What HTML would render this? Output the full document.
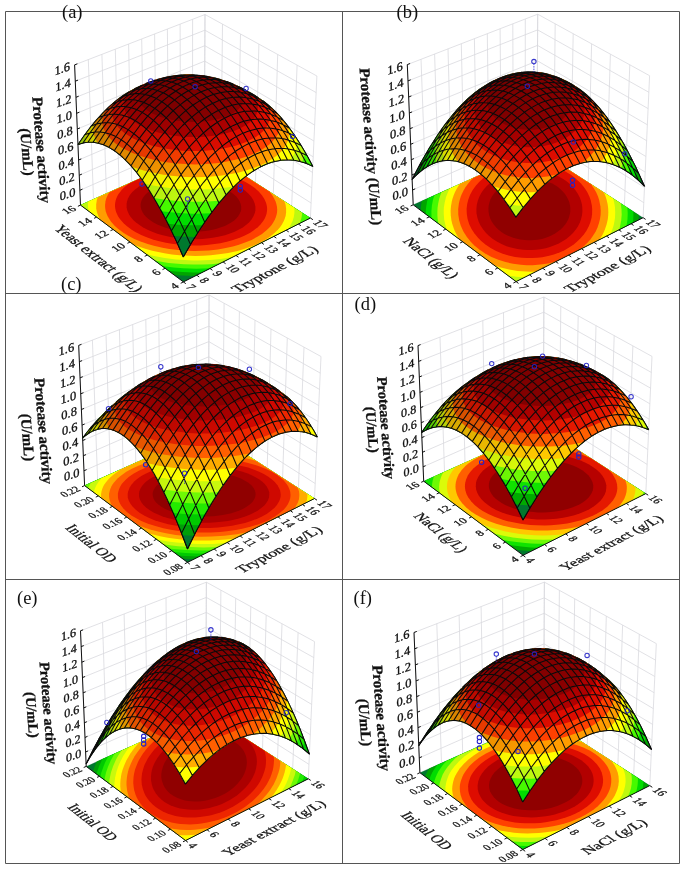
<!DOCTYPE html>
<html><head><meta charset="utf-8"><title>Response surface plots</title>
<style>html,body{margin:0;padding:0;background:#fff}svg{display:block}text{font-family:"Liberation Serif","Times New Roman",serif}</style>
</head><body>
<svg width="685" height="871" viewBox="0 0 685 871">
<defs><linearGradient id="sha" gradientUnits="userSpaceOnUse" x1="110" y1="50" x2="290" y2="230"><stop offset="0.1" stop-color="#000" stop-opacity="0.24"/><stop offset="0.3" stop-color="#000" stop-opacity="0.14"/><stop offset="0.6" stop-color="#000" stop-opacity="0"/><stop offset="1" stop-color="#000" stop-opacity="0"/></linearGradient><clipPath id="cla"><rect x="5.5" y="11.5" width="337.0" height="282.0"/></clipPath><linearGradient id="shb" gradientUnits="userSpaceOnUse" x1="442.7" y1="49.7" x2="622.7" y2="229.7"><stop offset="0.1" stop-color="#000" stop-opacity="0.24"/><stop offset="0.3" stop-color="#000" stop-opacity="0.14"/><stop offset="0.6" stop-color="#000" stop-opacity="0"/><stop offset="1" stop-color="#000" stop-opacity="0"/></linearGradient><clipPath id="clb"><rect x="342.5" y="11.5" width="337.0" height="282.0"/></clipPath><linearGradient id="shc" gradientUnits="userSpaceOnUse" x1="114.1" y1="330.5" x2="294.1" y2="510.5"><stop offset="0.1" stop-color="#000" stop-opacity="0.24"/><stop offset="0.3" stop-color="#000" stop-opacity="0.14"/><stop offset="0.6" stop-color="#000" stop-opacity="0"/><stop offset="1" stop-color="#000" stop-opacity="0"/></linearGradient><clipPath id="clc"><rect x="5.5" y="293.5" width="337.0" height="286.0"/></clipPath><linearGradient id="shd" gradientUnits="userSpaceOnUse" x1="452.2" y1="331.3" x2="626" y2="505.2"><stop offset="0.1" stop-color="#000" stop-opacity="0.24"/><stop offset="0.3" stop-color="#000" stop-opacity="0.14"/><stop offset="0.6" stop-color="#000" stop-opacity="0"/><stop offset="1" stop-color="#000" stop-opacity="0"/></linearGradient><clipPath id="cld"><rect x="342.5" y="293.5" width="337.0" height="286.0"/></clipPath><linearGradient id="she" gradientUnits="userSpaceOnUse" x1="114.7" y1="616.5" x2="288.5" y2="790.4"><stop offset="0.1" stop-color="#000" stop-opacity="0.24"/><stop offset="0.3" stop-color="#000" stop-opacity="0.14"/><stop offset="0.6" stop-color="#000" stop-opacity="0"/><stop offset="1" stop-color="#000" stop-opacity="0"/></linearGradient><clipPath id="cle"><rect x="5.5" y="579.5" width="337.0" height="284.0"/></clipPath><linearGradient id="shf" gradientUnits="userSpaceOnUse" x1="449.4" y1="617.6" x2="629.4" y2="797.6"><stop offset="0.1" stop-color="#000" stop-opacity="0.24"/><stop offset="0.3" stop-color="#000" stop-opacity="0.14"/><stop offset="0.6" stop-color="#000" stop-opacity="0"/><stop offset="1" stop-color="#000" stop-opacity="0"/></linearGradient><clipPath id="clf"><rect x="342.5" y="579.5" width="337.0" height="284.0"/></clipPath></defs>
<rect width="685" height="871" fill="#fff"/>
<path d="M5.5 11.5H679.5V863.5H5.5ZM342.5 11.5V863.5M5.5 293.5H679.5M5.5 579.5H679.5" fill="none" stroke="#555" stroke-width="1"/>
<g id="pa" clip-path="url(#cla)">
<path d="M80.5 205.1L204.3 149.7L205 14.5L74.6 64.9Z" fill="#fff"/>
<path d="M310.4 218L204.3 149.7L205 14.5L316.9 76Z" fill="#fff"/>
<path d="M80.5 205.1L74.6 64.9M93.5 199.3L88.3 59.5M106.4 193.6L101.9 54.3M119.1 187.9L115.3 49.1M131.7 182.3L128.6 44M144.1 176.7L141.7 39M156.4 171.2L154.6 34M168.6 165.7L167.4 29M180.6 160.3L180.1 24.1M192.5 155L192.6 19.3M204.3 149.7L205 14.5M310.4 218L316.9 76M291.7 206L297.1 65.1M273.3 194.2L277.7 54.5M255.5 182.7L258.9 44.1M238 171.4L240.5 34M221 160.5L222.5 24.1M204.3 149.7L205 14.5M79.9 190.3L204.4 135.4L311.1 203M79.3 175.2L204.4 120.8L311.8 187.8M78.6 160L204.5 106.1L312.5 172.4M78 144.6L204.6 91.3L313.2 156.8M77.3 129L204.7 76.3L313.9 141M76.6 113.3L204.7 61.1L314.7 125.1M76 97.3L204.8 45.7L315.4 108.9M75.3 81.2L204.9 30.2L316.2 92.6M74.6 64.9L205 14.5L316.9 76M80.5 205.1L204.3 149.7L310.4 218" fill="none" stroke="#d9d9de" stroke-width="0.8"/>
<path d="M183.4 281.9L310.4 218L204.3 149.7L80.5 205.1Z" fill="#00782e"/>
<path d="M195 276.1L182.4 275.6L174.1 275L80.5 205.1L204.3 149.7L310.4 218Z" fill="#00a500"/>
<path d="M202.3 272.4L193.3 272.4L182.9 272L175.9 271.5L168.4 270.8L80.5 205.1L204.3 149.7L310.4 218Z" fill="#00dc00"/>
<path d="M308.9 217.1L308.6 219L210.6 268.3L202.9 268.6L196.4 268.7L183.3 268.3L173.6 267.5L162.1 266L80.5 205.1L202.4 150.6L206.1 150.9Z" fill="#46fa00"/>
<path d="M301.5 217.7L300.7 220.6L299.6 223.5L220.3 263.3L211.3 264.2L202.2 264.6L193 264.6L183.8 264.3L177.7 263.8L168.6 262.9L162.7 262L154.9 260.6L80.5 205.1L196 153.4L199.9 153.6L212.1 154.8L302.1 212.7L302 214.8Z" fill="#bef810"/>
<path d="M293.8 216.9L292.6 220.9L291.4 223.6L289.9 226.2L287.5 229.6L233.2 256.9L226.3 258.1L220.9 258.9L209.8 259.9L198.5 260.4L192.8 260.4L184.3 260.1L175.8 259.4L164.7 258L153.9 256L146 254L88.5 211.1L88 207.1L88 204.3L88.3 201.6L188.9 156.7L199.3 157L209.5 157.9L219.1 159.3L294.3 207.7L294.5 210.1L294.4 212.8Z" fill="#ffff00"/>
<path d="M285.6 216L284.8 218.5L283.8 220.9L281.9 224.6L280.2 226.9L278.3 229.3L275 232.6L272.4 234.8L269.6 236.9L265 239.9L258.1 243.6L252.4 246.1L244.1 249L237.5 250.9L228.2 252.9L220.9 254.1L210.8 255.3L203.1 255.7L195.3 255.9L184.8 255.6L179.6 255.2L171.9 254.4L164.4 253.2L157 251.8L152.2 250.7L145.2 248.8L138.6 246.6L133.4 244.6L100.3 219.9L98.2 215.7L96.9 212L96.2 208.2L96.2 204.5L96.7 200.8L97.6 197.5L180.3 160.5L189.1 160.4L198.6 160.7L205.7 161.3L212.7 162.2L219.6 163.3L228.1 165L284.5 201.4L285.6 204.7L286.1 208.5L286.1 212.3Z" fill="#ff9c00"/>
<path d="M276.5 215L275.8 217.3L274.9 219.5L273.1 222.8L271.6 224.9L269.9 227L266.8 230L262 233.9L257.8 236.6L251.6 239.9L246.4 242.1L238.9 244.8L232.9 246.4L224.5 248.3L217.9 249.4L208.8 250.4L201.9 250.8L194.8 250.9L185.4 250.7L178.4 250.1L169.2 248.9L162.5 247.7L153.8 245.7L147.7 243.9L139.9 241.2L134.4 238.9L127.8 235.4L123.3 232.7L118 228.8L114.6 225.7L110.9 221.4L108.7 218.1L107.5 215.9L106.5 213.6L105.8 211.4L105.3 209.1L105.1 206.9L105.1 204.6L105.5 201.2L106.4 197.9L107.9 194.7L109.4 192.2L169.3 165.4L176.4 164.8L182.8 164.5L191.4 164.5L197.9 164.8L204.4 165.4L210.7 166.1L221.1 167.9L227.1 169.3L232.9 171L238.5 172.8L242.4 174.3L269.4 191.6L270.4 192.8L272.7 196L274 198.2L275.6 201.5L276.3 203.7L277 207.1L277.2 209.4L277 212.8Z" fill="#ff4000"/>
<path d="M266.5 214L265.8 215.9L265 217.9L263.4 220.8L260.5 224.5L257.8 227.2L253.5 230.5L249.8 232.9L244.3 235.8L239.7 237.8L233.1 240.1L227.8 241.6L220.4 243.2L214.6 244.1L206.6 245L200.5 245.4L194.3 245.5L186.1 245.2L179.9 244.8L171.8 243.7L165.9 242.7L158.3 240.9L152.8 239.4L146 236.9L141.2 234.9L135.3 231.9L131.3 229.5L126.7 226.1L123.6 223.3L120.3 219.6L118.3 216.7L116.4 212.7L115.7 210.7L115.3 208.7L115 206.7L115 204.7L115.2 202.8L115.6 200.8L116.2 198.8L117.4 196L118.5 194.1L120.5 191.4L122 189.6L124.7 187.1L127.8 184.6L130.5 182.8L148.8 174.6L154.6 173L159.7 171.8L165.1 170.8L172.4 169.9L178 169.4L183.7 169.2L191.4 169.2L197.1 169.4L204.7 170.1L212.2 171.2L219.5 172.6L226.5 174.4L233.1 176.5L239.3 179L245 181.7L250.2 184.8L254.8 188.1L258.7 191.5L261.9 195.2L264.4 199L266.1 203L266.6 205L267 207L267.1 209L267 211Z" fill="#de0c00"/>
<path d="M254.9 212.7L253.6 216L251.7 219.3L249 222.4L246.6 224.6L242.8 227.4L239.5 229.3L234.7 231.7L230.7 233.3L225 235.2L220.5 236.3L214.2 237.6L209.2 238.3L202.4 239L197.3 239.2L192 239.2L185.1 238.9L179.9 238.5L173.1 237.5L168.2 236.6L161.8 235L157.3 233.7L151.6 231.5L147.6 229.8L142.8 227.2L139.5 225.1L135.7 222.2L133.2 219.9L130.5 216.7L128.9 214.2L127.4 210.8L126.6 207.4L126.6 204.1L127 201.6L128.1 198.3L129.9 195.1L132.3 192L135.4 189.2L139 186.5L143.2 184L147.9 181.8L153 179.9L158.5 178.2L164.3 176.8L170.4 175.8L176.7 175L183.1 174.6L189.7 174.5L196.2 174.8L202.7 175.4L209 176.3L215.2 177.5L221.2 179L226.8 180.9L232.1 183L237 185.3L241.4 187.9L245.2 190.7L248.5 193.7L251.2 196.8L253.3 200.1L254.7 203.4L255.4 206.8L255.4 210.2Z" fill="#b20000"/>
<path d="M240.8 211.2L239.7 213.8L238.2 216.3L236.1 218.7L234.2 220.4L231.2 222.6L228.6 224.1L224.9 225.9L221.8 227.1L217.4 228.6L213.9 229.5L208.9 230.5L205.1 231L199.8 231.5L195.8 231.7L191.8 231.7L186.4 231.5L182.4 231.1L177.1 230.4L173.3 229.7L168.3 228.5L164.8 227.4L160.4 225.8L157.3 224.4L153.5 222.5L150.9 220.8L147.9 218.6L146 216.8L143.8 214.3L142.6 212.3L141.4 209.7L140.7 207.1L140.6 204.5L140.9 202.5L141.7 199.9L143.1 197.4L145 195L147.4 192.8L150.2 190.7L153.5 188.7L157.1 187L161.1 185.4L165.4 184.1L170 183L174.8 182.2L179.7 181.6L184.8 181.3L189.9 181.2L195 181.4L200.1 181.9L205.1 182.6L210 183.6L214.7 184.8L219.1 186.2L223.2 187.9L227 189.8L230.4 191.8L233.4 194L236 196.3L238.1 198.8L239.6 201.3L240.7 203.9L241.2 206.6L241.2 209.2Z" fill="#900000"/>
<circle cx="142" cy="184" r="2.2" fill="none" stroke="#2424c8" stroke-width="1.05"/>
<circle cx="240.3" cy="186.5" r="2.2" fill="none" stroke="#2424c8" stroke-width="1.05"/>
<circle cx="240.3" cy="190" r="2.2" fill="none" stroke="#2424c8" stroke-width="1.05"/>
<path d="M80.5 205.1L183.4 281.9L310.4 218M80.5 205.1L74.6 64.9M183.4 281.9L185.8 283.7M196.8 275.2L199.2 277M210 268.5L212.5 270.3M223.1 262L225.6 263.7M236 255.5L238.5 257.2M248.8 249L251.3 250.8M261.4 242.7L263.9 244.4M273.9 236.4L276.3 238.1M286.2 230.2L288.7 231.9M298.4 224.1L300.9 225.7M310.4 218L312.9 219.7M183.4 281.9L180.7 283.3M165.1 268.3L162.5 269.6M147.4 255L144.7 256.3M130 242.1L127.4 243.3M113.1 229.5L110.5 230.7M96.6 217.2L94 218.3M80.5 205.1L77.9 206.3M79.9 190.3L82.5 189.1M79.3 175.2L81.9 174.1M78.6 160L81.3 158.9M78 144.6L80.6 143.5M77.3 129L80 127.9M76.6 113.3L79.4 112.2M76 97.3L78.7 96.2M75.3 81.2L78 80.1M74.6 64.9L77.4 63.8" fill="none" stroke="#111" stroke-width="1"/>
<path d="M128.5 92.1L134.8 88.7L141.4 85.5L147.7 82.8L154 80.5L160.8 78.5L166.9 77.1L173.6 75.9L179.9 75.2L186.6 74.8L192.8 74.9L198.9 75.3L205.6 76.1L212 77.3L218.3 78.9L225 81L231.5 83.4L237.7 86.1L244 89.2L250.2 92.6L256.5 96.5L262.9 100.8L267.2 104.1L271.6 107.9L275.9 112.1L281.3 118L285.7 123.2L290 128.9L294.4 135.1L299.8 143.4L304.1 150.6L308.5 158.3L312.8 166.4L308.1 164.2L304.5 162.8L300.9 161.7L297.3 160.8L292.4 160.1L288.8 159.9L285 160L281.3 160.3L276.3 161.1L272.5 162.1L268.6 163.4L264.8 164.9L260.9 166.7L257 168.8L253.1 171.1L249.2 173.8L243.9 177.8L239.9 181.1L231.9 188.6L223.9 197.2L215.8 206.9L207.7 217.8L199.6 229.7L191.5 242.8L183.3 257L176.6 241.7L169.8 227.4L163.1 214.2L156.5 202.2L149.8 191.2L143.3 181.4L136.7 172.6L133.5 168.7L129.2 163.8L122.8 157.5L116.5 152.3L113.4 150.1L110.3 148.2L107.3 146.5L103.2 144.7L100.2 143.7L97.2 142.9L94.2 142.4L90.3 142.2L87.4 142.3L84.6 142.7L81.7 143.3L78 144.5L84.4 135.3L90.8 126.7L97.3 119L103.7 112L110.2 105.7L116.7 100.2L123.1 95.5Z" fill="#00782e" stroke="#111" stroke-width="1" stroke-linejoin="round"/>
<path d="M195.1 236.9L182.3 236.5L173.9 235.9L167.2 222.1L160.5 209.4L153.9 197.8L146.2 185.7L139.7 176.5L136.5 172.3L132.2 167.1L125.8 160.3L122.6 157.3L118.5 153.8L113.3 150L108.2 147L103.1 144.7L98.1 143.1L93.2 142.3L88.3 142.2L83.6 142.9L80.8 143.6L78 144.5L83.1 137L88.2 130.1L93.4 123.5L99.8 116.1L105 110.7L111.5 104.6L116.7 100.2L123.1 95.5L129.4 91.6L137 87.6L144.2 84.2L151.2 81.5L158.2 79.2L165.3 77.4L172.8 76L179.9 75.2L185.1 74.9L190.2 74.8L195.4 75L200.4 75.4L205.6 76.1L210.5 77L215.8 78.2L220.6 79.5L225.9 81.3L230.7 83.1L235.9 85.3L240.8 87.6L245.8 90.1L250.7 92.9L260.4 99.1L267.2 104.1L273.7 109.9L280.2 116.7L286.8 124.6L293.3 133.5L299.8 143.4L306.3 154.4L312.8 166.4L309.3 164.7L305.8 163.2L302.2 162.1L298.6 161.1L295 160.4L291.4 160L285.3 160L281.5 160.3L277.8 160.8L274 161.7L270.2 162.8L266.4 164.2L262.6 165.9L256.1 169.3L252.3 171.7L248.3 174.4L241.8 179.5L233.9 186.6L227.2 193.4L219.2 202.7L211.2 213L203.1 224.4Z" fill="#00a500"/>
<path d="M202.5 225.3L193.3 225.3L182.7 225L175.7 224.5L168 223.7L162.5 213L157 203L151.5 193.8L144.9 183.8L139.5 176.2L133.1 168.2L127.8 162.3L121.5 156.3L116.3 152.1L113.2 149.9L110.1 148L105 145.5L102 144.3L99 143.4L94.1 142.4L91.2 142.2L88.3 142.2L83.6 142.9L80.7 143.6L78 144.5L81.8 138.9L86.9 131.8L90.8 126.7L96 120.5L99.8 116.1L105 110.7L110.2 105.7L115.4 101.3L119.2 98.2L124.4 94.6L129.4 91.6L135.5 88.3L141.4 85.5L147.3 83L153.3 80.8L159.1 79L164.5 77.6L170.4 76.4L175.9 75.6L181.6 75L187.3 74.8L192.8 74.9L198.1 75.2L203.9 75.9L209.7 76.8L214.9 78L220.6 79.5L226 81.3L231.7 83.5L237.5 86L243.2 88.8L248.7 91.7L253.9 94.9L258.8 98L264 101.6L267.2 104.1L271.6 107.9L274.8 111L281.3 118L285.7 123.2L290 128.9L297.6 140L305.2 152.5L312.8 166.4L309.3 164.7L305.7 163.2L299.8 161.4L296.1 160.6L292.5 160.1L286.3 159.9L282.6 160.1L278.9 160.6L272.5 162.1L266.2 164.3L259.7 167.3L253.2 171.1L246.7 175.6L240.1 181L233.4 187.1L225.4 195.5L217.4 205L209.3 215.6Z" fill="#00dc00"/>
<path d="M311.4 163.7L311 165.5L305.2 163L299.2 161.3L294.4 160.4L289.6 159.9L284.7 160L279.8 160.5L274.8 161.5L269.8 163L266 164.4L262.1 166.1L258.3 168.1L254.4 170.3L250.6 172.8L246.7 175.6L240.1 180.9L232.2 188.3L225.6 195.2L217.6 204.6L211 213.3L203.2 213.6L193.2 213.7L183.1 213.3L173.2 212.6L161.5 211.2L156 201.3L150.5 192.2L145 183.9L138.5 174.9L133.2 168.2L126.8 161.3L121.5 156.3L115.3 151.3L111.2 148.6L106.1 145.9L101 144L96.1 142.7L92.2 142.2L87.4 142.3L82.6 143.1L78 144.5L84.4 135.3L90.8 126.7L97.3 119L103.7 112L110.2 105.7L116.7 100.2L123.1 95.5L128.5 92.1L137.2 87.4L145.8 83.6L154.7 80.3L163 77.9L172.1 76.1L180.4 75.1L189.4 74.8L198.1 75.2L206.6 76.3L215.1 78.1L223.7 80.5L232.5 83.8L240.8 87.6L249.9 92.4L258.8 98L266.2 103.3L272.8 109L278.3 114.6L284.9 122.3L290.5 129.5L294.9 135.8L298.2 140.8L304.8 151.7Z" fill="#46fa00"/>
<path d="M304.1 156.5L303.3 159.3L302.1 162L296.2 160.6L291.4 160L285.3 159.9L280.4 160.4L274.1 161.6L269.1 163.2L264 165.2L258.9 167.7L253.8 170.7L248.6 174.2L243.4 178.1L239.5 181.4L234.3 186.3L230.3 190.2L225 195.9L221 200.5L211.8 201.3L202.4 201.7L193 201.7L183.6 201.4L177.4 201L168.1 200.1L162 199.3L154 197.9L148.5 189.1L143 181L137.6 173.7L131.2 166L125.8 160.4L120.6 155.5L115.4 151.4L112.3 149.3L109.2 147.5L105.1 145.5L101.1 144L97.1 142.9L93.2 142.3L89.3 142.2L85.5 142.5L81.7 143.3L78 144.5L83.1 137L89.5 128.4L96 120.5L102.4 113.3L107.6 108.1L114.1 102.3L120.5 97.3L127 93L135.5 88.3L143.6 84.5L152.1 81.2L160.8 78.5L169 76.6L177.4 75.4L185.9 74.8L194.5 74.9L203.1 75.8L212 77.3L220.6 79.5L229.2 82.5L237.7 86.1L246.6 90.6L255.6 95.9L264 101.6L267.3 104.2L270.6 107L277.2 113.4L283.8 120.9L290.4 129.5L294.8 135.8L298.1 140.8L304.7 151.7L304.6 153.7Z" fill="#bef810"/>
<path d="M296.5 147.8L295.3 151.7L294 154.3L292.5 156.8L290.1 160L286.4 159.9L282.8 160.1L276.6 161.1L272.9 162L269.1 163.2L262.8 165.8L258.9 167.7L255.1 169.9L248.7 174.1L244.8 177.1L240.9 180.3L234.3 186.2L227.2 187.4L221.7 188.1L210.3 189.2L198.7 189.6L192.9 189.6L184.1 189.3L175.4 188.7L164 187.3L152.9 185.4L144.8 183.6L138.4 174.7L132 166.9L125.7 160.2L122.5 157.2L118.4 153.7L114.3 150.7L110.2 148.1L106.2 146L102.2 144.4L98.3 143.2L94.4 142.5L90.5 142.2L85.8 142.5L85.3 138.6L85.3 136.1L85.7 133.5L89.5 128.4L97.3 119L105 110.6L111.5 104.5L118 99.2L124.4 94.6L130.4 91.1L138.1 87L146 83.5L154 80.5L162.3 78.1L170.4 76.4L178.2 75.3L186.6 74.8L194.5 74.9L203.1 75.8L212 77.3L220.6 79.5L229.1 82.5L237.7 86.1L246.3 90.4L254.7 95.4L262.9 100.8L267.3 104.2L270.6 107L277.2 113.4L281.6 118.2L284.9 122.2L291.5 130.9L297 139L297.2 141.3L297.2 143.9Z" fill="#ffff00"/>
<path d="M288.3 139.1L287.6 141.5L286.6 143.8L284.6 147.3L282.9 149.5L280.9 151.7L277.5 155L274.9 157L272 159L267.3 161.9L260.2 165.4L254.3 167.8L245.8 170.6L238.9 172.4L229.3 174.3L221.8 175.5L211.4 176.6L203.4 177L195.4 177.2L184.7 176.9L179.3 176.6L171.4 175.8L163.5 174.7L155.9 173.3L151 172.3L143.8 170.5L137 168.4L131.6 166.5L127.4 161.9L123.2 157.8L119 154.2L114.8 151L110.7 148.4L106.6 146.2L102.6 144.5L97.6 143L95.4 139L94.1 135.5L93.5 131.9L93.4 128.4L93.9 124.8L94.9 121.7L100 115.9L106.5 109.2L112.9 103.3L119.3 98.2L125.7 93.8L133.7 89.2L141.4 85.5L148.8 82.4L156.5 79.8L164.3 77.6L172.1 76.1L179.7 75.2L187.3 74.8L194.5 74.9L202.7 75.7L211.2 77.2L219.2 79.1L227.6 81.9L235.9 85.3L244 89.2L252.3 93.9L260.4 99.1L267.3 104.2L273.9 110.1L280.6 117.1L287.2 125.2L288.3 128.4L288.9 131.9L288.9 135.5Z" fill="#ff9c00"/>
<path d="M279.3 130.3L278.6 132.4L277.7 134.5L275.8 137.6L274.2 139.6L272.5 141.6L269.3 144.5L264.3 148.1L260 150.7L253.6 153.8L248.2 155.9L240.5 158.5L234.3 160.1L225.6 161.8L218.8 162.9L209.4 163.8L202.2 164.2L195 164.4L185.2 164.1L178 163.6L168.5 162.5L161.5 161.4L152.6 159.5L146.2 157.8L138.2 155.2L132.6 153L125.7 149.8L121.1 147.2L115.6 143.5L112.1 140.6L108.3 136.5L106 133.4L104.8 131.3L103.8 129.2L103 127L102.6 124.9L102.3 122.7L102.3 120.6L102.9 116.9L104.2 113.3L105.2 111.2L106.5 109.3L108.1 107.7L114.4 102.1L118.2 99L122 96.3L128.3 92.2L137 87.6L144.2 84.2L151.2 81.5L158.5 79.1L166 77.3L173 76L180.4 75.1L187.3 74.8L194.5 74.9L202.7 75.7L210.5 77L218.2 78.9L226 81.3L233.8 84.4L241.7 88L249.4 92.2L257.3 97L263.9 101.6L269.9 106.4L272.9 109.2L276 113.3L277.3 115.3L278.3 117.4L279.1 119.5L279.6 121.7L279.9 123.8L279.9 126L279.7 128.1Z" fill="#ff4000"/>
<path d="M269.1 121.3L268.5 123.1L267.7 125L266 127.7L263 131.2L260.2 133.7L255.8 136.9L251.9 139.1L246.2 141.9L241.5 143.7L234.7 145.9L229.2 147.3L221.5 148.9L215.5 149.8L207.2 150.6L200.9 151L194.5 151.1L185.9 150.9L179.5 150.4L171.1 149.5L165 148.5L157.1 146.8L151.5 145.4L144.4 143.1L139.4 141.2L133.3 138.4L129.2 136.1L124.4 132.9L121.2 130.3L117.8 126.8L115.7 124L113.7 120.3L113.1 118.5L112.6 116.6L112.4 114.7L112.4 112.8L112.5 111L113 109.1L113.6 107.3L114.4 105.5L116.6 102L119.7 98.6L123.4 95.4L127.3 92.8L134 89.1L140.6 85.8L147.3 83L154 80.5L160.8 78.5L167.5 76.9L174.4 75.8L181.2 75.1L187.7 74.8L194.5 74.9L202.2 75.6L209.7 76.8L216.7 78.5L224.2 80.7L231.7 83.5L239.2 86.8L246.3 90.4L253.6 94.7L258.1 97.7L261.5 100.6L264.4 103.7L267 107.3L268.7 110.9L269.6 114.2L269.7 117.5L269.6 119.4Z" fill="#de0c00"/>
<path d="M257.3 112.1L256 115.2L254.6 117.5L252 120.4L249.6 122.6L245.8 125.2L242.6 127.1L237.7 129.4L233.7 130.9L227.9 132.8L223.3 133.9L216.8 135.2L211.7 136L204.7 136.7L199.3 137L193.9 137.1L186.7 136.9L181.3 136.5L174.2 135.7L169 134.9L162.3 133.5L157.5 132.3L151.5 130.4L147.3 128.8L142.1 126.5L138.6 124.6L134.5 121.9L131.8 119.7L128.8 116.8L127 114.5L125.3 111.3L124.3 108.2L124.1 105L124.3 102.7L125.3 99.6L127.1 96.6L129.4 93.7L132.5 91L136.1 88.4L140.3 86L144.2 84.2L150.4 81.8L157 79.6L163.4 77.8L169.5 76.6L175.9 75.6L182 75L188.1 74.8L194.5 74.9L200.5 75.4L206.6 76.3L212.8 77.5L219.2 79.1L225.2 81.1L231.7 83.5L238.7 86.5L243.3 89L247.3 91.6L250.7 94.3L253.5 97.3L255.7 100.3L257.1 103.4L257.8 106.6L257.8 109.7Z" fill="#b20000"/>
<path d="M242.8 102.7L241.8 105.1L240.1 107.4L238 109.7L236 111.3L232.9 113.3L230.2 114.7L226.3 116.4L223.1 117.5L218.5 118.9L214.8 119.7L209.7 120.7L205.7 121.2L200.2 121.7L196 121.8L191.8 121.9L186.2 121.7L182 121.3L176.5 120.7L172.5 120L167.4 118.9L163.7 117.9L159.1 116.4L155.8 115.1L151.9 113.3L149.2 111.8L146.1 109.7L144.1 108L141.9 105.7L140.6 103.9L139.3 101.5L138.6 99L138.5 96.6L138.8 94.7L139.7 92.4L141.2 90L143.1 87.8L145.6 85.7L148.6 83.7L152 81.9L155.8 80.3L159.9 78.9L164.4 77.6L169 76.6L174.4 75.8L179.7 75.2L185 74.9L190.2 74.8L195 75L200.4 75.4L205.6 76.1L210.7 77.1L215.6 78.2L220.2 79.5L224.5 81.1L228.5 82.8L232 84.7L235.2 86.7L237.8 88.9L240 91.1L241.6 93.5L242.7 95.9L243.3 98.4L243.2 100.8Z" fill="#900000"/>
<path d="M128.5 92.1L134.8 88.7L141.4 85.5L147.7 82.8L154 80.5L160.8 78.5L166.9 77.1L173.6 75.9L179.9 75.2L186.6 74.8L192.8 74.9L198.9 75.3L205.6 76.1L212 77.3L218.3 78.9L225 81L231.5 83.4L237.7 86.1L244 89.2L250.2 92.6L256.5 96.5L262.9 100.8L267.2 104.1L271.6 107.9L275.9 112.1L281.3 118L285.7 123.2L294.4 135.1L299.8 143.4L304.1 150.6L312.8 166.4L308.1 164.2L304.5 162.8L297.3 160.8L292.4 160.1L288.8 159.9L281.3 160.3L276.3 161.1L272.5 162.1L264.8 164.9L257 168.8L249.2 173.8L239.9 181.1L231.9 188.6L223.9 197.2L215.8 206.9L207.7 217.8L199.6 229.7L191.5 242.8L183.3 257L176.6 241.7L169.8 227.4L163.1 214.2L156.5 202.2L149.8 191.2L143.3 181.4L136.7 172.6L129.2 163.8L122.8 157.5L116.5 152.3L110.3 148.2L107.3 146.5L103.2 144.7L97.2 142.9L94.2 142.4L90.3 142.2L84.6 142.7L81.7 143.3L78 144.5L84.4 135.3L90.8 126.7L97.3 119L103.7 112L110.2 105.7L116.7 100.2L123.1 95.5Z" fill="url(#sha)"/>
<path d="M183.3 257L177.7 244.1L170.7 229.1L163.7 215.3L156.7 202.7L149.8 191.2L143 181L136.2 171.9L129.5 164.1L122.8 157.5L120.2 155.2L116.3 152.1L113.7 150.3L109.8 147.9L107.3 146.5L103.5 144.8L100.9 143.9L97.2 142.9L94.7 142.5L91.1 142.2L88.6 142.2L85 142.6L81.5 143.4L78 144.5M183.3 257L191.8 242.3L200.3 228.7L208.7 216.4L217.2 205.2L225.6 195.3L229.8 190.8L233.9 186.6L238.1 182.7L242.2 179.1L246.4 175.8L250.5 172.9L253.8 170.7L258.6 167.9L262.7 165.8L266.7 164.1L270.7 162.6L274.7 161.5L278.6 160.7L282.5 160.1L286.4 159.9L290.3 160L294.1 160.3L297.9 161L301.7 161.9L305.4 163.1L309.1 164.6L312.8 166.4M190.5 244.5L184.8 231.8L177.8 216.9L170.8 203.2L163.8 190.7L156.9 179.4L150.1 169.4L143.2 160.5L136.5 152.9L129.8 146.4L127.2 144.2L123.3 141.2L120.6 139.4L116.8 137.1L114.2 135.8L110.4 134.3L107.8 133.5L104.1 132.6L101.6 132.2L97.9 132L95.5 132.1L91.8 132.6L88.3 133.5L84.7 134.8M177.4 243.5L185.9 228.9L194.3 215.5L202.8 203.3L211.2 192.3L219.6 182.5L223.8 178.1L228 174L232.2 170.2L236.3 166.7L240.5 163.5L244.6 160.6L247.8 158.5L252.7 155.8L256.8 153.8L260.8 152.2L264.8 150.8L268.8 149.8L272.8 149L276.7 148.6L280.6 148.5L284.4 148.6L288.3 149.1L292.1 149.8L295.9 150.8L299.6 152.1L303.3 153.7L307 155.6M197.6 232.9L192 220.2L184.9 205.5L177.9 192L171 179.6L164 168.5L157.1 158.6L150.3 149.9L143.5 142.4L136.9 136.2L134.2 134L130.2 131.1L127.6 129.4L123.7 127.3L121.1 126L117.3 124.6L114.8 123.8L111 123.1L108.5 122.8L104.8 122.7L102.3 122.9L98.7 123.5L95.1 124.5L91.5 125.9M171.5 230.8L178.3 219.2L186.7 205.7L195.2 193.4L203.6 182.3L212 172.4L216.2 168L220.4 163.8L224.6 160L228.7 156.4L232.9 153.2L237 150.3L240.3 148.2L245.2 145.4L248.4 143.8L253.3 141.7L256.5 140.6L261.3 139.3L264.5 138.6L269.2 138L272.4 137.9L277 138L280.1 138.3L284.7 139.1L287.8 139.9L292.3 141.4L296.7 143.3L301.2 145.6M204.7 222.1L199.1 209.5L192.1 195L185 181.6L178.1 169.4L171.1 158.5L164.2 148.7L157.4 140.2L150.6 132.9L147.9 130.3L143.9 126.8L141.2 124.7L137.2 121.9L134.6 120.3L130.7 118.2L128.1 117.1L124.2 115.7L121.7 115.1L117.9 114.4L115.4 114.2L111.6 114.2L109.2 114.5L105.5 115.2L101.9 116.3L98.3 117.8M165.6 219L172.4 207.4L180.8 194.1L189.3 181.9L197.7 171L206.1 161.3L210.3 156.9L214.5 152.9L218.7 149.1L222.8 145.7L227 142.5L231.1 139.7L234.4 137.6L239.3 135L242.5 133.4L247.4 131.5L250.6 130.4L255.4 129.2L258.6 128.6L263.3 128.1L266.5 128L271.2 128.3L274.3 128.7L278.9 129.6L281.9 130.4L286.4 132.1L290.9 134.1L295.3 136.5M211.8 212.1L206.2 199.7L199.2 185.3L192.2 172.1L185.2 160.1L178.2 149.3L171.3 139.7L164.4 131.3L157.6 124.2L154.9 121.7L150.9 118.3L148.2 116.3L144.2 113.6L141.6 112L137.7 110.1L135.1 109L131.2 107.8L128.6 107.2L124.8 106.6L122.3 106.5L118.5 106.6L116 106.9L112.4 107.7L108.7 109L105.1 110.6M159.7 208L166.5 196.5L174.9 183.3L183.4 171.4L191.8 160.6L200.2 151.1L204.4 146.8L208.6 142.8L212.8 139.1L216.9 135.7L221 132.7L225.2 130L228.5 128L233.4 125.4L236.6 123.9L241.5 122.1L244.7 121.1L249.5 120L252.7 119.5L257.5 119.1L260.6 119.1L265.3 119.4L268.4 119.9L273 120.9L276 121.8L280.6 123.5L285.1 125.7L289.5 128.2M218.9 203L213.3 190.8L206.3 176.5L199.2 163.4L192.2 151.6L185.3 140.9L178.4 131.5L171.5 123.4L168.1 119.7L164.7 116.4L162 114L157.9 110.7L155.2 108.7L151.2 106.1L148.6 104.7L144.6 102.8L142 101.8L138.1 100.7L135.6 100.1L131.7 99.7L129.2 99.6L125.4 99.9L122.9 100.2L119.2 101.1L115.6 102.5L111.9 104.2M153.9 197.8L160.6 186.5L169.1 173.5L177.5 161.7L185.9 151.1L190.1 146.2L194.3 141.7L198.5 137.5L202.7 133.6L206.9 130L211 126.7L215.2 123.7L219.3 121.1L222.6 119.2L227.5 116.7L230.7 115.3L235.6 113.6L238.8 112.6L243.6 111.6L246.8 111.2L251.6 110.9L254.7 111L259.4 111.4L262.5 111.9L267.1 113.1L270.2 114L274.7 115.9L279.2 118.1L283.7 120.7M226 194.8L220.4 182.7L213.3 168.6L206.3 155.7L199.3 144L192.3 133.5L185.4 124.3L178.5 116.3L175.1 112.7L171.7 109.5L169 107.1L164.9 103.9L162.2 102L158.2 99.6L155.6 98.1L151.6 96.4L149 95.5L145.1 94.4L142.5 94L138.6 93.6L136.1 93.6L132.3 93.9L129.8 94.4L126.1 95.4L122.4 96.8L118.7 98.6M148.1 188.5L154.8 177.3L163.2 164.5L171.7 152.8L180.1 142.4L184.3 137.6L188.5 133.2L192.7 129.1L196.8 125.2L201 121.7L205.1 118.5L209.3 115.7L213.4 113.1L216.7 111.2L221.6 108.9L224.9 107.5L229.7 105.9L232.9 105L237.8 104.1L240.9 103.8L245.7 103.6L248.9 103.7L253.5 104.2L256.7 104.8L261.3 106.1L264.3 107.1L268.9 109L273.4 111.4L277.9 114.1M233.1 187.4L227.4 175.4L220.4 161.5L213.4 148.8L206.4 137.2L199.4 127L192.4 117.9L185.5 110.1L182.1 106.6L178.7 103.4L176 101.1L171.9 98L169.2 96.2L165.2 93.8L162.5 92.5L158.6 90.9L155.9 90L152 89L149.4 88.6L145.5 88.4L143 88.5L139.2 88.9L136.7 89.4L132.9 90.5L129.2 92L125.6 93.9M142.3 180.1L149.1 169L157.5 156.3L165.9 144.8L174.3 134.6L178.4 129.9L182.6 125.5L186.8 121.5L191 117.8L195.1 114.3L199.3 111.2L203.4 108.4L207.5 106L210.8 104.2L215.7 101.9L219 100.6L223.9 99.1L227.1 98.3L231.9 97.5L235.1 97.2L239.8 97.1L243 97.3L247.7 97.9L250.8 98.6L255.4 99.9L258.5 101L263.1 103L267.6 105.5L272 108.3M240.1 181L234.4 169.1L227.4 155.3L220.4 142.8L213.4 131.4L207.1 122.2L200.1 113.2L193.2 105.4L189.8 102L186.3 98.9L180.2 94L176.8 91.7L173.5 89.7L170.1 88L166.8 86.7L163.5 85.6L160.2 84.8L157 84.3L153.7 84L150.5 84.1L147.3 84.5L144.1 85.1L141 86L137.9 87.2L134.5 88.8M136.6 172.5L143.3 161.6L151.7 149L160.1 137.7L168.5 127.6L172.7 123L176.8 118.8L181 114.8L185.2 111.2L189.3 107.8L193.5 104.8L197.6 102.1L201.7 99.7L205 98L209.9 95.8L213.2 94.6L218 93.2L221.3 92.4L226.1 91.7L229.3 91.5L234 91.5L237.2 91.8L241.9 92.5L245 93.2L249.6 94.6L252.7 95.8L257.2 97.9L261.8 100.4L266.2 103.3M247 175.3L241.4 163.6L234.4 150L228 138.8L221 127.5L214.7 118.4L208.5 110.3L202.2 103.1L199.5 100.3L195.3 96.4L189.9 91.8L186.5 89.4L183.1 87.2L180.4 85.7L177 84.1L173.7 82.8L170.4 81.8L167.8 81.2L164.5 80.7L161.2 80.5L158 80.6L154.8 81L151.6 81.6L148.4 82.6L145.7 83.6M131 165.7L137.6 155L146 142.6L154.4 131.5L162.7 121.5L170.2 113.7L174.4 109.7L178.6 106.1L182.7 102.8L186.9 99.8L191 97.1L195.1 94.7L198.4 93L202.5 91.2L206.6 89.7L210.6 88.5L214.6 87.6L218.7 87L222.7 86.7L226.6 86.7L230.6 87L234.5 87.5L238.4 88.4L242.3 89.6L246.1 91.1L249.9 92.8L253.7 94.8L258.2 97.6M253.9 170.6L248.3 159L242.7 148.2L237.1 138.1L230.1 126.6L223.8 117.3L217.5 109L211.2 101.7L205 95.4L199.5 90.6L196.8 88.5L192.7 85.7L187.3 82.6L183.9 81.1L180.6 79.9L177.9 79.1L174.6 78.4L171.3 78L168.7 77.9L166.1 77.9L162.2 78.4L157 79.6M125.3 159.9L132 149.2L140.3 137.1L147.9 127.1L155.4 118.2L162.9 110.3L170.4 103.3L177.8 97.4L182 94.5L186.1 92L189.4 90.2L193.5 88.2L196.7 86.8L200.8 85.4L204 84.4L208.1 83.5L212.1 83L216.1 82.7L222.4 82.8L225.6 83.2L230.3 84.1L233.4 84.9L238 86.5L242.6 88.5L245.8 90.2M260.8 166.7L255.2 155.3L249.5 144.6L243.9 134.7L237.6 124.4L232 116.2L225.7 107.8L220.2 101.2L213.9 94.7L208.4 89.7L202.3 85.1L196.8 81.7L194.1 80.4L190.7 78.9L188.1 78L184.7 77.1L179.4 76.2L174.2 76.1L171.6 76.3L168.5 76.8M119.8 154.8L126.4 144.4L133.1 134.7L139.7 125.7L148.1 115.7L154.7 108.5L162.2 101.4L169.7 95.3L176.3 90.7L179.5 88.7L183.7 86.5L186.9 84.9L191 83.3L194.3 82.1L198.3 81L202.3 80.2L205.6 79.8L211.9 79.5L215.1 79.6L219.8 80.2L223 80.8L226.9 81.8L233.3 84.1M267.6 163.8L262 152.4L256.3 141.9L251.4 133.3L245.8 124.2L240.9 116.9L234.6 108.3L229.1 101.5L223.5 95.5L218.7 90.9L213.2 86.4L207.7 82.6L205 81L201.6 79.3L196.9 77.4L194.2 76.5L190.8 75.7L188.2 75.3L184.9 75L180 75.2M114.3 150.7L120.9 140.3L127.5 130.8L134.2 122L140.8 114L147.5 106.8L154.1 100.3L160.7 94.7L168.1 89.3L174.7 85.3L181.3 82.1L185.3 80.5L188.6 79.5L195 78L201.5 77.2L207.8 77.2L214.1 78L220.6 79.6M274.3 161.6L270.1 153.2L264.5 142.6L258.9 132.7L253.3 123.7L248.4 116.4L242.8 108.8L237.9 102.8L232.3 96.6L227.5 91.9L222 87.2L217.2 83.7L211.7 80.4L206.3 77.9L201.6 76.3L196.9 75.3L191.6 74.8M108.9 147.3L113.8 139.6L120.4 130L127 121.2L133.7 113.1L139.5 106.7L146.1 100.1L151.9 95L158.4 89.9L164.2 86.1L170.8 82.4L176.5 79.9L183 77.7L189.4 76.3L195 75.7L199 75.6L202.2 75.8L207.8 76.5M280.9 160.3L276.7 152L271.1 141.6L266.2 133L261.3 125.1L257.2 118.8L251.6 111L247.4 105.7L241.8 99.3L237 94.3L232.1 89.9L227.3 86.1L222.5 82.9L217.7 80.3L213 78.2L208.3 76.7L203.3 75.8M103.5 144.8L108.4 137.2L115 127.8L120 121.2L125.7 114L131.5 107.5L137.3 101.6L143.1 96.2L148.8 91.5L154.6 87.3L161.1 83.3L166.8 80.4L172.5 78.2L178.2 76.5L183.8 75.4L189.4 74.9L194.8 75M287.5 159.9L283.3 151.7L279.1 143.9L274.9 136.5L269.3 127.3L265.1 121L261 115L256.1 108.7L251.2 102.9L247 98.4L242.2 93.7L238 90.1L233.2 86.5L229.1 83.9L224.3 81.4L219.6 79.4L215.1 78M98.2 143.2L103.1 135.7L108.1 128.6L113 122L119.6 113.8L124.5 108.2L129.4 103.1L134.4 98.3L140.1 93.3L145 89.6L150.8 85.7L155.7 82.9L161.4 80.1L167 77.9L171.9 76.5L176.7 75.6L181.8 75M293.9 160.3L289.8 152.2L285.6 144.5L281.4 137.2L277.2 130.4L273.1 124L268.9 118L264.7 112.5L260.5 107.4L256.4 102.7L252.2 98.4L248 94.6L243.9 91.2L239.8 88.2L235.7 85.7L231.6 83.6L226.9 81.6M93 142.3L97.1 136.1L102 129.1L106.1 123.6L111.8 116.4L115.9 111.6L120.8 106.2L125.7 101.3L130.7 96.8L135.6 92.8L140.5 89.1L145.4 86L150.2 83.2L154.3 81.3L159.2 79.3L164 77.8L168.6 76.7M300.3 161.5L292.7 147.2L285.1 134.3L277.4 122.8L273.9 118L269.8 112.7L265.6 107.9L262.1 104.1L258.7 100.7L254.5 97L251.1 94.2L246.9 91.2L243.5 89.1L238.7 86.6M87.9 142.3L96 130.4L104.2 119.7L112.3 110.3L117.2 105.1L121.3 101.2L125.4 97.6L129.5 94.3L133.5 91.2L138.4 88L142.5 85.6L146.5 83.6L151.4 81.5L155.4 80.1M306.6 163.6L299.7 150.7L292.8 138.9L285.8 128.4L278.9 119L271.9 110.8L268.5 107.1L265 103.8L261.6 100.7L258.1 97.9L254.7 95.4L250.6 92.9M82.9 143L89.4 133.6L97.4 122.8L104.8 114.2L112.1 106.5L119.4 99.8L123.4 96.5L127.5 93.5L134.8 88.9L138 87.1L142.2 85.1M312.8 166.4L307.3 156.1L300.4 144.3L294.1 134.7L287.9 126.1L281.7 118.4L275.5 111.6L269.2 105.8L265.8 103L262.5 100.5M78 144.5L84.4 135.2L90.8 126.7L96.5 119.9L102.9 112.8L108.6 107.2L115.9 100.8L122.4 96L128.9 91.9" fill="none" stroke="#0a0a0a" stroke-width="1.05" stroke-linejoin="round"/>
<circle cx="150.8" cy="80.9" r="2.2" fill="none" stroke="#2424c8" stroke-width="1.05" opacity="0.9"/>
<circle cx="195.1" cy="86.7" r="2.2" fill="none" stroke="#2424c8" stroke-width="1.05" opacity="0.9"/>
<circle cx="246.1" cy="88.4" r="2.2" fill="none" stroke="#2424c8" stroke-width="1.05" opacity="0.9"/>
<circle cx="292.6" cy="136.4" r="2.2" fill="none" stroke="#2424c8" stroke-width="1.05" opacity="0.9"/>
<circle cx="187.6" cy="199" r="2.2" fill="none" stroke="#2424c8" stroke-width="1.05" opacity="0.9"/>
<path d="M187.6 201V210" stroke="#2a2ad0" stroke-width="0.8" fill="none" stroke-dasharray="1.5 1"/>
<g fill="#111" stroke="#111" stroke-width="0.32"><text transform="matrix(1.000 -0.340 0.000 1.000 75.4 195.5)" font-size="12.5" text-anchor="end">0.0</text><text transform="matrix(1.000 -0.340 0.000 1.000 74.8 180.4)" font-size="12.5" text-anchor="end">0.2</text><text transform="matrix(1.000 -0.340 0.000 1.000 74.1 165.2)" font-size="12.5" text-anchor="end">0.4</text><text transform="matrix(1.000 -0.340 0.000 1.000 73.5 149.8)" font-size="12.5" text-anchor="end">0.6</text><text transform="matrix(1.000 -0.340 0.000 1.000 72.8 134.2)" font-size="12.5" text-anchor="end">0.8</text><text transform="matrix(1.000 -0.340 0.000 1.000 72.1 118.5)" font-size="12.5" text-anchor="end">1.0</text><text transform="matrix(1.000 -0.340 0.000 1.000 71.5 102.5)" font-size="12.5" text-anchor="end">1.2</text><text transform="matrix(1.000 -0.340 0.000 1.000 70.8 86.4)" font-size="12.5" text-anchor="end">1.4</text><text transform="matrix(1.000 -0.340 0.000 1.000 70.1 70.1)" font-size="12.5" text-anchor="end">1.6</text><text transform="matrix(0.721 0.538 -0.892 0.451 188.4 285.7)" font-size="12" text-anchor="start" y="3.5">7</text><text transform="matrix(0.725 0.533 -0.892 0.451 201.8 278.9)" font-size="12" text-anchor="start" y="3.5">8</text><text transform="matrix(0.729 0.527 -0.892 0.451 215.1 272.2)" font-size="12" text-anchor="start" y="3.5">9</text><text transform="matrix(0.733 0.522 -0.892 0.451 228.1 265.6)" font-size="12" text-anchor="start" y="3.5">10</text><text transform="matrix(0.737 0.517 -0.892 0.451 241.1 259)" font-size="12" text-anchor="start" y="3.5">11</text><text transform="matrix(0.740 0.512 -0.892 0.451 253.9 252.6)" font-size="12" text-anchor="start" y="3.5">12</text><text transform="matrix(0.744 0.507 -0.892 0.451 266.5 246.2)" font-size="12" text-anchor="start" y="3.5">13</text><text transform="matrix(0.747 0.502 -0.892 0.451 279 239.9)" font-size="12" text-anchor="start" y="3.5">14</text><text transform="matrix(0.750 0.497 -0.892 0.451 291.3 233.6)" font-size="12" text-anchor="start" y="3.5">15</text><text transform="matrix(0.754 0.492 -0.892 0.451 303.5 227.5)" font-size="12" text-anchor="start" y="3.5">16</text><text transform="matrix(0.757 0.487 -0.892 0.451 315.5 221.4)" font-size="12" text-anchor="start" y="3.5">17</text><text transform="matrix(0.893 -0.449 0.719 0.541 177.3 285)" font-size="12" text-anchor="end" y="3.5">4</text><text transform="matrix(0.897 -0.442 0.719 0.541 159.1 271.3)" font-size="12" text-anchor="end" y="3.5">6</text><text transform="matrix(0.901 -0.435 0.719 0.541 141.3 257.9)" font-size="12" text-anchor="end" y="3.5">8</text><text transform="matrix(0.904 -0.428 0.719 0.541 124 244.9)" font-size="12" text-anchor="end" y="3.5">10</text><text transform="matrix(0.907 -0.421 0.719 0.541 107.1 232.2)" font-size="12" text-anchor="end" y="3.5">12</text><text transform="matrix(0.910 -0.415 0.719 0.541 90.7 219.9)" font-size="12" text-anchor="end" y="3.5">14</text><text transform="matrix(0.913 -0.408 0.719 0.541 74.6 207.8)" font-size="12" text-anchor="end" y="3.5">16</text><text transform="matrix(0.887 -0.462 0.740 0.512 278.6 271.7)" font-size="15.5" text-anchor="middle">Tryptone (g/L)</text><text transform="matrix(0.710 0.554 -0.904 0.428 93.9 260.5)" font-size="15.5" text-anchor="middle">Yeast extract (g/L)</text><text transform="matrix(0.080 1.000 -1.000 0.000 36.5 150)" font-size="15" text-anchor="middle" font-weight="bold">Protease activity</text><text transform="matrix(0.080 1.000 -1.000 0.000 22 152)" font-size="15" text-anchor="middle" font-weight="bold">(U/mL)</text></g>
</g>
<g id="pb" clip-path="url(#clb)">
<path d="M413.2 204.8L537 149.4L537.7 14.2L407.3 64.6Z" fill="#fff"/>
<path d="M643.1 217.7L537 149.4L537.7 14.2L649.6 75.7Z" fill="#fff"/>
<path d="M413.2 204.8L407.3 64.6M426.2 199L421 59.2M439.1 193.3L434.6 54M451.8 187.6L448 48.8M464.4 182L461.3 43.7M476.8 176.4L474.4 38.7M489.1 170.9L487.3 33.7M501.3 165.4L500.1 28.7M513.3 160L512.8 23.8M525.2 154.7L525.3 19M537 149.4L537.7 14.2M643.1 217.7L649.6 75.7M624.4 205.7L629.8 64.8M606 193.9L610.4 54.2M588.2 182.4L591.6 43.8M570.7 171.1L573.2 33.7M553.7 160.2L555.2 23.8M537 149.4L537.7 14.2M412.6 190L537.1 135.1L643.8 202.7M412 174.9L537.1 120.5L644.5 187.5M411.3 159.7L537.2 105.8L645.2 172.1M410.7 144.3L537.3 91L645.9 156.5M410 128.7L537.4 76L646.6 140.7M409.3 113L537.4 60.8L647.4 124.8M408.7 97L537.5 45.4L648.1 108.6M408 80.9L537.6 29.9L648.9 92.3M407.3 64.6L537.7 14.2L649.6 75.7M413.2 204.8L537 149.4L643.1 217.7" fill="none" stroke="#d9d9de" stroke-width="0.8"/>
<path d="M516.1 281.6L643.1 217.7L537 149.4L413.2 204.8Z" fill="#00782e"/>
<path d="M420.5 210.3L421.1 205.3L421.9 200.9L537 149.4L638.7 214.9L638.7 218L638.6 220L516.1 281.6Z" fill="#00a500"/>
<path d="M425.7 214.2L425.9 209.5L426.4 205.4L427.1 201.4L427.9 198.3L537 149.4L633.3 211.4L633.4 215.5L633.2 219.6L632.8 222.9L516.1 281.6Z" fill="#00dc00"/>
<path d="M431.6 218.5L431.4 211.4L431.9 205.6L433 199.8L434.4 195.4L537 149.4L627.3 207.6L627.7 213.1L627.5 219L627 222.9L626.4 226.2L516.1 281.6Z" fill="#46fa00"/>
<path d="M438.4 223.6L437.6 218.5L437.4 214.9L437.4 211.2L437.6 207.6L438.1 203.9L438.8 200.4L439.8 196.8L441.5 192.2L537 149.4L620.7 203.3L621.5 209.2L621.7 214.7L621.2 220.2L620.2 225.7L619.1 229.8L516.1 281.6Z" fill="#bef810"/>
<path d="M524.4 277.4L516.6 276.8L507.8 275.4L446.9 230L445.2 224.6L444.2 219.5L443.8 214.4L443.7 211L443.9 207.6L444.7 202.6L445.9 197.6L447.7 192.8L449.7 188.5L537 149.4L613.2 198.5L614.2 202.4L615 207.4L615.2 212.5L615 217.7L614.2 222.8L613.4 226.2L612.3 229.6L610.4 234.2Z" fill="#ffff00"/>
<path d="M526.4 271.6L517.7 271L509.1 269.6L500.8 267.5L494.2 265.3L459.6 239.4L457.1 235.5L454.8 231L453.6 227.9L452.1 223.3L451.4 220.2L450.8 215.5L450.6 210.8L451 206.1L451.8 201.5L452.6 198.5L453.6 195.5L454.8 192.6L456.2 189.7L459.6 184.1L531 152.1L535.9 152.3L542.5 153L604 192.6L605.7 196.8L606.6 199.8L607.4 202.9L607.9 205.9L608.2 209.1L608.3 212.2L608.2 215.3L607.9 218.5L607.3 221.6L606.5 224.7L604.9 229.4L603.6 232.4L602.1 235.4L599.3 239.8L536.3 271.4L530.8 271.7Z" fill="#ff9c00"/>
<path d="M526.7 265.2L520.8 264.8L513.1 263.8L505.5 262.1L498.3 259.8L491.5 256.9L485.1 253.5L479.3 249.6L474.1 245.2L470.7 241.7L466.7 236.7L463.4 231.5L460.9 226L459.2 220.5L458.3 214.8L458.2 209.1L458.9 203.5L459.5 200.8L460.7 196.7L461.8 194L463.7 190.2L465.3 187.6L467.8 184L470.7 180.5L473.1 178L518.1 157.9L524.7 157.4L531.7 157.3L538.8 157.7L545.8 158.7L550.9 159.8L554.6 160.8L591.1 184.3L594.1 188.7L596.3 192.6L598 196.5L599.3 200.6L600.4 206.2L600.7 210.4L600.6 214.7L600 218.9L599 223.1L597.6 227.3L595.7 231.4L593.3 235.3L590.6 239.2L587.4 242.8L583.8 246.3L579.8 249.6L556.7 261.2L555.6 261.6L548.1 263.4L540.4 264.6L532.6 265.2Z" fill="#ff4000"/>
<path d="M527 258.1L521.9 257.8L515.1 256.9L508.5 255.4L502.1 253.4L496.1 250.9L490.6 247.9L485.4 244.5L480.9 240.7L477.8 237.6L474.3 233.3L471.4 228.7L469.1 223.9L467.6 219L466.8 214L466.6 209.1L467.2 204.1L468.4 199.3L470.2 194.6L472.7 190L475.8 185.8L479.4 181.8L483.5 178.1L488 174.7L494.3 171.1L499.7 168.6L505.4 166.6L511.3 165L517.4 163.9L523.6 163.2L531.5 163.1L537.7 163.5L543.9 164.3L549.9 165.7L555.8 167.5L561.4 169.7L565.4 171.6L570.4 174.6L573.9 177.1L578.1 180.7L581 183.6L584.4 187.7L587.2 192.1L589.5 196.7L590.7 200.3L591.8 205.2L592.2 208.9L592.1 213.9L591.6 217.7L590.3 222.6L588.8 226.2L586.3 230.9L584 234.3L580.3 238.6L577.2 241.6L573.7 244.5L569.9 247.1L564.5 250.2L560.1 252.2L553.9 254.5L549.1 255.8L542.4 257.2L537.3 257.8L532.2 258.1Z" fill="#de0c00"/>
<path d="M527.4 250.1L523.1 249.8L517.4 249.1L511.9 247.8L506.5 246.2L501.5 244.1L496.8 241.6L492.5 238.7L488.6 235.5L486 233L483 229.3L480.5 225.5L478.6 221.5L477.3 217.3L476.5 213.2L476.4 208.9L476.8 204.8L477.8 200.7L479.3 196.7L481.4 192.8L483.9 189.2L487 185.8L490.4 182.7L494.3 179.8L498.5 177.3L503 175.1L507.8 173.3L512.8 171.8L517.9 170.7L523.2 170.1L529.8 169.8L535.1 170.1L540.4 170.7L545.6 171.8L550.6 173.2L555.4 175L558.8 176.6L563.1 179L566.2 181.1L569.9 184.1L572.4 186.5L575.3 190L577.8 193.7L579.8 197.5L580.9 200.5L582 204.7L582.3 207.8L582.4 212L582 215.2L581 219.3L579.9 222.4L577.9 226.4L576 229.3L573 232.9L570.4 235.5L566.6 238.7L563.4 240.8L558.8 243.4L555.1 245.1L549.9 247L545.9 248.2L540.3 249.3L536 249.8L531.7 250.1Z" fill="#b20000"/>
<path d="M527.9 240.3L524.5 240.1L520.2 239.5L515.9 238.6L511.9 237.3L508 235.7L504.4 233.9L501 231.7L498 229.3L496 227.3L493.7 224.5L491.7 221.5L490.2 218.5L489.2 215.3L488.6 212.1L488.4 208.8L488.7 205.6L489.4 202.4L490.5 199.3L492.1 196.3L494.1 193.5L496.4 190.8L499.1 188.4L502 186.1L505.3 184.2L508.8 182.4L512.5 181L516.4 179.9L520.4 179L524.5 178.5L529.7 178.3L533.9 178.5L538 179L542 179.8L545.9 181L549.6 182.4L552.3 183.6L555.7 185.5L558 187.1L560.8 189.5L562.8 191.4L565 194.1L566.9 197L568.4 200L569.3 202.3L570 205.5L570.3 207.9L570.3 211.2L570 213.6L569.2 216.8L568.3 219.2L566.7 222.2L565.2 224.4L562.9 227.2L560.9 229.2L557.9 231.6L555.5 233.3L551.9 235.3L549.1 236.6L545.1 238L542 238.9L537.8 239.7L534.5 240.1L531.2 240.3Z" fill="#900000"/>
<circle cx="572.5" cy="180.2" r="2.2" fill="none" stroke="#2424c8" stroke-width="1.05"/>
<circle cx="572.5" cy="185.2" r="2.2" fill="none" stroke="#2424c8" stroke-width="1.05"/>
<path d="M413.2 204.8L516.1 281.6L643.1 217.7M413.2 204.8L407.3 64.6M516.1 281.6L518.5 283.4M529.5 274.9L531.9 276.7M542.7 268.2L545.2 270M555.8 261.7L558.3 263.4M568.7 255.2L571.2 256.9M581.5 248.7L584 250.5M594.1 242.4L596.6 244.1M606.6 236.1L609 237.8M618.9 229.9L621.4 231.6M631.1 223.8L633.6 225.4M643.1 217.7L645.6 219.4M516.1 281.6L513.4 283M497.8 268L495.2 269.3M480.1 254.7L477.4 256M462.7 241.8L460.1 243M445.8 229.2L443.2 230.4M429.3 216.9L426.7 218M413.2 204.8L410.6 206M412.6 190L415.2 188.8M412 174.9L414.6 173.8M411.3 159.7L414 158.6M410.7 144.3L413.3 143.2M410 128.7L412.7 127.6M409.3 113L412.1 111.9M408.7 97L411.4 95.9M408 80.9L410.7 79.8M407.3 64.6L410.1 63.5" fill="none" stroke="#111" stroke-width="1"/>
<path d="M479.6 89.2L485.3 85.5L490.9 82.2L496.6 79.4L502.2 77.1L508 75.1L513.9 73.6L519.5 72.6L525.6 72L531.2 71.9L537.1 72.3L543.1 73.1L549.1 74.5L555.1 76.4L560.4 78.4L566.1 81.1L571.9 84.3L576.8 87.3L581.3 90.5L585.5 93.9L589.8 97.8L595.2 103.3L599.5 108.1L603.8 113.5L608.1 119.2L613.5 127.1L617.8 133.9L622.1 141.1L626.4 148.8L631.7 159L636 167.7L644.5 186.3L640 181.8L636.5 178.7L633 175.8L629.5 173.2L624.8 170.1L621.1 168L617.5 166.3L613.8 164.8L608.9 163.2L605.1 162.3L601.4 161.7L597.6 161.4L593.7 161.4L589.9 161.6L586 162.1L582.1 162.9L576.9 164.4L572.9 165.9L568.9 167.7L564.9 169.7L560.9 172.1L556.9 174.7L552.8 177.6L548.8 180.8L544.7 184.3L540.6 188.1L532.4 196.6L524.2 206.3L515.9 217.1L509.1 206.6L502.3 197.1L495.6 188.8L488.9 181.5L482.3 175.4L479 172.7L475.8 170.3L472.5 168.1L469.3 166.2L466.1 164.6L461.9 162.9L458.8 161.9L455.6 161.1L452.5 160.7L449.5 160.4L446.4 160.4L443.4 160.7L440.4 161.2L436.5 162.3L433.6 163.4L430.7 164.7L427.8 166.3L424 168.7L418.5 173.2L415.7 175.7L412.1 179.4L420.7 163L429.4 148L436.9 136.2L440.6 130.7L445.6 123.8L449.4 118.9L454.4 112.8L458.1 108.5L463.1 103.2L466.9 99.6L471.9 95.1L475.7 92.1Z" fill="#00782e" stroke="#111" stroke-width="1" stroke-linejoin="round"/>
<path d="M419.1 172.6L419.6 167.7L420.5 163.5L429.2 148.4L437.9 134.6L445.5 124L453 114.4L460.6 105.9L464.3 102L469.4 97.3L473.1 94.1L476.9 91.2L484.4 86.1L492.4 81.5L500.2 77.9L508 75.1L512.1 74L515.9 73.2L520.2 72.5L523.9 72.1L528.3 71.9L532 71.9L535.7 72.1L539.7 72.6L543.8 73.3L547.6 74.1L555.2 76.4L559.4 78L563.4 79.8L571.1 83.8L579.1 88.9L585.5 93.9L592 99.9L596.3 104.5L599.5 108.2L606 116.4L612.5 125.6L618.9 135.8L623.2 143.1L627.6 151L635.1 165.7L640.4 177L640.4 180.1L640.2 182L635.7 177.9L632.2 175.1L627.5 171.8L624 169.6L619.2 167L615.5 165.4L611.9 164.1L608.2 163L604.5 162.2L600.7 161.6L596.9 161.4L593.1 161.4L589.3 161.6L585.5 162.2L579 163.8L575.1 165.1L571.1 166.6L567.2 168.5L563.2 170.7L559.2 173.1L555.2 175.9L551.2 178.9L547.2 182.2L543.1 185.8L539.1 189.7L530.9 198.3L522.7 208.1L515.9 217.1L510.3 208.3L503.5 198.7L497.9 191.6L491.3 184L485.8 178.5L479.3 172.9L476 170.4L472.8 168.3L469.6 166.4L466.5 164.8L461.2 162.6L458.1 161.7L455 161L451.9 160.6L448.9 160.4L445.9 160.5L442.9 160.8L438 161.9L435 162.8L432.2 164L429.3 165.4L425.5 167.7L422.7 169.7Z" fill="#00a500"/>
<path d="M424 168.7L424.2 164.2L424.7 160.2L425.5 156.3L426.2 153.3L432.5 142.9L436.3 137L441.4 129.6L445.2 124.4L450.2 117.8L454 113.2L459.1 107.4L462.9 103.4L468 98.6L471.8 95.2L475.6 92.1L482.6 87.2L486.8 84.6L490.9 82.2L498.7 78.5L506.5 75.6L510.3 74.5L514.4 73.5L518.5 72.7L522.4 72.2L526.1 72L530.1 71.9L534.2 72L537.9 72.4L545.3 73.6L552.8 75.6L560.3 78.4L568 82.1L576 86.8L582.3 91.3L588.8 96.8L593.1 101L596.3 104.5L602.8 112.2L609.3 120.9L615.8 130.7L620.1 137.7L624.4 145.2L628.7 153.2L633 161.6L635.2 165.9L635.3 169.9L635.1 173.9L634.7 177.1L630 173.5L626.5 171.1L622.9 169L619.3 167.1L615.7 165.5L612 164.1L608.3 163L604.6 162.2L600.9 161.7L597.1 161.4L593.3 161.4L589.4 161.6L585.6 162.2L581.7 163L577.8 164.1L573.9 165.5L569.9 167.2L565.9 169.2L559.3 173.1L555.3 175.8L551.3 178.8L544.5 184.5L540.4 188.3L536.4 192.4L529.6 199.8L522.7 208L515.9 217.1L510.3 208.3L504.7 200.3L499.1 193L492.5 185.3L487 179.7L480.5 173.9L475.1 169.8L471.9 167.7L468.8 165.9L463.5 163.5L460.4 162.4L457.3 161.5L452.2 160.6L449.2 160.4L446.2 160.5L441.2 161.1L438.3 161.8L435.4 162.7L432.5 163.9L429.6 165.3L426.8 166.9Z" fill="#00dc00"/>
<path d="M429.7 165.2L429.5 158.3L430.1 152.7L431.2 147.2L432.6 142.8L440.1 131.4L443.9 126L449 119.3L452.8 114.6L457.9 108.8L461.7 104.7L466.8 99.7L470.6 96.3L474.4 93.1L481.3 88.1L489.1 83.3L493.1 81.1L497.3 79.1L505.1 76L509.4 74.7L513 73.8L516.7 73L521 72.4L528.3 71.9L535.7 72.1L543.1 73.1L550.1 74.8L557.3 77.2L564.4 80.3L571.9 84.3L579.1 88.9L585.5 93.9L589.8 97.7L593 100.9L599.4 108L605.8 116.2L612.3 125.3L616.6 131.9L620.8 139L625.1 146.5L629.4 154.5L629.8 159.9L629.6 165.5L629.1 169.3L628.5 172.4L623.8 169.5L620.2 167.5L616.6 165.9L612.9 164.4L609.2 163.3L605.5 162.4L601.8 161.8L598 161.4L594.3 161.3L590.4 161.5L586.6 162L582.7 162.8L578.9 163.8L575 165.1L571 166.7L567.1 168.6L560.5 172.3L553.8 176.9L547.1 182.2L541.7 187.1L534.9 193.9L528.2 201.4L521.4 209.8L515.9 217.1L510.3 208.3L504.7 200.3L499.1 193.1L493.6 186.5L488.1 180.7L482.7 175.7L477.3 171.4L472 167.8L466.7 164.9L461.5 162.7L456.3 161.3L451.2 160.5L446.2 160.5L443.2 160.7L440.3 161.3L435.4 162.7L432.5 163.8Z" fill="#46fa00"/>
<path d="M436.4 162.3L435.6 157.4L435.3 153.9L435.3 150.4L435.6 146.9L436.1 143.4L436.9 140L437.9 136.6L439.6 132.1L444.6 125.1L450.8 117.1L457 109.7L463.3 103.1L470.7 96.1L474.5 93.1L478.2 90.2L486.1 85L493.7 80.8L501.5 77.3L505.7 75.8L509.4 74.7L513 73.8L517.3 72.9L521.2 72.4L525.3 72L532.7 71.9L539.7 72.6L546.8 73.9L554.4 76.1L561.9 79.1L569.4 82.9L577.1 87.6L583.4 92.1L587.6 95.7L590.8 98.8L597.2 105.5L603.7 113.3L610.1 122.1L616.5 131.9L623 142.6L623.6 146.5L623.9 150L623.9 155.3L623.5 158.9L622.5 164.2L621.3 168.1L617.7 166.4L614.1 164.9L610.4 163.6L606.7 162.7L603 161.9L599.3 161.5L595.5 161.3L591.7 161.4L587.9 161.8L584 162.5L580.1 163.4L576.2 164.6L572.3 166.1L568.4 167.9L564.4 170L560.4 172.3L553.8 176.9L548.4 181.1L543 185.8L537.6 191.1L532.2 196.8L526.8 203.1L521.4 209.8L515.9 217.1L511.4 210L505.8 201.9L501.3 195.9L495.8 189.1L491.4 184.1L485.9 178.6L481.6 174.8L476.2 170.6L472 167.8L466.7 164.9L462.5 163.1L457.4 161.5L452.2 160.6L447.2 160.4L442.3 160.9L439.3 161.5Z" fill="#bef810"/>
<path d="M524.4 205.9L516.4 205.4L507.3 204L502.9 197.9L498.5 192.2L494.1 187.1L488.6 181.2L484.3 177.1L480 173.4L475.7 170.2L470.4 166.8L467.3 165.2L464.1 163.7L461 162.6L457.9 161.7L454.9 161L451.9 160.6L448.8 160.4L444.9 160.6L443.2 155.4L442.1 150.5L441.6 145.6L441.6 142.4L441.9 139.1L442.6 134.3L443.9 129.6L445.7 125L447.8 120.9L455.4 111.6L463 103.4L470.6 96.3L474.4 93.1L479.4 89.3L486.8 84.6L493.7 80.8L500.8 77.6L508 75.1L515.2 73.3L522 72.3L529.2 71.9L536.4 72.2L543.1 73.1L549.8 74.7L556.6 76.9L563.4 79.8L570.3 83.3L577.6 87.9L583.4 92.1L588.7 96.7L593 100.9L596.2 104.4L602.6 112L609 120.6L615.5 130.2L616.5 134L617.4 138.8L617.7 143.7L617.4 148.6L616.6 153.5L615.8 156.7L614.7 160L612.8 164.4L606.6 162.6L601.5 161.7L596.5 161.4L591.4 161.5L584.9 162.3L579.7 163.5L574.4 165.3L569.1 167.6L563.8 170.3L558.4 173.6L553.1 177.4L547.6 181.8L542.2 186.6L538.1 190.6L531.3 197.9Z" fill="#ffff00"/>
<path d="M526.5 192.2L517.5 191.6L508.7 190.3L500.1 188.3L493.3 186.2L489 181.6L484.7 177.5L480.4 173.8L475.2 169.8L471 167.2L466.8 165L462.7 163.2L457.6 161.6L455.1 157.8L453.5 155L452.1 152.1L450.4 147.7L449.6 144.8L448.8 140.3L448.5 137.3L448.5 132.8L448.8 129.9L449.3 126.9L450.1 124L451 121.2L452.2 118.4L453.5 115.6L456.8 110.3L457.7 108.9L461.3 105.1L467.4 99.1L473.4 93.9L479.4 89.3L486.2 84.9L493.1 81.1L500.1 77.9L506.6 75.5L513.7 73.6L520.3 72.5L527.4 71.9L534.5 72L540.8 72.8L547.6 74.1L554.4 76.1L561.1 78.7L568 82.1L574.8 86.1L581.2 90.4L586.4 94.6L591.6 99.6L596.9 105.1L602.1 111.4L606.3 116.8L608.6 122.2L609.5 125.1L610.1 128.1L610.7 133.2L610.7 138.5L610.3 141.5L609.8 144.4L609 147.4L608 150.3L606.7 153.3L605.2 156.1L603.5 158.9L601.6 161.7L597.9 161.4L594.1 161.3L590.3 161.5L586.5 162L582.7 162.8L578.9 163.8L572.4 166.1L567.2 168.5L563.3 170.6L558 173.9L554 176.7L548.7 180.9L544.7 184.3L536.7 192L531 192.2Z" fill="#ff9c00"/>
<path d="M526.8 177.9L520.7 177.6L512.7 176.6L506.8 175.4L499.3 173.4L493.9 171.5L487 168.5L480.7 165L475.1 161.1L471.2 157.9L466.7 153.3L463 148.5L460 143.4L458.4 139.5L457.5 136.9L456.8 134.2L456.4 131.6L456.1 128.9L456 126.2L456.2 123.5L457.1 118.3L458.7 113.1L461.1 108.1L464.3 103.4L467.5 99.4L471.5 95.4L477.2 91L483.3 86.7L490 82.7L496.5 79.5L503 76.8L509.4 74.7L515.9 73.2L522.4 72.2L529 71.9L535.7 72.1L542.3 73L548.4 74.3L555.1 76.4L561.1 78.8L567.8 82L574.1 85.6L580.2 89.7L585.6 94L590 97.9L593.2 101.2L596.4 105.4L599.2 110.2L601.3 115.3L602.5 119.9L603.1 124.5L603.2 127.2L603.1 129.9L602.8 132.6L602.2 135.3L601 139.2L600 141.9L598.7 144.5L596.5 148.3L592.8 153.1L589.5 156.6L585.8 159.9L581.6 163L575.1 165L569.8 167.2L563.1 170.7L557.8 174.1L556.7 174.4L548.9 176.2L541 177.3L532.9 177.9Z" fill="#ff4000"/>
<path d="M527.1 163L521.8 162.7L514.8 161.8L507.9 160.5L501.4 158.6L496.7 156.8L490.7 154.1L485.3 151L480.4 147.5L477.2 144.7L473.3 140.7L470.2 136.4L467.7 132L466.3 128.5L465.1 123.9L464.6 119.2L464.8 114.5L465.7 109.9L467.3 105.4L469.6 101.1L472.5 96.9L475.9 93L479.9 89.4L484.4 86.1L489.1 83.3L495.2 80.1L501.5 77.3L507.6 75.2L513.9 73.6L520.2 72.5L526.5 71.9L532.7 71.9L539.4 72.5L544.9 73.5L550.6 74.9L556 76.7L561.9 79.1L567.8 82L573.2 85.1L577.9 88.3L581.5 91.3L584.8 94.6L588.1 98.7L590.4 102.3L592.2 106.2L593.6 110.1L594.4 114.2L594.7 118.9L594.4 122.4L593.4 127.1L592.2 130.5L589.9 135.1L587.8 138.3L584.3 142.5L581.3 145.5L576.7 149.2L572.9 151.7L567.4 154.7L563 156.7L556.7 159L551.7 160.4L544.9 161.8L539.6 162.5L532.5 163Z" fill="#de0c00"/>
<path d="M527.5 147.2L521.6 146.8L515.7 146L510 144.7L503.2 142.6L498.1 140.5L492.3 137.3L488.2 134.4L483.7 130.4L480.7 126.9L479.4 125.1L477.8 122.3L476.1 118.5L475.5 116.6L474.9 113.7L474.5 109.7L474.7 107.3L475 104.8L476 101L477.9 96.8L480.4 92.8L484 88.7L487.8 85.2L492.1 82.1L497.5 79.1L503.4 76.6L509.4 74.7L515.7 73.2L522 72.3L528.3 71.9L534.2 72L540.1 72.6L546.7 73.9L552.6 75.6L557.8 77.4L563.5 80.1L566.7 81.9L569.7 83.9L572.5 86.1L575 88.4L577.3 90.9L579.3 93.4L581 96.1L582.3 98.8L583.4 101.7L584.2 104.6L584.6 107.5L584.7 110.4L584.4 113.4L583.8 116.3L582.9 119.2L581.6 122.1L580 124.9L578 127.6L575.8 130.2L573.2 132.6L570.3 135L567.2 137.1L563.8 139.1L560.2 140.9L556.4 142.5L552.4 143.9L548.2 145L543.9 145.9L539.5 146.6L535 147Z" fill="#b20000"/>
<path d="M528 129.8L523.4 129.6L517.8 128.7L513.5 127.7L508.3 126L504.5 124.3L500.1 121.8L496.9 119.6L493.6 116.5L491.4 113.8L489.2 110.3L488 107.3L487.1 103.6L486.9 100.6L487.4 96.8L488.2 93.9L490 90.3L491.8 87.6L494.6 84.5L497.3 82.1L501.2 79.5L504.6 77.6L509.2 75.7L514.1 74.1L519.2 73L524.6 72.4L530 72.2L535.4 72.4L539.6 73L544.8 74L549.7 75.6L554.4 77.5L557.8 79.3L560.2 80.8L562.4 82.5L564.4 84.3L566.2 86.1L567.8 88.1L569.1 90.1L570.3 92.2L571.2 94.4L571.8 96.6L572.2 98.8L572.3 101.1L572.2 103.4L571.8 105.6L571.1 107.9L569.4 111.5L568 113.6L566.4 115.6L564.6 117.6L562.5 119.4L560.2 121.1L557.7 122.7L553.1 125.1L550.2 126.3L547.1 127.3L540.6 128.9L533.8 129.7Z" fill="#900000"/>
<path d="M479.6 89.2L485.3 85.5L490.9 82.2L496.6 79.4L502.2 77.1L508 75.1L513.9 73.6L519.5 72.6L525.6 72L531.2 71.9L537.1 72.3L543.1 73.1L549.1 74.5L555.1 76.4L560.4 78.4L566.1 81.1L571.9 84.3L576.8 87.3L581.3 90.5L585.5 93.9L589.8 97.8L595.2 103.3L599.5 108.1L608.1 119.2L613.5 127.1L617.8 133.9L626.4 148.8L636 167.7L644.5 186.3L636.5 178.7L629.5 173.2L624.8 170.1L621.1 168L613.8 164.8L608.9 163.2L605.1 162.3L597.6 161.4L589.9 161.6L582.1 162.9L576.9 164.4L572.9 165.9L564.9 169.7L556.9 174.7L548.8 180.8L540.6 188.1L532.4 196.6L524.2 206.3L515.9 217.1L509.1 206.6L502.3 197.1L495.6 188.8L488.9 181.5L482.3 175.4L475.8 170.3L469.3 166.2L466.1 164.6L461.9 162.9L455.6 161.1L449.5 160.4L443.4 160.7L440.4 161.2L436.5 162.3L430.7 164.7L424 168.7L418.5 173.2L412.1 179.4L420.7 163L429.4 148L436.9 136.2L445.6 123.8L454.4 112.8L463.1 103.2L471.9 95.1Z" fill="url(#shb)"/>
<path d="M515.9 217.1L510.2 208.2L503.1 198.2L496.1 189.4L489.2 181.8L485.7 178.4L482.3 175.4L478.9 172.6L475.5 170.1L472.1 167.9L468.8 166L465.5 164.3L462.2 163L459.5 162.1L455.6 161.1L453.1 160.7L449.2 160.4L446.7 160.4L442.9 160.8L440.4 161.2L436.7 162.2L434.3 163.1L430.7 164.7L428.3 166L424.7 168.2L422.4 169.9L418.9 172.8L415.5 175.9L412.1 179.4M515.9 217.1L522.8 208L531.4 197.8L535.7 193.1L539.9 188.8L544.2 184.8L548.4 181.1L552.7 177.7L556.9 174.7L561.1 171.9L565.3 169.5L569.4 167.4L573.6 165.6L577.7 164.2L581.8 163L585 162.3L589.9 161.6L593.1 161.4L597.9 161.4L601.1 161.7L605.8 162.4L608.9 163.2L613.5 164.7L616.6 165.9L621.1 168L624.2 169.7L628.6 172.5L631.6 174.7L636 178.2L640.3 182.1L644.5 186.3M523.1 207.5L517.4 198.5L510.4 188.3L503.3 179.3L496.4 171.4L489.4 164.7L486 161.8L482.6 159.2L479.2 156.9L475.9 154.9L472.5 153.2L469.2 151.7L466.5 150.8L462.6 149.7L460 149.2L456.2 148.8L453.6 148.7L449.8 149L447.3 149.3L443.6 150.2L441.1 151L437.4 152.6L435 153.8L431.4 155.9L429.1 157.5L425.6 160.3L422.1 163.4L418.7 166.8M509.9 207.8L516.8 198.5L525.4 188.1L529.6 183.3L533.9 178.9L538.2 174.7L542.4 170.9L546.7 167.5L550.9 164.3L555.1 161.4L559.3 158.9L563.4 156.7L567.6 154.8L571.7 153.2L575.8 151.9L579.1 151.1L583.9 150.3L587.2 150L592 149.9L595.2 150.1L599.9 150.8L603 151.4L607.7 152.8L610.8 153.9L615.3 156L618.4 157.6L622.9 160.3L625.8 162.4L630.2 165.8L634.6 169.5L638.9 173.7M530.4 198.9L524.7 189.7L517.6 179.2L510.5 170L503.5 161.9L496.6 155L493.1 152L489.7 149.3L486.3 146.9L482.9 144.7L479.6 142.9L476.2 141.3L473.6 140.3L469.6 139.1L467 138.5L463.1 138L460.5 137.9L456.7 138L454.2 138.3L450.4 139.1L447.9 139.8L444.2 141.2L441.8 142.4L438.2 144.4L435.8 146L432.2 148.6L428.7 151.6L425.3 154.9M504 199.3L510.8 189.9L519.4 179.2L523.7 174.3L527.9 169.8L532.2 165.5L536.4 161.6L540.7 158L544.9 154.7L549.1 151.8L553.3 149.1L557.4 146.8L561.6 144.8L565.7 143.1L569.8 141.7L573.1 140.8L578 139.9L581.2 139.5L586 139.3L589.2 139.4L594 139.9L597.1 140.5L601.8 141.7L604.9 142.8L609.5 144.7L612.6 146.2L617.1 148.9L620.1 150.8L624.5 154.1L628.9 157.8L633.2 161.9M537.6 191.1L531.9 181.7L524.8 171.1L517.7 161.6L510.7 153.3L503.7 146.1L500.3 143L496.8 140.2L493.4 137.7L490 135.4L486.6 133.5L483.3 131.8L480.6 130.7L476.6 129.4L474 128.7L470.1 128.1L467.5 127.9L463.6 127.9L461.1 128.1L457.3 128.8L454.8 129.4L451 130.7L448.6 131.8L444.9 133.7L442.5 135.2L438.9 137.8L435.4 140.7L431.9 143.9M498 191.7L504.9 182.1L513.4 171.2L517.7 166.2L522 161.5L526.2 157.2L530.5 153.1L534.7 149.4L538.9 146L543.1 143L547.3 140.2L551.5 137.7L555.6 135.6L559.8 133.8L563.9 132.3L567.2 131.3L572.1 130.3L575.3 129.8L580.1 129.5L583.3 129.5L588.1 129.9L591.3 130.4L595.9 131.5L599.1 132.4L603.7 134.3L606.7 135.7L611.3 138.2L614.3 140.1L618.7 143.3L623.1 146.9L627.5 150.8M544.8 184.3L539.1 174.7L531.9 163.8L524.9 154.1L517.8 145.5L510.8 138.2L507.4 134.9L503.9 132L500.5 129.4L497.1 127L493.7 125L490.3 123.2L487.6 122L483.6 120.5L481 119.8L477 119L474.4 118.7L470.5 118.6L468 118.8L464.1 119.3L461.6 119.9L457.9 121.1L455.4 122.1L451.7 123.9L449.3 125.3L445.6 127.7L442.1 130.5L438.6 133.7M492.2 185L499 175.1L507.5 164L511.8 158.9L516 154.1L520.3 149.6L524.5 145.5L528.7 141.7L533 138.2L537.2 135L541.4 132.1L545.5 129.5L549.7 127.3L553.8 125.4L557.9 123.8L561.2 122.7L566.1 121.5L569.4 120.9L574.2 120.4L577.4 120.4L582.2 120.6L585.4 121.1L590.1 122L593.2 122.9L597.8 124.6L600.9 126L605.5 128.4L608.5 130.2L613 133.2L617.4 136.7L621.8 140.5M551.9 178.3L546.2 168.6L539.1 157.4L532 147.5L525 138.7L518 131.1L514.5 127.8L511 124.7L507.6 122L504.2 119.5L500.7 117.4L497.4 115.5L494.7 114.2L490.6 112.6L488 111.8L484 110.8L481.4 110.5L477.5 110.2L474.9 110.3L471 110.7L468.5 111.2L464.7 112.3L462.2 113.2L458.5 114.9L456 116.2L452.4 118.6L448.8 121.2L445.2 124.3M486.3 179L493.1 169L501.6 157.7L510.1 147.5L514.4 143L518.6 138.7L522.8 134.8L527 131.1L531.2 127.8L535.4 124.8L539.6 122.2L543.8 119.8L547.9 117.8L552 116L555.3 114.9L560.2 113.5L563.5 112.9L568.3 112.3L571.5 112.1L576.3 112.2L579.5 112.6L584.2 113.4L587.3 114.2L592 115.8L595.1 117.1L599.6 119.3L602.7 121.1L607.2 124L611.6 127.3L616 131.1M559 173.3L553.3 163.3L546.2 151.9L539.1 141.8L532 132.8L525 125L521.6 121.5L518.1 118.3L514.6 115.5L511.2 112.9L507.8 110.6L504.4 108.6L501.7 107.2L497.6 105.5L495 104.6L491 103.6L488.3 103.1L484.4 102.7L481.8 102.7L477.9 103L475.4 103.4L471.6 104.3L469 105.2L465.3 106.8L462.8 108L459.1 110.2L455.5 112.8L451.9 115.7M480.6 173.9L487.3 163.7L495.8 152.2L504.3 141.8L508.5 137.1L512.7 132.8L517 128.7L521.2 124.9L525.4 121.5L529.5 118.4L533.7 115.6L537.9 113.2L542 111L546.1 109.2L549.4 107.9L554.3 106.4L557.6 105.7L562.4 104.9L565.6 104.7L570.4 104.7L573.6 104.9L578.4 105.6L581.5 106.3L586.2 107.8L589.2 109L593.8 111.1L596.9 112.7L601.4 115.5L605.9 118.8L610.3 122.4M566 169.1L560.4 159L553.2 147.4L546.2 137L539.1 127.7L532.1 119.7L528.6 116.1L525.1 112.9L521.7 109.9L518.2 107.2L514.8 104.8L511.4 102.7L508.7 101.2L504.6 99.3L501.9 98.3L497.9 97.2L495.3 96.6L491.3 96.1L488.7 96L484.8 96.1L482.2 96.5L478.4 97.3L475.9 98L472.1 99.5L469.6 100.7L465.9 102.7L462.2 105.2L458.6 108M474.9 169.6L481.6 159.3L490 147.5L498.5 136.9L502.7 132.1L506.9 127.6L511.1 123.5L515.3 119.6L519.5 116.1L523.7 112.8L527.8 109.9L532 107.4L536.1 105.1L540.3 103.1L543.5 101.8L548.5 100.2L551.7 99.3L556.6 98.4L559.8 98.1L564.6 97.9L567.8 98.1L572.5 98.7L575.7 99.3L580.3 100.6L583.4 101.7L588 103.7L591.1 105.2L595.6 107.9L600.1 111L604.5 114.5M573 165.8L567.4 155.5L560.3 143.7L553.2 133.1L546.1 123.6L539.1 115.4L532.1 108.3L528.7 105.2L525.2 102.4L521.8 99.9L518.4 97.6L515.6 96.1L511.6 94.1L508.9 93L504.9 91.6L502.2 91L498.2 90.3L495.6 90.1L491.7 90.2L489.1 90.4L485.2 91.1L482.7 91.8L478.9 93.1L476.4 94.2L472.6 96.1L468.9 98.4L465.3 101.1M469.2 166.2L475.9 155.7L484.3 143.7L492.7 132.9L496.9 128L501.1 123.4L505.3 119.1L509.5 115.1L513.7 111.4L517.9 108.1L522 105.1L526.2 102.4L530.3 100L534.4 97.9L537.7 96.5L542.6 94.7L545.9 93.8L550.7 92.7L554 92.3L558.8 92L561.9 92.1L566.7 92.5L569.8 93L574.5 94.2L577.6 95.2L582.3 97L585.3 98.5L589.9 101.1L594.4 104L598.8 107.3M580 163.5L574.3 153L567.2 140.9L560.1 130.1L553.1 120.4L546.1 111.9L539.1 104.6L535.6 101.4L532.2 98.4L528.7 95.8L525.3 93.5L522.6 91.8L518.5 89.7L515.8 88.5L511.8 87L509.1 86.3L505.1 85.5L502.5 85.2L498.5 85.1L495.9 85.2L492 85.8L489.5 86.3L485.7 87.5L483.1 88.5L479.4 90.3L475.7 92.5L472 95.1M463.6 163.5L470.3 152.9L478.7 140.6L487 129.6L491.2 124.6L495.4 119.9L499.6 115.5L503.8 111.4L507.9 107.7L512.1 104.2L516.3 101.1L520.4 98.2L524.5 95.7L528.6 93.5L531.9 92L536.8 90.1L540.1 89.1L544.9 87.9L548.1 87.4L553 86.9L556.1 86.9L560.9 87.2L564 87.6L568.7 88.6L571.9 89.5L576.5 91.2L579.5 92.6L584.1 95L588.6 97.8L593.1 101M586.8 162L581.2 151.3L574.1 139.1L567 128L560 118.1L553 109.3L546 101.8L542.5 98.4L539.1 95.4L535.6 92.7L532.2 90.2L529.5 88.4L525.4 86.2L522.7 84.9L518.6 83.3L515.9 82.4L511.9 81.5L509.3 81.1L505.4 80.8L502.7 80.9L498.8 81.3L496.3 81.8L492.4 82.8L489.9 83.7L486.1 85.4L482.4 87.5L478.7 89.9M458.1 161.7L464.7 150.9L473.1 138.4L481.4 127.2L489.8 117.3L493.9 112.8L498.1 108.6L502.2 104.7L506.4 101.1L510.5 97.9L514.7 94.9L518.8 92.3L522.9 90L526.2 88.4L531.1 86.3L534.3 85.2L539.2 83.9L542.4 83.2L547.2 82.6L550.4 82.5L555.1 82.7L558.3 83L563 83.9L566.1 84.7L570.7 86.2L573.8 87.5L578.4 89.8L582.9 92.4L587.4 95.5M593.6 161.4L588 150.5L580.9 138.1L573.9 126.8L566.9 116.6L560.6 108.5L553.6 100.6L547.3 94.5L543.9 91.5L540.4 88.8L537 86.4L533.6 84.3L527.5 81.2L524.1 79.9L520.8 78.9L517.4 78.1L514.1 77.6L510.8 77.5L507.6 77.5L504.3 77.9L501.1 78.5L497.9 79.4L494.7 80.5L491.5 82L488.3 83.7M452.7 160.7L459.3 149.7L467.5 137L475.8 125.6L484.1 115.5L488.3 110.8L492.4 106.5L496.6 102.5L500.7 98.8L504.8 95.5L509 92.4L513.1 89.7L517.2 87.3L520.4 85.5L525.3 83.3L528.6 82.1L533.4 80.6L536.6 79.9L541.5 79.2L544.6 78.9L549.4 79L552.5 79.2L557.2 79.9L560.4 80.6L565 82L568.1 83.2L572.7 85.3L577.2 87.9L581.7 90.8M600.3 161.6L594.7 150.6L587.7 137.9L581.4 127.5L575 118L568.7 109.5L562.5 101.9L556.2 95.3L552.8 92L549.3 89L543.1 84.4L537 80.6L534.3 79.3L530.9 77.9L527.5 76.7L524.2 75.8L520.9 75.2L517.6 74.9L514.3 74.9L511 75.1L507.8 75.6L504.6 76.4L499 78.4M447.3 160.4L453.9 149.3L462.1 136.4L470.3 124.8L478.6 114.4L482.7 109.7L486.9 105.3L491 101.2L495.1 97.4L499.2 93.9L503.3 90.7L507.4 87.9L511.5 85.3L514.8 83.5L519.7 81.2L522.9 79.8L527.7 78.2L531 77.4L535.8 76.5L538.9 76.2L543.7 76.1L546.9 76.2L551.6 76.8L554.7 77.4L559.3 78.7L562.4 79.7L567 81.7L570 83.2L574.1 85.6M606.9 162.7L601.3 151.6L595.7 141.2L590.1 131.5L583.1 120.4L576.9 111.5L570.6 103.5L564.3 96.4L558.1 90.3L552.6 85.7L549.9 83.6L545.8 80.9L540.3 77.9L537 76.4L533.6 75.2L530.9 74.4L527.6 73.7L524.3 73.3L521.7 73.1L519 73.1L515.1 73.5L509.8 74.6M442 160.9L448.5 149.7L456.7 136.6L464.1 125.9L471.5 116.2L478.9 107.5L486.3 99.8L493.7 93.1L497.8 89.8L501.8 86.9L505.1 84.7L509.2 82.3L512.4 80.6L516.5 78.7L519.7 77.5L523.7 76.1L527.7 75.1L531.7 74.4L535.7 74L539.6 73.9L543.5 74.2L547.5 74.6L551.3 75.4L555.2 76.5L561.5 78.9M613.4 164.6L607.9 153.3L602.3 142.8L596.7 132.9L590.5 122.8L584.9 114.5L578.6 106.1L573.1 99.4L566.9 92.7L561.4 87.6L555.2 82.8L549.7 79.2L543.7 76.1L541 75L537.6 73.8L532.3 72.6L527 72.1L523.7 72.2L520.8 72.4M436.8 162.2L443.3 150.8L449.8 140.1L456.3 130.2L464.5 118.9L471 110.8L478.4 102.6L485.7 95.3L492.3 89.7L499.6 84.4L502.8 82.4L506.9 80.1L510.1 78.5L514.1 76.7L518.1 75.3L521.3 74.4L527.7 73.1L530.9 72.7L534.8 72.6L537.9 72.7L541.8 73L544.9 73.5L548.7 74.4M619.9 167.4L614.3 155.9L608.8 145.2L603.3 135.2L597.7 126L592.2 117.4L586.6 109.6L581.1 102.6L575.5 96.3L570 90.7L564.5 85.8L559.1 81.7L553.7 78.3L548.3 75.7L542.9 73.7L537.6 72.5L531.9 71.9M431.7 164.2L438.1 152.7L444.6 141.9L451.1 131.8L457.5 122.6L464.1 114L470.6 106.3L477.1 99.4L483.6 93.2L490.1 87.8L496.5 83.3L503 79.4L509.4 76.4L515.8 74.2L522.1 72.7L528.5 72L531.6 71.9L535.5 72.1M626.2 171L622.1 162.2L616.6 151.1L611.1 140.8L605.5 131.2L600.7 123.4L595.2 115.1L590.3 108.5L584.8 101.7L580 96.3L574.5 90.8L569.7 86.5L563.6 82L558.9 79L553.5 76.3L548.1 74.4L543.2 73.2M426.7 167L433 155.3L439.5 144.4L445.1 135.4L450.7 127L456.4 119.2L462.8 111.1L468.5 104.5L475 97.8L480.6 92.6L487.1 87.3L492.7 83.3L499.1 79.5L503.9 77.2L510.3 74.8L515.9 73.3L522 72.3M632.4 175.3L628.3 166.4L622.9 155.2L618.1 146L613.3 137.4L609.1 130.4L603.6 121.7L598.1 113.7L593.3 107.4L588.5 101.6L583.7 96.3L578.9 91.6L573.5 86.9L569.4 83.9L564 80.5L558.6 77.8L554.6 76.2M421.7 170.4L428.1 158.6L432.8 150.3L437.6 142.3L443.2 133.6L448 126.5L453.6 118.9L459.3 111.8L464.9 105.3L469.7 100.2L475.3 94.8L481 90L486.6 85.8L492.2 82.2L497.8 79.1L503.3 76.7L508.3 75M638.5 180.4L630.4 162.9L626.3 154.7L620.9 144.5L616.1 136L611.3 128.2L607.2 121.9L602.4 115.1L597.6 108.8L593.5 103.8L588.7 98.6L583.9 93.9L579.2 89.7L574.4 86.1L570.4 83.5L566 81.1M416.9 174.6L421.6 165.6L426.3 157L431.1 148.8L435.8 141L440.6 133.7L445.4 126.7L450.1 120.2L454.9 114.1L459.7 108.5L464.5 103.3L469.3 98.5L474.9 93.4L480.5 89L485.3 85.7L490.1 82.7L494.3 80.5M644.5 186.3L636.5 168.6L628.3 152.4L624.3 144.9L619.5 136.7L615.4 130.1L610.6 122.9L606.6 117.1L602.5 111.8L598.4 106.8L594.3 102.3L590.2 98.2L586.2 94.4L582.1 91.1L577.6 87.9M412.1 179.4L420.7 163.1L429.3 148.1L437.2 135.7L441.2 129.9L445.9 123.3L453.9 113.4L457.8 108.8L462.6 103.8L467.4 99.1L471.4 95.6L475.3 92.4L480.1 88.9" fill="none" stroke="#0a0a0a" stroke-width="1.05" stroke-linejoin="round"/>
<circle cx="533.9" cy="61.6" r="2.2" fill="none" stroke="#2424c8" stroke-width="1.05" opacity="0.9"/>
<circle cx="527.3" cy="86.2" r="2.2" fill="none" stroke="#2424c8" stroke-width="1.05" opacity="0.9"/>
<circle cx="573.3" cy="142" r="2.2" fill="none" stroke="#2424c8" stroke-width="1.05" opacity="0.9"/>
<circle cx="624.8" cy="153.8" r="2.2" fill="none" stroke="#2424c8" stroke-width="1.05" opacity="0.9"/>
<path d="M533.9 63.6V72" stroke="#2a2ad0" stroke-width="0.8" fill="none" stroke-dasharray="1.5 1"/>
<g fill="#111" stroke="#111" stroke-width="0.32"><text transform="matrix(1.000 -0.340 0.000 1.000 408.1 195.2)" font-size="12.5" text-anchor="end">0.0</text><text transform="matrix(1.000 -0.340 0.000 1.000 407.5 180.1)" font-size="12.5" text-anchor="end">0.2</text><text transform="matrix(1.000 -0.340 0.000 1.000 406.8 164.9)" font-size="12.5" text-anchor="end">0.4</text><text transform="matrix(1.000 -0.340 0.000 1.000 406.2 149.5)" font-size="12.5" text-anchor="end">0.6</text><text transform="matrix(1.000 -0.340 0.000 1.000 405.5 133.9)" font-size="12.5" text-anchor="end">0.8</text><text transform="matrix(1.000 -0.340 0.000 1.000 404.8 118.2)" font-size="12.5" text-anchor="end">1.0</text><text transform="matrix(1.000 -0.340 0.000 1.000 404.2 102.2)" font-size="12.5" text-anchor="end">1.2</text><text transform="matrix(1.000 -0.340 0.000 1.000 403.5 86.1)" font-size="12.5" text-anchor="end">1.4</text><text transform="matrix(1.000 -0.340 0.000 1.000 402.8 69.8)" font-size="12.5" text-anchor="end">1.6</text><text transform="matrix(0.721 0.538 -0.892 0.451 521.1 285.4)" font-size="12" text-anchor="start" y="3.5">7</text><text transform="matrix(0.725 0.533 -0.892 0.451 534.5 278.6)" font-size="12" text-anchor="start" y="3.5">8</text><text transform="matrix(0.729 0.527 -0.892 0.451 547.8 271.9)" font-size="12" text-anchor="start" y="3.5">9</text><text transform="matrix(0.733 0.522 -0.892 0.451 560.8 265.3)" font-size="12" text-anchor="start" y="3.5">10</text><text transform="matrix(0.737 0.517 -0.892 0.451 573.8 258.7)" font-size="12" text-anchor="start" y="3.5">11</text><text transform="matrix(0.740 0.512 -0.892 0.451 586.6 252.3)" font-size="12" text-anchor="start" y="3.5">12</text><text transform="matrix(0.744 0.507 -0.892 0.451 599.2 245.9)" font-size="12" text-anchor="start" y="3.5">13</text><text transform="matrix(0.747 0.502 -0.892 0.451 611.7 239.6)" font-size="12" text-anchor="start" y="3.5">14</text><text transform="matrix(0.750 0.497 -0.892 0.451 624 233.3)" font-size="12" text-anchor="start" y="3.5">15</text><text transform="matrix(0.754 0.492 -0.892 0.451 636.2 227.2)" font-size="12" text-anchor="start" y="3.5">16</text><text transform="matrix(0.757 0.487 -0.892 0.451 648.2 221.1)" font-size="12" text-anchor="start" y="3.5">17</text><text transform="matrix(0.893 -0.449 0.719 0.541 510 284.7)" font-size="12" text-anchor="end" y="3.5">4</text><text transform="matrix(0.897 -0.442 0.719 0.541 491.8 271)" font-size="12" text-anchor="end" y="3.5">6</text><text transform="matrix(0.901 -0.435 0.719 0.541 474 257.6)" font-size="12" text-anchor="end" y="3.5">8</text><text transform="matrix(0.904 -0.428 0.719 0.541 456.7 244.6)" font-size="12" text-anchor="end" y="3.5">10</text><text transform="matrix(0.907 -0.421 0.719 0.541 439.8 231.9)" font-size="12" text-anchor="end" y="3.5">12</text><text transform="matrix(0.910 -0.415 0.719 0.541 423.4 219.6)" font-size="12" text-anchor="end" y="3.5">14</text><text transform="matrix(0.913 -0.408 0.719 0.541 407.3 207.5)" font-size="12" text-anchor="end" y="3.5">16</text><text transform="matrix(0.887 -0.462 0.740 0.512 611.3 271.4)" font-size="15.5" text-anchor="middle">Tryptone (g/L)</text><text transform="matrix(0.710 0.554 -0.904 0.428 426.6 260.2)" font-size="15.5" text-anchor="middle">NaCl (g/L)</text><text transform="matrix(0.080 1.000 -1.000 0.000 365.7 146.7)" font-size="15" text-anchor="middle" font-weight="bold">Protease activity (U/mL)</text></g>
</g>
<g id="pc" clip-path="url(#clc)">
<path d="M84.6 485.6L208.4 430.2L209.1 295L78.7 345.4Z" fill="#fff"/>
<path d="M314.5 498.5L208.4 430.2L209.1 295L321 356.5Z" fill="#fff"/>
<path d="M84.6 485.6L78.7 345.4M97.6 479.8L92.4 340M110.5 474.1L106 334.8M123.2 468.4L119.4 329.6M135.8 462.8L132.7 324.5M148.2 457.2L145.8 319.5M160.5 451.7L158.7 314.5M172.7 446.2L171.5 309.5M184.7 440.8L184.2 304.6M196.6 435.5L196.7 299.8M208.4 430.2L209.1 295M314.5 498.5L321 356.5M298.4 488.2L304 347.2M282.6 478L287.3 338M267.2 468.1L271 329M252 458.3L255 320.3M237.2 448.8L239.4 311.7M222.7 439.4L224.1 303.3M208.4 430.2L209.1 295M84 470.8L208.5 415.9L315.2 483.5M83.4 455.7L208.5 401.3L315.9 468.3M82.7 440.5L208.6 386.6L316.6 452.9M82.1 425.1L208.7 371.8L317.3 437.3M81.4 409.5L208.8 356.8L318 421.5M80.7 393.8L208.8 341.6L318.8 405.6M80.1 377.8L208.9 326.2L319.5 389.4M79.4 361.7L209 310.7L320.3 373.1M78.7 345.4L209.1 295L321 356.5M84.6 485.6L208.4 430.2L314.5 498.5" fill="none" stroke="#d9d9de" stroke-width="0.8"/>
<path d="M187.5 562.4L314.5 498.5L208.4 430.2L84.6 485.6Z" fill="#00782e"/>
<path d="M196 435.8L208 435.7L217.2 435.9L314.5 498.5L193.9 559.2L183.8 558.8L182.5 558.7L84.6 485.6Z" fill="#009e08"/>
<path d="M190.6 438.2L204.5 437.9L211.3 438L221 438.3L314.5 498.5L199.2 556.5L184.7 556L178.2 555.5L84.6 485.6Z" fill="#00ca00"/>
<path d="M184.6 440.9L194.8 440.4L204.5 440.2L214.2 440.4L225 440.9L314.5 498.5L204.9 553.6L196.4 553.6L185.6 553.1L173.7 552.1L84.6 485.6Z" fill="#23eb00"/>
<path d="M177.8 444L192.1 442.9L204.5 442.7L216.8 442.9L229.4 443.7L314.5 498.5L211.1 550.5L200.2 550.6L186.5 550.1L176.4 549.3L168.7 548.4L84.6 485.6Z" fill="#6ef905"/>
<path d="M88.5 487.2L90.8 482.9L169.7 447.6L181.2 446.3L192.8 445.5L207.4 445.3L219.1 445.6L227.8 446.3L234.3 446.9L314.5 498.5L218 547.1L203.7 547.4L190.7 547.1L178 546.2L171.7 545.5L163.2 544.3L88.1 488.2Z" fill="#c9f90d"/>
<path d="M93.8 492.5L94.8 488.8L96.5 485.1L98.8 481.5L101.8 477.9L159.3 452.2L171.7 450.2L185.2 448.8L198.9 448.1L212.7 448.1L226.4 449L239.9 450.5L314.5 498.5L225.9 543.1L212.8 543.9L206.7 544.1L197.6 544L188.5 543.6L176.6 542.6L167.9 541.5L156.8 539.5Z" fill="#ffff00"/>
<path d="M101.1 493.8L101.5 491.4L102.2 489.1L103.1 486.8L104.3 484.6L105.8 482.4L107.6 480.2L109.6 478L113 474.9L117 471.9L121.1 469.3L140.7 460.6L148 458.3L154.7 456.5L161.7 455L171.4 453.3L178.8 452.4L189 451.5L196.7 451.1L207 451L217.3 451.3L227.5 452.1L237.5 453.3L246.7 454.9L307.4 494L307.4 496.1L307 499.7L306.1 502.8L235.2 538.4L226.1 539.5L217.8 540.1L209.4 540.5L200.9 540.5L195.2 540.4L186.8 539.9L181.3 539.4L173.2 538.5L167.8 537.7L160.1 536.3L148.9 533.6L101.1 498L101 496.1Z" fill="#ffac00"/>
<path d="M109.1 493.8L109.8 490.6L110.5 488.4L111.5 486.3L112.7 484.3L114.2 482.2L117.8 478.3L121.2 475.4L126.3 471.8L132.3 468.5L139 465.5L144.5 463.4L152.3 460.9L160.6 458.8L169.3 457.1L178.4 455.8L187.7 454.8L197.2 454.3L206.8 454.2L213.9 454.4L221 454.8L232.7 456L243.9 457.9L250.3 459.3L255.7 460.7L297.7 487.7L298.4 489.5L299 491.6L299.3 493.8L299.3 495.9L298.9 499.2L297.9 502.4L296.3 505.6L294.2 508.8L247.9 532.1L236.8 534.2L224.3 535.8L211.5 536.6L201.1 536.7L193.4 536.5L183.2 535.7L175.7 534.9L166 533.3L159 531.8L150.2 529.5L144.1 527.5L137.1 524.8L112.3 506.3L110.8 503.5L109.7 500.2L109.1 497Z" fill="#ff5f00"/>
<path d="M117.9 493.8L118.5 490.9L119.1 488.9L120 487L121.1 485.1L122.4 483.3L125.7 479.7L128.7 477.1L133.4 473.8L138.8 470.8L144.9 468L149.8 466.1L156.9 463.9L164.5 462L172.4 460.4L180.7 459.2L189.2 458.3L197.8 457.8L206.5 457.7L215.2 458L223.8 458.7L232.2 459.7L238.3 460.7L246.1 462.4L253.6 464.4L260.5 466.7L265.4 468.7L271.3 471.5L276.5 474.6L280.9 477.9L283.8 480.5L286.8 484.2L288 486.1L288.9 488L289.7 489.9L290.2 491.8L290.5 494.8L290.4 496.7L290.1 498.7L289.5 500.7L288.7 502.6L287.7 504.5L286.4 506.4L284.1 509.2L280.1 512.8L275.3 516.3L269.7 519.5L264.9 521.7L258 524.4L250.4 526.7L242.2 528.7L235.8 529.9L226.9 531.2L220.1 531.9L210.8 532.5L203.8 532.6L196.7 532.5L187.5 531.9L178.4 530.9L169.6 529.5L163.3 528.2L155.4 526.1L148 523.7L141.3 520.9L136.7 518.6L131.4 515.4L126.9 511.9L123.2 508.3L121.1 505.4L120 503.5L119.1 501.6L118.4 499.6L118 497.7L117.9 495.7Z" fill="#ee2600"/>
<path d="M127.7 493.8L128.2 491.2L129.5 487.8L131.6 484.5L134.5 481.3L137.1 479L141.3 476.1L146.1 473.4L151.5 470.9L155.9 469.2L162.1 467.2L168.9 465.5L175.9 464.1L183.3 463L190.8 462.2L198.5 461.8L206.3 461.7L214 462L221.6 462.5L229.1 463.5L234.5 464.4L241.5 465.9L248.1 467.6L254.2 469.7L258.5 471.5L263.8 474L268.4 476.7L272.3 479.7L274.8 482L277.5 485.3L279.3 488.6L280 490.3L280.4 492L280.7 494.7L280.6 496.4L280.3 498.1L279.7 499.9L279 501.6L276.9 505L274.8 507.5L271.3 510.6L267 513.7L262 516.5L257.8 518.4L251.7 520.8L245 522.9L237.8 524.6L232.1 525.7L224.3 526.8L218.2 527.4L210 527.9L203.8 528L197.6 527.9L189.4 527.4L181.4 526.6L173.7 525.3L168.1 524.2L161.1 522.3L154.5 520.2L148.6 517.7L144.6 515.7L139.8 512.9L135.8 509.8L132.5 506.6L130.6 504.1L128.8 500.7L128.2 499L127.8 497.2L127.7 495.5Z" fill="#cf0800"/>
<path d="M139 493.8L139.3 491.6L140.4 488.7L142.2 485.8L144.6 483.1L146.9 481.1L150.4 478.6L154.5 476.3L159.1 474.2L162.8 472.8L168.2 471L173.9 469.6L180 468.3L186.3 467.4L192.7 466.7L199.3 466.4L206 466.3L212.6 466.5L219.1 467L225.5 467.8L230.1 468.6L236.1 469.9L241.7 471.4L247 473.2L250.7 474.7L255.1 476.9L259 479.2L262.4 481.8L264.5 483.7L266.7 486.5L268.3 489.4L269.2 492.3L269.3 494.5L269 497.5L267.9 500.4L266.1 503.3L264.3 505.4L261.3 508.1L257.6 510.7L253.3 513.1L249.7 514.7L244.5 516.7L238.8 518.5L232.7 519.9L227.9 520.9L221.2 521.8L216.1 522.3L209.1 522.7L203.8 522.8L198.6 522.7L191.6 522.3L184.8 521.6L178.3 520.6L173.5 519.6L167.6 518L162 516.2L156.9 514.1L153.5 512.4L149.4 510L146 507.4L143.2 504.7L141.5 502.6L140 499.7L139.1 496.7Z" fill="#ac0000"/>
<path d="M152.6 493.8L152.9 492L153.7 489.7L155.1 487.5L157 485.3L158.8 483.7L161.5 481.8L164.7 479.9L168.4 478.2L171.3 477.1L175.6 475.7L180.1 474.5L184.9 473.6L189.9 472.8L195.1 472.3L200.3 472L205.6 471.9L210.8 472.1L216 472.5L224.8 473.8L229.5 474.8L234 476L238.1 477.5L241 478.6L244.5 480.4L247.6 482.2L250.2 484.3L251.9 485.8L253.6 488L254.8 490.3L255.5 492.6L255.6 494.4L255.3 496.7L254.4 499L253 501.3L251.5 502.9L249.1 505.1L246.2 507.1L242.8 508.9L240 510.2L235.9 511.8L231.4 513.2L226.5 514.3L222.8 515.1L213.5 516.2L203.9 516.6L194.3 516.2L189 515.6L183.8 514.8L180.1 514.1L175.4 512.8L171 511.4L167 509.8L164.3 508.5L161 506.6L158.3 504.5L156.1 502.4L154.7 500.7L153.5 498.4L152.8 496.1Z" fill="#900000"/>
<circle cx="145.7" cy="464.7" r="2.2" fill="none" stroke="#2424c8" stroke-width="1.05"/>
<path d="M84.6 485.6L187.5 562.4L314.5 498.5M84.6 485.6L78.7 345.4M187.5 562.4L189.9 564.2M200.9 555.7L203.3 557.5M214.1 549L216.6 550.8M227.2 542.5L229.7 544.2M240.1 536L242.6 537.7M252.9 529.5L255.4 531.3M265.5 523.2L268 524.9M278 516.9L280.4 518.6M290.3 510.7L292.8 512.4M302.5 504.6L305 506.2M314.5 498.5L317 500.2M187.5 562.4L184.8 563.8M171.8 550.7L169.2 552M156.5 539.3L153.8 540.6M141.5 528.1L138.9 529.4M126.8 517.1L124.2 518.4M112.5 506.4L109.8 507.6M98.4 495.9L95.8 497.1M84.6 485.6L82 486.8M84 470.8L86.6 469.6M83.4 455.7L86 454.6M82.7 440.5L85.4 439.4M82.1 425.1L84.7 424M81.4 409.5L84.1 408.4M80.7 393.8L83.5 392.7M80.1 377.8L82.8 376.7M79.4 361.7L82.1 360.6M78.7 345.4L81.5 344.3" fill="none" stroke="#111" stroke-width="1"/>
<path d="M98 419.5L104.8 412.4L111.8 405.8L118.8 399.7L125.9 394L133 388.8L140.2 384.1L147.4 379.8L154.7 376.1L162 372.8L169.4 370L176.8 367.8L183.5 366.2L190.8 365L198.2 364.3L205.5 364L212.8 364.4L221 365.3L228.6 366.7L236.4 368.8L244.5 371.6L252.5 374.9L260.4 378.9L268.3 383.4L276.2 388.6L283.7 394.1L288.7 398.2L293.1 402.5L297.5 407.3L303.1 414.3L307.5 420.6L313 429.3L317.3 437L312.6 434.8L309 433.4L305.4 432.4L301.8 431.7L296.9 431.3L293.2 431.3L289.5 431.6L285.7 432.2L280.6 433.6L276.8 435L272.9 436.7L269.1 438.7L265.2 441L261.3 443.7L257.3 446.7L253.4 450L248.1 454.9L244.1 458.9L240.1 463.3L236.1 468L228 478.4L219.9 490L211.8 502.9L203.7 517L195.6 532.4L187.5 549L180.7 531L174 514.5L167.3 499.4L160.6 485.7L154 473.5L147.4 462.8L140.9 453.5L137.6 449.4L133.3 444.5L130.1 441.3L127 438.4L123.8 435.9L120.7 433.8L117.6 432L114.5 430.6L111.4 429.6L107.4 428.7L104.4 428.5L101.5 428.6L98.6 429.1L94.7 430.3L91.9 431.5L89 433.1L86.3 435L82.6 438.1L90.2 428.3L94 423.9Z" fill="#00782e" stroke="#111" stroke-width="1" stroke-linejoin="round"/>
<path d="M193.8 535.8L182.4 535.3L175.7 518.5L169 503.1L162.3 489.2L155.7 476.6L149.2 465.5L142.7 455.9L139.4 451.6L136.2 447.7L133 444.2L128.8 440L123.6 435.7L120.4 433.7L117.4 431.9L114.3 430.5L111.3 429.5L108.3 428.8L105.3 428.5L102.3 428.5L99.4 428.9L96.5 429.6L93.7 430.7L90.9 432L88.1 433.7L85.3 435.8L82.6 438.1L88.9 429.9L96.5 421L106.2 411.1L115.5 402.5L124.8 394.9L134.1 388.1L143.4 382.1L152.5 377.1L157.4 374.8L162 372.8L170.9 369.5L179.8 367L188.9 365.2L193.6 364.6L198.2 364.3L202.8 364.1L207.4 364.1L216.5 364.7L225.6 366.1L233.1 367.9L240.7 370.2L248 373L255.1 376.2L262.2 379.9L269.4 384.1L276.9 389.1L283.8 394.2L287.6 397.2L292 401.4L296.4 406.1L300.9 411.4L305.3 417.4L309.7 424L314 431.2L317.3 437L313.8 435.3L310.3 433.9L306.7 432.8L303.1 432L299.5 431.4L295.8 431.2L292.1 431.3L288.4 431.7L284.7 432.5L280.9 433.5L277.1 434.8L273.3 436.5L269.5 438.5L265.6 440.7L261.7 443.4L257.8 446.3L253.9 449.5L249.9 453.1L243.3 459.7L235.4 468.8L228.7 477.4L223.4 484.9L219.3 490.9L211.3 503.7L203.2 517.8Z" fill="#009e08"/>
<path d="M199.2 525.3L188.4 524.9L178 524.3L171.3 508.4L164.7 493.9L158 480.8L151.4 469.2L144.9 459.1L141.7 454.6L138.4 450.4L135.2 446.6L132 443.2L128.8 440.1L124.7 436.6L119.5 433.1L117.4 431.9L114.3 430.6L112.3 429.8L109.3 429L106.3 428.6L103.4 428.5L101.4 428.6L98.5 429.1L95.6 429.9L92.8 431.1L90.9 432L88.1 433.7L85.3 435.8L82.6 438.1L88.9 429.9L96.5 421L105.5 411.8L114.6 403.3L123.7 395.7L132.3 389.3L141.5 383.2L150.3 378.3L159.1 374L167.9 370.5L176.9 367.8L181.5 366.6L186.2 365.7L194.7 364.5L203.7 364L212.7 364.3L221.8 365.4L229.3 366.9L236.9 369L244.5 371.6L251.6 374.5L258.8 378.1L266.5 382.4L273.9 387.1L281.5 392.4L286.5 396.3L290.9 400.3L295.3 404.8L299.7 410L304.2 415.8L308.6 422.3L313 429.3L317.3 437L313.8 435.3L310.3 433.9L306.7 432.8L303.1 432L299.5 431.4L295.8 431.2L292.2 431.3L289.7 431.6L285.9 432.2L282.2 433.1L278.4 434.3L274.6 435.9L270.8 437.8L266.9 439.9L260.4 444.3L253.9 449.5L247.3 455.6L240.7 462.6L234.1 470.4L228.7 477.4L224.7 482.9L216.7 495L208.6 508.2Z" fill="#00ca00"/>
<path d="M205.1 514.5L189.1 514.2L181.8 513.8L173.4 513L166.7 498.1L160.1 484.7L153.5 472.7L146.9 462.1L140.4 453L137.2 448.9L134 445.3L130.8 442L127.7 439.1L124.6 436.5L120.4 433.6L116.3 431.4L114.3 430.5L111.2 429.5L109.2 429L106.3 428.6L104.3 428.5L101.4 428.6L99.4 428.9L96.5 429.6L94.6 430.3L91.8 431.5L87.2 434.4L82.6 438.1L88.9 429.9L95.2 422.4L102.8 414.5L110.9 406.7L119.2 399.4L127.3 393L135.2 387.3L143.4 382.1L151 377.9L159.2 374L167.2 370.8L175.3 368.2L183.5 366.2L191.7 364.9L199.2 364.2L207.4 364.1L215.7 364.6L224 365.8L232.4 367.7L240.7 370.2L248.9 373.4L256.9 377.1L264.9 381.4L273.2 386.6L280 391.3L286.5 396.3L292 401.4L296.4 406.1L302 412.8L307.5 420.6L313 429.3L317.3 437L313.8 435.3L310.2 433.9L304.2 432.2L300.6 431.6L296.9 431.3L293.2 431.3L290.7 431.5L287 432L283.2 432.8L276.8 435L273 436.6L269.1 438.7L262.6 442.7L256 447.7L249.4 453.6L242.8 460.3L236.1 468L228 478.3L219.9 489.9L211.8 502.8Z" fill="#23eb00"/>
<path d="M211.4 503.5L200.3 503.6L189.8 503.3L179.5 502.6L168.2 501.5L162.7 489.8L156 477.2L149.4 466L142.9 456.2L139.7 451.9L136.4 448L133.2 444.4L130 441.2L126.9 438.4L123.7 435.9L120.6 433.7L117.5 432L113.4 430.2L111.4 429.5L108.4 428.9L104.4 428.5L102.4 428.5L99.5 428.9L95.6 429.9L93.7 430.6L90.9 432L87.2 434.4L82.6 438.1L86.4 433.1L91.4 426.8L95.2 422.4L100.7 416.6L106.3 411.1L112.5 405.2L118.1 400.3L123.9 395.6L129.4 391.4L135 387.4L140.6 383.8L146.2 380.5L151.8 377.5L157.4 374.8L163 372.4L168.6 370.3L174.1 368.5L179.8 367L185.2 365.9L190.9 365L196.3 364.4L202.2 364.1L208.2 364.1L213.5 364.4L219.2 365L224.7 365.9L230.1 367.1L235.5 368.6L240.9 370.3L246.7 372.5L252.5 374.9L257.8 377.5L267.2 382.7L276.2 388.6L285.4 395.4L288.7 398.2L292 401.4L295.3 404.8L298.6 408.7L302 412.8L305.3 417.4L311.9 427.5L317.3 437L313.8 435.3L310.3 433.9L304.4 432.2L300.7 431.6L298.3 431.3L294.6 431.2L292.2 431.3L288.5 431.7L284.7 432.5L278.4 434.3L272.1 437.1L265.7 440.7L259.2 445.2L252.7 450.6L246.1 456.8L239.5 464L232.8 472L227.5 479.1L219.5 490.7Z" fill="#6ef905"/>
<path d="M86.4 434.3L88.7 430.1L95.5 422.1L103.5 413.8L111.8 405.9L119.5 399.1L127.6 392.7L135.9 386.9L143.8 381.9L151.8 377.5L159.1 374L166.7 371L174.6 368.4L182.5 366.4L190.2 365.1L198.2 364.3L205.9 364L214.2 364.5L222.5 365.5L230.8 367.3L239.2 369.7L247.5 372.8L255.8 376.5L264.1 381L272.4 386.1L279.5 391L286.5 396.3L292 401.4L296.4 406.1L302 412.8L307.5 420.6L313 429.3L317.3 437L311.5 434.3L306.8 432.8L300.8 431.6L295.9 431.2L292.3 431.3L289.8 431.6L284.9 432.4L278.6 434.3L273.5 436.4L269.7 438.3L265.9 440.6L259.4 445L252.9 450.4L246.4 456.6L242.4 460.7L238.5 465.2L231.8 473.3L225.2 482.3L218.5 492.1L210.5 492.4L200.5 492.5L190.6 492.2L180.8 491.6L171.2 490.6L162.5 489.5L157 479L151.6 469.5L146.2 460.9L139.7 452L134.4 445.7L129.2 440.4L124 436L120.9 433.9L117.8 432.1L113.7 430.3L109.7 429.1L105.8 428.6L101.9 428.6L98 429.2L94.2 430.4L90.5 432.2L85.9 435.3Z" fill="#c9f90d"/>
<path d="M91.5 431.7L92.1 429.3L93 426.9L94.2 424.6L96.2 421.7L99.8 417.5L108.3 409.1L117.4 400.9L126.6 393.5L135.2 387.3L144.3 381.6L152.5 377.1L160.2 373.6L167.9 370.5L176 368L183.5 366.2L191.7 364.9L199.2 364.2L207.4 364.1L215.7 364.6L224 365.8L232.4 367.7L240.7 370.2L248.9 373.4L256.9 377.1L264.9 381.4L273.2 386.6L280 391.3L286.5 396.3L292 401.4L296.4 406.1L302 412.8L307.5 420.6L313 429.3L317.3 437L312.7 434.8L308 433.1L303.2 432L298.4 431.4L293.5 431.3L288.6 431.7L283.6 432.7L278.6 434.3L272.3 437L265.9 440.5L259.5 445L253 450.3L246.4 456.5L239.9 463.6L233.2 471.5L226.6 480.3L213.2 481.1L207 481.2L197.7 481.2L188.4 480.8L176.2 479.8L167.3 478.8L155.9 476.9L152.6 471.2L148.3 464.2L144 457.8L139.7 452L135.4 446.9L131.2 442.4L127.1 438.5L122.9 435.3L118.8 432.7L114.8 430.7L110.8 429.4L106.8 428.6L102.9 428.5L99 429L95.2 430.1Z" fill="#ffff00"/>
<path d="M98.6 425.1L99.1 422.9L99.7 420.6L101.6 416.8L103.1 414.7L104.8 412.6L109 408.4L118.1 400.3L127.3 393L136.6 386.4L146 380.6L153.7 376.6L161.1 373.2L168.5 370.3L176 368L183.5 366.2L190.9 365L198.4 364.2L205.9 364L213.5 364.4L221.1 365.3L228.6 366.7L236.4 368.8L244.5 371.6L252 374.7L259.6 378.5L267.2 382.7L274.7 387.6L282.2 393L287.6 397.2L293 402.3L296.3 405.9L299.5 409.7L304.9 416.9L310.3 425L310.4 427.1L310 430.5L309.1 433.5L304.3 432.2L299.4 431.4L294.5 431.2L289.5 431.6L284.5 432.5L279.5 434L274.4 436L269.2 438.6L264 441.7L260.1 444.5L256.2 447.6L252.3 450.9L248.3 454.6L244.3 458.7L240.3 463L236.3 467.7L227 468.7L218.4 469.4L209.7 469.7L201 469.7L186.6 469.2L172.6 467.8L167.1 467.1L159.1 465.7L147.7 463.2L142.3 455.4L139.1 451.2L135.9 447.4L130.7 441.8L127.6 438.9L124.5 436.4L121.4 434.2L118.3 432.4L115.3 430.9L111.3 429.5L108.3 428.9L105.4 428.5L102.5 428.5L98.6 429.1L98.5 427.3Z" fill="#ffac00"/>
<path d="M106.6 417.2L107 415.2L107.4 413.6L109 410.1L110.3 408.2L111.8 406.2L115 403L123.7 395.7L132.2 389.4L140.6 383.8L149 379L156.2 375.4L163.5 372.2L170.4 369.7L177.5 367.6L184.3 366L191.7 364.9L199.1 364.2L205.9 364L213.5 364.4L221 365.3L228.3 366.7L235.4 368.5L242.7 370.9L249.8 373.7L256.9 377.1L263.9 380.8L271.8 385.6L279.5 391L286.5 396.3L292 401.3L296.3 406L300.7 411.2L301.4 412.9L302 415L302.3 417L302.4 419.1L302 422.2L301 425.2L299.3 428.3L297.1 431.3L291.1 431.4L284.9 432.4L278.7 434.2L273.7 436.3L267.4 439.6L261.1 443.8L254.6 448.9L249.5 453.5L238 455.6L225.2 457.1L212 457.9L201.3 458L193.3 457.8L182.8 457.1L175.1 456.3L165.1 454.8L157.9 453.4L148.9 451.2L142.5 449.3L135.3 446.7L132.2 443.3L129.1 440.3L126 437.6L122.9 435.3L119.9 433.3L116.8 431.7L113.8 430.4L109.9 429.2L108.3 426.4L107.1 423.4L106.6 420.3Z" fill="#ff5f00"/>
<path d="M115.4 409.3L115.7 407.5L116.3 405.6L117.8 402.5L120.1 399.4L123.5 396L130.1 390.8L137.8 385.6L145.2 381.1L152.5 377.1L159.1 374L165.7 371.4L172.3 369.1L178.8 367.3L185.2 365.9L191.7 364.9L198.4 364.2L205.2 364L212 364.3L218.8 365L225.6 366.1L231.9 367.6L238.4 369.4L245.4 371.9L252 374.7L258.7 378L265.7 381.9L272.6 386.2L280.4 391.6L286.1 396.1L289 399.1L290.4 400.9L291.5 402.7L292.4 404.5L293 406.3L293.4 408.2L293.6 410L293.5 411.9L293.2 413.7L292.6 415.6L291.8 417.4L290.7 419.3L289.4 421.1L287 423.7L282.9 427.1L278 430.4L272.2 433.4L267.3 435.5L260.1 438.1L252.2 440.3L243.8 442.2L237.2 443.4L228 444.6L220.9 445.3L211.3 445.8L204.1 446L196.8 445.9L187.2 445.3L177.8 444.4L168.8 443.1L162.3 441.8L154 439.9L146.4 437.6L139.5 435L134.8 432.8L129.3 429.7L124.6 426.5L120.9 423L118.7 420.3L117.5 418.5L116.6 416.7L115.9 414.9L115.5 413L115.4 411.2Z" fill="#ee2600"/>
<path d="M125.3 401.3L125.8 398.9L127.2 395.7L129.4 392.6L132.4 389.6L136.1 386.7L143.1 382.3L149.6 378.6L156.2 375.4L162 372.8L168.5 370.3L174.6 368.4L180.6 366.8L186.5 365.6L192.6 364.7L199.1 364.2L205.2 364L211.2 364.2L217.4 364.8L223.8 365.8L230.1 367.1L236.4 368.8L242.7 370.9L248.9 373.4L255.1 376.2L261.3 379.4L267.4 382.9L273.1 386.5L276.8 389.3L279.7 392.4L281.9 395.5L282.7 397.1L283.2 398.7L283.6 400.3L283.7 401.9L283.6 403.6L283.3 405.2L282.8 406.8L282 408.5L279.9 411.7L277.7 414L274.1 417L269.6 419.9L264.5 422.5L260.1 424.4L253.7 426.6L246.8 428.6L239.3 430.2L233.5 431.3L225.3 432.3L219.1 432.9L210.6 433.4L204.1 433.5L197.7 433.4L189.2 432.9L180.9 432.1L172.9 431L167.1 429.9L159.8 428.2L153.1 426.2L146.9 423.9L142.7 422L137.8 419.3L133.6 416.4L130.3 413.4L128.3 411.1L126.4 407.9L125.8 406.2L125.5 404.6L125.3 403Z" fill="#cf0800"/>
<path d="M136.8 393.3L137.2 391.3L138.3 388.5L140.2 385.9L142.7 383.3L145 381.5L148.7 379.1L154 376.4L160.2 373.6L165.8 371.3L171.3 369.4L176.9 367.8L182.7 366.4L188 365.4L193.9 364.6L199.9 364.2L205.2 364L211 364.2L216.5 364.7L222 365.5L227.8 366.6L233.7 368L239.2 369.7L245.2 371.9L250.7 374.1L255.8 376.5L260.5 379L264.1 381.3L267.1 383.7L269.4 386.3L271.1 389L272 391.7L272.2 393.8L271.8 396.6L270.7 399.3L268.8 402L267 404L263.8 406.6L260.1 409L255.6 411.2L251.9 412.7L246.4 414.6L240.5 416.3L234.2 417.7L229.2 418.5L222.2 419.5L216.9 420L209.7 420.3L204.2 420.4L198.7 420.4L191.5 420L184.4 419.3L177.6 418.3L172.7 417.4L166.5 416L160.7 414.3L155.4 412.4L151.9 410.8L147.6 408.5L144 406.1L141.2 403.5L139.5 401.5L137.8 398.8L136.9 396.1Z" fill="#ac0000"/>
<path d="M150.9 385.2L151.1 383.6L152 381.5L153 379.9L154.9 377.9L156.6 376.4L159.4 374.5L162.6 372.8L166.3 371.2L170.9 369.5L176 368L180.6 366.8L185.7 365.8L190.8 365L195.4 364.5L200 364.2L205.2 364L210.1 364.2L215 364.5L220.1 365.2L224.8 366L230.1 367.1L234.6 368.3L239.9 369.9L243.9 371.4L247.4 373.1L250.5 374.8L253.1 376.7L254.7 378.2L256.4 380.3L257.3 381.8L258 384L258.1 385.6L257.8 387.8L256.9 390L255.4 392.1L253.9 393.6L251.4 395.6L248.4 397.5L244.8 399.2L241.9 400.4L237.6 401.9L232.9 403.2L223.9 404.9L214.3 406L204.3 406.4L194.3 406.1L188.7 405.5L183.3 404.8L174.5 403L170 401.6L165.8 400.1L163 398.9L159.6 397.1L156.7 395.2L154.4 393.3L153.1 391.7L151.7 389.6L151 387.4Z" fill="#900000"/>
<path d="M98 419.5L104.8 412.4L111.8 405.8L118.8 399.7L125.9 394L133 388.8L140.2 384.1L147.4 379.8L154.7 376.1L162 372.8L169.4 370L176.8 367.8L183.5 366.2L190.8 365L198.2 364.3L205.5 364L212.8 364.4L221 365.3L228.6 366.7L236.4 368.8L244.5 371.6L252.5 374.9L260.4 378.9L268.3 383.4L276.2 388.6L283.7 394.1L288.7 398.2L293.1 402.5L297.5 407.3L303.1 414.3L307.5 420.6L313 429.3L317.3 437L312.6 434.8L309 433.4L305.4 432.4L301.8 431.7L296.9 431.3L293.2 431.3L289.5 431.6L285.7 432.2L280.6 433.6L276.8 435L269.1 438.7L261.3 443.7L253.4 450L244.1 458.9L236.1 468L228 478.4L219.9 490L211.8 502.9L203.7 517L195.6 532.4L187.5 549L180.7 531L174 514.5L167.3 499.4L160.6 485.7L154 473.5L147.4 462.8L140.9 453.5L133.3 444.5L127 438.4L120.7 433.8L117.6 432L114.5 430.6L111.4 429.6L107.4 428.7L104.4 428.5L101.5 428.6L98.6 429.1L94.7 430.3L91.9 431.5L89 433.1L86.3 435L82.6 438.1L90.2 428.3Z" fill="url(#shc)"/>
<path d="M187.5 549L180.4 530.3L174.8 516.5L167.8 500.6L160.9 486.3L154 473.5L147.1 462.3L143.7 457.4L140.3 452.8L136.9 448.6L133.6 444.8L130.9 442.1L127 438.4L124.3 436.3L120.4 433.6L117.8 432.2L114 430.4L111.4 429.6L107.7 428.8L105.2 428.5L101.5 428.6L99 429L95.4 430L93 430.9L89.5 432.8L86 435.2L82.6 438.1M187.5 549L195.9 531.7L204.3 515.8L212.8 501.2L221.2 488L229.7 476.1L233.9 470.7L238.1 465.6L242.2 460.9L246.4 456.5L250.5 452.5L254.7 448.8L258 446.1L262.9 442.5L267 439.9L271 437.6L275 435.7L279 434.1L283 432.9L286.9 432L290.9 431.4L294.7 431.2L298.6 431.4L302.4 431.8L306.2 432.6L309.9 433.7L313.7 435.2L317.3 437M194.6 534.4L187.5 516L181.9 502.5L174.9 486.9L168 472.9L161 460.5L157.6 454.9L154.2 449.7L150.7 444.9L147.3 440.4L144 436.4L140.6 432.8L137.9 430.3L133.9 426.8L131.3 424.9L127.4 422.4L124.8 421.1L120.9 419.6L118.4 418.9L114.6 418.3L112.1 418.2L108.4 418.6L105.9 419.1L102.3 420.3L99.9 421.4L96.3 423.5L92.8 426.2L89.4 429.3M181.5 533.2L190 516.2L198.4 500.6L206.9 486.4L215.3 473.5L223.8 461.9L228 456.7L232.1 451.8L236.3 447.2L240.5 443L244.6 439.2L248.8 435.7L252.1 433.2L257 429.8L261.1 427.3L265.1 425.3L269.1 423.5L273.1 422.1L277.1 421.1L281.1 420.4L285 420L288.9 420L292.7 420.3L296.5 421L300.3 422L304.1 423.3L307.8 424.9L311.5 426.9M201.7 520.7L196.1 506.2L189 489.4L182 474.1L175.1 460.5L168.1 448.4L164.7 443L161.2 437.9L157.8 433.3L154.4 429.1L151 425.3L147.6 421.9L144.9 419.4L140.9 416.2L138.3 414.4L134.4 412.2L131.7 411L127.9 409.7L125.3 409.2L121.5 408.8L119 408.9L115.3 409.5L112.8 410.1L109.1 411.6L106.7 412.9L103.1 415.2L99.6 418L96.2 421.4M175.6 518.4L184.1 501.8L192.5 486.5L201 472.6L209.4 460L213.6 454.3L217.8 448.9L222 443.8L226.2 439.1L230.4 434.7L234.6 430.7L238.7 427L242.9 423.7L246.1 421.3L251.1 418.2L255.1 415.9L259.2 414L263.2 412.5L267.2 411.3L271.2 410.4L275.2 409.9L279.1 409.7L283 409.9L286.8 410.4L290.7 411.2L294.4 412.4L298.2 413.9L301.9 415.7L305.6 417.9M208.8 508L203.2 493.7L196.2 477.2L189.1 462.3L182.2 449L175.9 438.4L172.4 433L169 428.1L165.5 423.6L162.1 419.5L158.7 415.8L155.3 412.5L152.6 410.1L149.3 407.5L146 405.3L142.7 403.5L139.4 402.1L136.1 401.1L132.9 400.5L129.7 400.3L126.5 400.5L123.4 401L120.3 401.9L117.2 403.2L114.2 404.9L111.2 406.9L108.2 409.3L105.4 411.9M169.8 504.8L178.2 488.5L186.6 473.6L195.1 460L203.5 447.7L207.7 442.1L211.9 436.9L216.1 432L220.3 427.5L224.5 423.3L228.6 419.5L232.8 416L236.9 412.9L240.2 410.6L245.1 407.7L249.2 405.6L253.3 403.9L257.3 402.5L261.3 401.5L265.3 400.8L269.2 400.5L273.2 400.5L277.1 400.9L280.9 401.6L284.7 402.6L288.5 404L292.3 405.7L296 407.7L299.7 410M215.9 496.2L210.3 482.2L203.3 466L197 452.9L190 439.7L183.7 429.3L177.4 420.2L171.2 412.4L168.5 409.3L164.4 405.2L159 400.7L155.6 398.3L152.3 396.4L149.7 395.2L146.4 394L143.1 393.2L139.9 392.7L137.3 392.7L134.1 393L131 393.6L127.8 394.6L124.7 396L121.7 397.8L118.6 399.9L116 402.1M163.9 492.3L172.3 476.3L180.7 461.7L189.2 448.4L197.6 436.6L201.8 431.1L206 426.1L210.2 421.4L214.4 417L218.6 413L222.7 409.4L226.9 406.1L231 403.1L234.3 401.1L239.2 398.3L243.3 396.5L247.3 394.9L251.4 393.8L255.4 392.9L259.4 392.4L263.3 392.3L267.2 392.5L271.1 393L275 393.9L278.8 395.1L282.6 396.7L286.4 398.5L290.1 400.7L293.8 403.2M223 485.4L217.4 471.6L211.8 458.9L206.2 447.1L199.1 433.8L192.9 423.3L186.6 414.1L180.4 406.1L177.6 403.1L174.2 399.5L168.7 394.8L166 392.8L162 390.3L159.3 388.9L156.7 387.8L153.4 386.8L150.1 386.2L147.5 386L144.3 386L141.1 386.5L138.5 387.1L136 388L132.3 389.8L129.8 391.2L126.7 393.4M158 480.9L166.4 465.2L173.2 453.7L181.6 440.5L185.8 434.4L190 428.7L194.2 423.4L198.4 418.3L202.6 413.7L206.8 409.4L211 405.4L215.2 401.8L219.3 398.5L223.4 395.6L226.7 393.6L231.7 390.9L234.9 389.4L239.8 387.6L243 386.7L247.9 385.7L251.1 385.3L255.8 385.2L259 385.3L263.7 386L266.8 386.7L271.4 388.2L274.4 389.4L279 391.6L283.5 394.4L287.9 397.5M230.1 475.5L224.5 462L218.9 449.6L213.2 438.1L206.9 426.4L201.3 417.1L195 407.9L189.5 400.9L186.7 397.7L183.3 394.2L177.8 389.3L174.4 386.8L171.7 385.1L169 383.6L166.3 382.4L163.7 381.5L160.3 380.6L157.7 380.2L154.4 380.1L151.8 380.3L149.3 380.7L146.7 381.3L142.9 382.8L140.4 384L137.5 385.8M152.2 470.5L160.6 455.3L167.3 444L175.8 431.2L180 425.3L184.2 419.8L191.7 410.7L195.9 406.1L200.1 401.9L204.3 398.1L208.4 394.6L212.6 391.5L216.7 388.7L220 386.7L224.1 384.6L228.2 382.8L232.3 381.3L236.3 380.2L240.3 379.5L244.3 379.1L248.3 379.1L252.3 379.3L256.2 380L260.1 380.9L263.9 382.2L267.8 383.8L271.6 385.8L275.3 388.1L278.5 390.2M237.2 466.7L231.6 453.5L225.9 441.3L220.3 430.1L214.7 419.9L209.1 410.8L203.5 402.7L197.9 395.7L192.4 389.7L186.9 384.8L184.1 382.7L181.4 380.8L178.7 379.3L176 377.9L173.3 376.9L170.6 376.1L168 375.5L165.3 375.2L162.7 375.2L160.1 375.4L157.5 375.8L154.3 376.7L151.1 377.9L148.5 379.2M146.5 461.4L154.8 446.5L161.5 435.5L169.1 424.2L176.7 414.1L184.2 405.1L191.7 397.2L195.1 394.1L199.2 390.5L202.6 387.9L206.7 384.9L210 382.8L214.1 380.5L218.2 378.5L221.5 377.2L224.8 376.1L228 375.3L231.2 374.6L236.1 374.1L239.3 374L242.4 374.1L246.4 374.6L250.3 375.4L254.2 376.5L258 378L261.9 379.7L265.3 381.7M244.2 458.8L240 449L234.4 436.8L228.7 425.7L223.1 415.6L218.2 407.6L212.6 399.4L207 392.3L201.5 386.2L196.6 381.7L193.9 379.5L191.1 377.6L188.4 375.9L185.7 374.5L183 373.3L180.3 372.4L177.6 371.7L174.9 371.3L172.3 371.1L169.6 371.2L167 371.5L164.4 372.1L159.6 373.8M140.7 453.3L147.4 441.6L154.1 430.7L160.8 420.7L168.4 410.5L175.1 402.4L182.6 394.3L189.3 388.2L192.6 385.4L196.7 382.3L203.4 378L207.5 375.8L210.8 374.3L214 373L217.3 372L220.5 371.1L224.6 370.4L227.8 370.1L231.8 370L235 370.1L238.1 370.5L241.3 371.1L244.4 371.9L248.3 373.2L252 374.7M251.2 451.9L247 442.3L241.4 430.4L236.4 420.9L231.5 412.1L225.9 403.1L221 396L216.1 389.8L210.5 383.6L205.7 379L200.8 375.3L198.1 373.5L195.3 371.9L190.6 369.8L185.8 368.5L183.2 368.1L180.5 368L177.8 368.1L175.2 368.4L170.8 369.6M135.1 446.4L141.7 435L148.4 424.4L154.3 415.8L161 406.9L166.8 399.8L173.5 392.6L180.2 386.2L186.8 380.8L193.4 376.3L200 372.6L203.3 371.2L206.6 369.9L209.8 368.9L213.1 368.1L216.3 367.5L219.6 367.1L222.8 367L226 367.1L229.1 367.3L232.3 367.9L235.4 368.6L238.4 369.5M258.1 446L253.9 436.7L248.3 425.1L244.1 417.1L239.2 408.4L235 401.7L230 394.5L225.1 388.2L220.2 382.6L215.4 377.9L210.5 373.9L205.7 370.8L200.9 368.4L196.8 366.9L194.1 366.3L191.4 365.9L188.7 365.8L186 365.9L182 366.5M129.5 440.7L134.4 432.2L141.1 421.7L146.9 413.2L152.8 405.4L157.8 399.3L164.5 391.9L171.1 385.4L176.9 380.4L182.7 376.2L188.5 372.6L194.3 369.7L197.6 368.4L200.8 367.3L204.1 366.4L207.3 365.7L213 365.1L218.6 365.1L221.8 365.5L224.7 365.9M265 441.1L260.8 432L256.6 423.4L252.4 415.4L246.8 405.7L242.5 399.1L238.3 393L234.1 387.5L229.2 381.9L225 377.7L220.1 373.6L216 370.6L211.2 367.9L206.4 366L202.3 365L198.2 364.5L193.3 364.7M123.9 436L128.9 427.8L133.9 420L138.8 412.8L145.5 403.9L150.5 397.8L155.5 392.3L161.3 386.4L167.1 381.2L172.1 377.3L177.9 373.4L182.8 370.6L188.6 368L193.5 366.3L196.7 365.4L200 364.8L204.8 364.2L210.9 364.2M271.9 437.2L267.7 428.3L263.4 420L259.2 412.2L255 405L250.8 398.4L246.6 392.4L242.3 387L238.1 382.1L233.9 377.8L229.7 374.1L225.6 371L221.4 368.5L217.3 366.5L213.2 365.1L209.1 364.3L204.7 364M118.4 432.5L122.6 425.8L127.5 418.2L131.7 412.2L137.5 404.5L141.6 399.4L146.6 393.7L151.6 388.5L157.4 383.1L161.5 379.6L166.5 376L171.4 372.8L177.2 369.7L182.1 367.6L187.8 365.8L192.7 364.8L197 364.3M278.6 434.3L275.1 427L270.9 418.8L267.4 412.4L263.2 405.3L259.7 399.7L255.4 393.6L251.9 389L247.7 384L243.5 379.6L240 376.3L235.8 372.9L231.6 370.1L228.2 368.2L224 366.5L219.9 365.3L216.2 364.7M113 430.1L121.3 417.4L126.2 410.4L130.4 405L134.5 400L138.6 395.2L142.8 390.8L147.7 386L151.9 382.4L156 379.2L160.1 376.2L165.1 373.2L169.2 371.1L174.1 368.9L179 367.3L183 366.3M285.3 432.3L278.3 418.6L271.3 406.4L268.5 402L264.2 395.8L260 390.2L256.5 386L253 382.2L249.5 378.8L246 375.8L241.8 372.7L238.3 370.6L234.8 368.9L231.4 367.5L227.6 366.5M107.7 428.8L114.3 418.8L122.5 407.6L129.9 398.7L134.1 394.2L138.2 390.1L141.5 387L145.6 383.5L149.7 380.4L153.8 377.6L157.1 375.6L161.2 373.4L165.3 371.5L168.9 370.2M291.9 431.4L286.3 420.5L279.3 408.4L273 398.9L269.5 394.1L265.9 389.8L263.1 386.6L259.6 383L256.1 379.7L252.6 376.9L249.1 374.5L245.6 372.4L242.1 370.8L239.1 369.7M102.5 428.5L109.1 418.9L115.6 410.1L122.2 402.2L128.7 395.2L135.3 389.1L141.9 383.8L148.5 379.4L154.8 376M298.4 431.4L292.8 420.8L287.2 411.3L281.6 402.8L278.8 398.9L274.6 393.6L269 387.4L266.1 384.6L262.6 381.6L259.8 379.4L256.3 377.1L253.5 375.5L250.6 374.1M97.4 429.4L102.3 422.3L107.2 415.7L112.1 409.6L118.6 402.2L124.3 396.5L130.1 391.4L135 387.6L140.6 383.8M304.8 432.3L300.6 424.5L295 415.1L289.4 406.6L283.8 399.1L278.9 393.5L273.3 387.9L267.7 383.3L264.9 381.5L262.1 379.8M92.4 431.3L96.4 425.5L100.5 420.1L105.3 414.1L109.4 409.4L113.5 405.1L117.6 401.1L121.6 397.5L126.5 393.6M311.1 434.2L306.9 426.6L301.4 417.5L297.2 411.2L292.3 404.7L288.1 399.7L283.1 394.6L278.2 390.2L273.5 386.8M87.4 434.2L93.9 425.5L100.4 417.6L106 411.4L112.4 405.3M317.3 437L313.9 430.8L309.7 424L306.2 418.7L301.3 412L297.8 407.7L293.6 403L289.4 398.8L284.9 395.1M82.6 438.1L86.6 432.8L90.6 427.7L93.9 424L98.4 419" fill="none" stroke="#0a0a0a" stroke-width="1.05" stroke-linejoin="round"/>
<circle cx="160.8" cy="366.7" r="2.2" fill="none" stroke="#2424c8" stroke-width="1.05" opacity="0.9"/>
<circle cx="108.5" cy="408.6" r="2.2" fill="none" stroke="#2424c8" stroke-width="1.05" opacity="0.9"/>
<circle cx="198.4" cy="367.4" r="2.2" fill="none" stroke="#2424c8" stroke-width="1.05" opacity="0.9"/>
<circle cx="249.4" cy="369.2" r="2.2" fill="none" stroke="#2424c8" stroke-width="1.05" opacity="0.9"/>
<circle cx="290.1" cy="403.6" r="2.2" fill="none" stroke="#2424c8" stroke-width="1.05" opacity="0.9"/>
<circle cx="184.6" cy="473.2" r="2.2" fill="none" stroke="#2424c8" stroke-width="1.05" opacity="0.9"/>
<path d="M160.8 368.7V372M184.6 475.2V484" stroke="#2a2ad0" stroke-width="0.8" fill="none" stroke-dasharray="1.5 1"/>
<g fill="#111" stroke="#111" stroke-width="0.32"><text transform="matrix(1.000 -0.340 0.000 1.000 79.5 476)" font-size="12.5" text-anchor="end">0.0</text><text transform="matrix(1.000 -0.340 0.000 1.000 78.9 460.9)" font-size="12.5" text-anchor="end">0.2</text><text transform="matrix(1.000 -0.340 0.000 1.000 78.2 445.7)" font-size="12.5" text-anchor="end">0.4</text><text transform="matrix(1.000 -0.340 0.000 1.000 77.6 430.3)" font-size="12.5" text-anchor="end">0.6</text><text transform="matrix(1.000 -0.340 0.000 1.000 76.9 414.7)" font-size="12.5" text-anchor="end">0.8</text><text transform="matrix(1.000 -0.340 0.000 1.000 76.2 399)" font-size="12.5" text-anchor="end">1.0</text><text transform="matrix(1.000 -0.340 0.000 1.000 75.6 383)" font-size="12.5" text-anchor="end">1.2</text><text transform="matrix(1.000 -0.340 0.000 1.000 74.9 366.9)" font-size="12.5" text-anchor="end">1.4</text><text transform="matrix(1.000 -0.340 0.000 1.000 74.2 350.6)" font-size="12.5" text-anchor="end">1.6</text><text transform="matrix(0.721 0.538 -0.892 0.451 192.5 566.2)" font-size="12" text-anchor="start" y="3.5">7</text><text transform="matrix(0.725 0.533 -0.892 0.451 205.9 559.4)" font-size="12" text-anchor="start" y="3.5">8</text><text transform="matrix(0.729 0.527 -0.892 0.451 219.2 552.7)" font-size="12" text-anchor="start" y="3.5">9</text><text transform="matrix(0.733 0.522 -0.892 0.451 232.2 546.1)" font-size="12" text-anchor="start" y="3.5">10</text><text transform="matrix(0.737 0.517 -0.892 0.451 245.2 539.5)" font-size="12" text-anchor="start" y="3.5">11</text><text transform="matrix(0.740 0.512 -0.892 0.451 258 533.1)" font-size="12" text-anchor="start" y="3.5">12</text><text transform="matrix(0.744 0.507 -0.892 0.451 270.6 526.7)" font-size="12" text-anchor="start" y="3.5">13</text><text transform="matrix(0.747 0.502 -0.892 0.451 283.1 520.4)" font-size="12" text-anchor="start" y="3.5">14</text><text transform="matrix(0.750 0.497 -0.892 0.451 295.4 514.1)" font-size="12" text-anchor="start" y="3.5">15</text><text transform="matrix(0.754 0.492 -0.892 0.451 307.6 508)" font-size="12" text-anchor="start" y="3.5">16</text><text transform="matrix(0.757 0.487 -0.892 0.451 319.6 501.9)" font-size="12" text-anchor="start" y="3.5">17</text><text transform="matrix(0.768 -0.386 0.719 0.541 181.4 565.5)" font-size="12" text-anchor="end" y="3.5">0.08</text><text transform="matrix(0.771 -0.381 0.719 0.541 165.8 553.7)" font-size="12" text-anchor="end" y="3.5">0.10</text><text transform="matrix(0.774 -0.376 0.719 0.541 150.5 542.2)" font-size="12" text-anchor="end" y="3.5">0.12</text><text transform="matrix(0.776 -0.371 0.719 0.541 135.5 531)" font-size="12" text-anchor="end" y="3.5">0.14</text><text transform="matrix(0.778 -0.366 0.719 0.541 120.8 519.9)" font-size="12" text-anchor="end" y="3.5">0.16</text><text transform="matrix(0.781 -0.361 0.719 0.541 106.5 509.2)" font-size="12" text-anchor="end" y="3.5">0.18</text><text transform="matrix(0.783 -0.356 0.719 0.541 92.5 498.6)" font-size="12" text-anchor="end" y="3.5">0.20</text><text transform="matrix(0.785 -0.351 0.719 0.541 78.7 488.3)" font-size="12" text-anchor="end" y="3.5">0.22</text><text transform="matrix(0.887 -0.462 0.740 0.512 282.7 552.2)" font-size="15.5" text-anchor="middle">Tryptone (g/L)</text><text transform="matrix(0.706 0.558 -0.904 0.428 86.9 545.7)" font-size="15.5" text-anchor="middle">Initial OD</text><text transform="matrix(0.080 1.000 -1.000 0.000 38.6 431)" font-size="15" text-anchor="middle" font-weight="bold">Protease activity</text><text transform="matrix(0.080 1.000 -1.000 0.000 22.6 437.5)" font-size="15" text-anchor="middle" font-weight="bold">(U/mL)</text></g>
</g>
<g id="pd" clip-path="url(#cld)">
<path d="M423.7 481.2L543.3 427.7L543.9 297L418 345.6Z" fill="#fff"/>
<path d="M645.8 493.6L543.3 427.7L543.9 297L652 356.4Z" fill="#fff"/>
<path d="M423.7 481.2L418 345.6M444.5 471.8L440 337.1M465 462.7L461.6 328.8M485.1 453.7L482.8 320.6M504.8 444.8L503.5 312.6M524.2 436.2L523.9 304.7M543.3 427.7L543.9 297M645.8 493.6L652 356.4M627.6 482L632.9 345.9M610 470.6L614.2 335.6M592.7 459.5L596 325.6M575.8 448.6L578.2 315.9M559.4 438L560.8 306.3M543.3 427.7L543.9 297M423.1 466.8L543.3 413.8L646.4 479.1M422.5 452.3L543.4 399.7L647.1 464.4M421.8 437.6L543.5 385.5L647.8 449.5M421.2 422.7L543.5 371.2L648.5 434.5M420.6 407.6L543.6 356.7L649.2 419.2M419.9 392.4L543.7 342L649.9 403.8M419.3 377L543.8 327.2L650.6 388.2M418.6 361.4L543.8 312.2L651.3 372.4M418 345.6L543.9 297L652 356.4M423.7 481.2L543.3 427.7L645.8 493.6" fill="none" stroke="#d9d9de" stroke-width="0.8"/>
<path d="M523.1 555.3L645.8 493.6L543.3 427.7L423.7 481.2Z" fill="#00782e"/>
<path d="M531.5 551.1L523.4 550.5L515.6 549.7L423.7 481.2L543.3 427.7L645.8 493.6Z" fill="#00ab00"/>
<path d="M425.5 482.5L426 480.1L538 430L547.2 430.2L645.8 493.6L538.3 547.7L530.8 547.4L521.2 546.6L509.4 545.1Z" fill="#10e300"/>
<path d="M432.6 481.1L433.9 476.6L530.8 433.2L541.4 433.1L552.2 433.5L645.8 493.6L545.9 543.8L537.4 543.8L531.4 543.5L525.4 543.1L516.5 542.1L510.6 541.3L502.2 539.8L431.9 487.3L432.1 483.9Z" fill="#6ef905"/>
<path d="M439.7 481.4L440.9 477.4L442 474.8L443.3 472.4L522.1 437.1L528.7 436.7L536.3 436.4L548.9 436.6L558.3 437.3L643.2 492L642.6 495.2L554.7 539.4L543.3 539.7L532.1 539.4L523.7 538.8L512.7 537.4L502.2 535.4L493.4 533.2L439.9 493.3L439.2 489.4L439.1 486.7L439.3 484Z" fill="#dbfb09"/>
<path d="M447.4 481.7L448.5 478L450.1 474.4L452.3 470.9L455.4 467L510.7 442.2L520.3 440.9L529.6 440.2L538.9 440L548.3 440.2L557.7 440.9L565.3 441.8L635.4 486.9L635.4 490.3L635.1 492.8L634.5 495.3L633.7 497.8L632.6 500.2L565.5 534L558.6 534.7L550.9 535.2L543.1 535.4L535.4 535.2L527.6 534.7L520 533.9L512.5 532.8L505.3 531.4L498.2 529.6L491.5 527.7L485.2 525.4L480.2 523.3L452.3 502.5L450.2 499.1L449 496.6L448.1 494.1L447.4 491.6L447.1 489.1L446.9 486.6L447.1 484.1Z" fill="#ffc800"/>
<path d="M455.9 482L456.8 478.7L457.7 476.5L458.8 474.3L461.7 470.1L465.4 466.1L468.7 463.3L473.8 459.7L479.5 456.5L485.8 453.6L490.9 451.6L498.2 449.3L505.8 447.4L513.8 445.9L520 445L528.4 444.3L537 443.9L545.6 444L554.1 444.6L560.4 445.2L566.7 446.2L574.4 447.7L625.5 480.6L626.5 484.2L626.8 486.4L626.8 488.7L626.5 492.1L625.9 494.4L625.2 496.6L624.2 498.9L622.9 501.1L621.4 503.2L619.7 505.4L617.3 507.9L581.6 525.9L576.9 527L570.5 528.3L563.8 529.3L559.2 529.8L547.6 530.5L535.9 530.5L528.9 530L519.7 529L510.8 527.5L502.3 525.5L496.2 523.7L488.5 520.9L481.6 517.8L475.3 514.3L471.1 511.4L466.2 507.5L462.2 503.3L460.5 501.1L459.1 498.9L457.4 495.6L456.6 493.3L456 491L455.6 488.8L455.5 486.5L455.6 484.2Z" fill="#ff5f00"/>
<path d="M465.3 482.4L466.1 479.4L467.8 475.5L470.4 471.8L473.6 468.2L476.6 465.7L481 462.5L486.1 459.6L491.8 457L496.3 455.2L502.8 453.2L509.6 451.4L516.7 450.1L522.3 449.3L529.8 448.6L537.4 448.3L545.1 448.4L552.7 448.9L558.3 449.5L563.9 450.3L569.3 451.4L574.6 452.6L579.7 454.1L584.6 455.7L590.5 458.1L608.5 469.7L610.5 471.7L612.7 474.5L613.9 476.4L615.9 480.3L616.5 482.3L617 484.3L617.2 486.3L617.3 488.3L617.1 490.4L616.7 492.4L616.1 494.4L615.3 496.4L613.1 500.3L610.8 503.1L607.2 506.7L602.7 510.2L597.6 513.3L593.3 515.5L587 518.1L580.1 520.4L572.8 522.2L567.1 523.4L559.1 524.5L551 525.2L544.8 525.4L536.5 525.3L530.3 524.9L522.2 524L514.3 522.6L506.7 520.9L501.3 519.3L494.5 516.8L488.3 514.1L482.7 511L479 508.5L474.6 505L471.1 501.2L468.3 497.4L466.7 494.4L466 492.4L465.4 490.4L465.1 488.4L464.9 486.4L465 484.4Z" fill="#e51800"/>
<path d="M476 482.8L476.7 480.2L478.2 476.9L480.3 473.7L483.1 470.6L485.6 468.4L489.4 465.7L493.7 463.2L498.6 460.9L502.5 459.4L508 457.6L513.9 456.1L520.1 455L524.8 454.3L531.3 453.7L537.9 453.4L544.5 453.5L551.1 453.9L557.5 454.7L563.9 455.8L568.5 456.8L574.3 458.4L579.9 460.3L585 462.5L588.6 464.3L592.9 467L596.7 469.8L600 472.8L602 475.2L604.1 478.5L605.5 481.9L606.3 485.3L606.3 487.9L605.8 491.4L604.6 494.8L602.6 498.1L600.7 500.5L597.5 503.6L593.7 506.5L589.3 509.2L585.6 511.1L580.2 513.3L574.4 515.2L568.1 516.8L563.2 517.8L556.4 518.7L549.5 519.3L544.2 519.5L537.1 519.4L531.9 519L524.9 518.3L518.2 517.1L511.7 515.6L507.1 514.3L501.3 512.2L496 509.9L491.2 507.2L488 505.1L484.2 502.1L481.2 498.9L478.7 495.6L477.4 493.1L476.2 489.7L475.8 486.2Z" fill="#b70100"/>
<path d="M489 483.3L489.5 481.2L490.6 478.6L492.3 476L494.5 473.5L496.5 471.8L499.5 469.6L503 467.5L506.9 465.7L510 464.5L514.5 463L519.2 461.8L524.1 460.9L528 460.3L533.2 459.9L538.5 459.7L543.8 459.7L549.1 460.1L554.3 460.7L559.4 461.5L563.1 462.4L567.8 463.7L572.2 465.2L576.4 467L579.2 468.5L582.7 470.6L585.7 472.9L588.3 475.3L589.8 477.2L591.5 479.9L592.6 482.6L593.2 485.3L593.2 487.4L592.8 490.2L591.7 492.9L590.1 495.5L588.6 497.5L586 499.9L583 502.2L579.4 504.4L576.5 505.8L572.2 507.6L567.5 509.1L562.5 510.3L558.6 511.1L553.3 511.8L547.7 512.3L543.5 512.4L537.9 512.4L533.7 512.1L528.2 511.5L522.9 510.6L517.7 509.4L514 508.4L509.4 506.7L505.2 504.9L501.3 502.8L498.8 501.1L495.7 498.7L493.2 496.2L491.3 493.6L490.2 491.5L489.2 488.8L488.8 486Z" fill="#900000"/>
<circle cx="481.7" cy="462.2" r="2.2" fill="none" stroke="#2424c8" stroke-width="1.05"/>
<circle cx="578.8" cy="453.9" r="2.2" fill="none" stroke="#2424c8" stroke-width="1.05"/>
<circle cx="578.8" cy="457.1" r="2.2" fill="none" stroke="#2424c8" stroke-width="1.05"/>
<path d="M423.7 481.2L523.1 555.3L645.8 493.6M423.7 481.2L418 345.6M523.1 555.3L525.4 557.1M544.5 544.5L546.9 546.3M565.6 533.9L568 535.6M586.2 523.6L588.6 525.2M606.4 513.4L608.9 515M626.3 503.4L628.7 505M645.8 493.6L648.2 495.2M523.1 555.3L520.5 556.6M505.4 542.2L502.9 543.4M488.2 529.4L485.7 530.6M471.5 516.9L469 518.1M455.2 504.7L452.6 505.8M439.2 492.8L436.7 493.9M423.7 481.2L421.2 482.3M423.1 466.8L425.6 465.7M422.5 452.3L425 451.1M421.8 437.6L424.4 436.5M421.2 422.7L423.8 421.6M420.6 407.6L423.2 406.6M419.9 392.4L422.6 391.3M419.3 377L421.9 375.9M418.6 361.4L421.3 360.4M418 345.6L420.6 344.6" fill="none" stroke="#111" stroke-width="1"/>
<path d="M461.3 387.2L467.6 382.5L473.8 378.2L480.1 374.4L486.7 370.6L493.4 367.3L499.7 364.6L506.1 362.3L512.6 360.3L519.1 358.8L525.6 357.6L532.1 356.9L538.7 356.5L545.3 356.6L551.5 357.1L557.8 357.9L564.2 359.2L570.3 360.8L576.7 362.8L582.9 365.2L589 367.9L596.3 371.6L602.8 375.3L607.4 378.3L611.6 381.6L616.9 386.3L621.1 390.6L626.4 396.6L630.7 401.9L636 409.2L640.2 415.6L644.5 422.4L648.7 429.7L644.1 427.8L640.7 426.7L637.2 425.8L633.6 425.2L628.9 424.8L625.3 424.7L621.7 425L618.1 425.4L613.2 426.5L609.5 427.5L605.7 428.9L602 430.5L598.2 432.3L594.5 434.5L590.7 436.8L586.8 439.5L581.7 443.5L577.9 446.7L570.1 454.1L562.3 462.5L554.5 471.9L546.6 482.4L538.7 494L530.8 506.5L523 520.1L516.4 506.4L509.9 493.8L503.4 482.2L497 471.7L490.6 462.4L484.2 454.1L477.9 446.9L474.8 443.7L470.7 439.9L467.6 437.4L464.6 435.1L461.5 433.1L458.5 431.4L455.5 429.9L452.6 428.7L449.6 427.8L445.7 427L442.8 426.6L440 426.6L437.2 426.8L433.4 427.4L430.7 428.2L427.9 429.2L425.2 430.5L421.6 432.5L426.5 425.3L431.5 418.6L436.4 412.3L441.3 406.4L446.3 401L451.2 396L456.2 391.5Z" fill="#00782e" stroke="#111" stroke-width="1" stroke-linejoin="round"/>
<path d="M531.5 505.5L523.2 505L515.3 504.2L508.8 491.7L502.3 480.3L495.9 470.1L489.5 460.9L483.1 452.8L476.9 445.8L470.7 439.9L467.6 437.4L463.5 434.4L458.5 431.4L455.5 429.9L452.6 428.7L447.7 427.3L444.8 426.8L441.9 426.6L437.2 426.8L434.3 427.2L431.6 427.9L427 429.6L424.3 430.9L421.6 432.5L429 421.9L436.4 412.3L443.8 403.7L447.5 399.7L452.5 394.8L459.9 388.3L464.8 384.5L469.7 381L478.9 375.1L483.5 372.3L488.5 369.7L493.4 367.3L498.1 365.3L502.6 363.5L507.7 361.8L512.6 360.3L517.2 359.2L522 358.2L527 357.4L531.9 356.9L536.5 356.6L541.3 356.5L546.4 356.7L551.5 357.1L556.3 357.7L560.8 358.5L565.9 359.6L571.8 361.2L578.3 363.4L584.4 365.8L590.7 368.7L597.8 372.4L604.2 376.2L608.4 379.1L612.6 382.5L617.9 387.4L622.2 391.8L626.4 396.6L630.7 401.9L636 409.2L640.2 415.6L644.5 422.4L648.7 429.7L645.3 428.2L641.8 427.1L638.4 426.1L634.9 425.4L631.4 424.9L627.8 424.7L624.2 424.8L620.6 425.1L617 425.6L613.4 426.4L609.7 427.5L606 428.8L602.3 430.4L598.5 432.2L592.2 435.8L588.4 438.4L584.6 441.1L578.3 446.4L570.6 453.6L564.1 460.5L558.9 466.5L555 471.3L547.2 481.6L539.3 493.1Z" fill="#00ab00"/>
<path d="M423.4 431.4L423.9 429.1L427.6 423.8L435 414L441.2 406.5L448.7 398.5L454.9 392.6L461.1 387.4L469 381.5L476.6 376.5L484.9 371.6L492.7 367.7L500.4 364.3L508.3 361.6L516.2 359.4L524.2 357.8L532.1 356.9L540.5 356.5L548.9 356.9L557 357.8L565.1 359.4L573.3 361.7L581.4 364.6L589.6 368.2L597.8 372.4L605.2 376.9L608.4 379.1L611.6 381.6L616.9 386.3L622.2 391.8L627.5 397.9L632.8 404.8L638.1 412.4L643.4 420.7L648.7 429.7L645.3 428.2L641.9 427.1L638.4 426.1L634.9 425.4L631.4 424.9L627.9 424.7L621.9 424.9L618.3 425.4L614.7 426.1L608.6 427.8L604.9 429.2L601.2 430.8L595 434.2L591.2 436.5L587.4 439.1L581.1 444L573.4 450.8L567 457.3L559.3 466L552.8 474.1L545 484.7L538.5 494.4L530.8 494.1L524.2 493.7L517.7 493.1L508.9 491.9L503.6 482.5L497.2 472.1L490.8 462.8L484.6 454.5L478.3 447.3L472.2 441.3L466.1 436.2L463.1 434.1L460.1 432.3L456.1 430.2L451.2 428.3L447.4 427.3L442.6 426.6L437.9 426.7L433.3 427.4L428.7 428.9L426 430Z" fill="#10e300"/>
<path d="M430.3 422.6L431.7 418.2L434.2 415.1L437.8 410.5L442.7 404.8L446.4 400.9L451.3 395.9L457.5 390.4L464.9 384.5L473.1 378.7L481.4 373.5L489.1 369.4L496.9 365.8L504.7 362.8L512.6 360.3L520.5 358.5L528.5 357.2L536.2 356.6L543.9 356.6L551.9 357.1L560 358.3L567.5 360L575.5 362.4L583.3 365.4L591.1 368.9L599.3 373.2L606.3 377.6L611.6 381.6L616.9 386.3L622.2 391.8L627.5 397.9L632.8 404.8L638.1 412.4L643.4 420.7L648.7 429.7L643 427.4L637.3 425.9L631.4 424.9L625.5 424.7L619.5 425.2L613.5 426.4L607.4 428.3L601.2 430.8L597.5 432.7L593.7 434.9L587.4 439.1L579.8 445L573.4 450.8L565.7 458.7L559.3 466L552.8 474.1L546.3 482.9L537.6 482.8L528.3 482.4L519.2 481.6L510.1 480.5L501.5 479L497.2 472.2L493 465.8L488.8 460L484.6 454.6L480.4 449.7L476.3 445.2L472.2 441.3L468.1 437.8L463.1 434.1L458.1 431.2L453.2 429L448.3 427.5L443.5 426.7L438.8 426.6L434.2 427.2L429.6 428.5L429.8 425.3Z" fill="#6ef905"/>
<path d="M437.4 415.3L438.1 412.8L438.8 410.9L441 406.8L446.9 400.3L454 393.4L461.1 387.4L469 381.5L477.1 376.1L485 371.5L492.7 367.7L500.4 364.3L507.7 361.8L515.5 359.6L523.3 358L530.7 357L537.9 356.6L545.6 356.6L553.2 357.3L560.8 358.5L568.4 360.3L576.2 362.7L583.7 365.5L591.5 369.1L599.6 373.4L606.3 377.6L611.7 381.7L617.1 386.5L622.5 392.1L626.8 397L632.2 403.9L636.5 410L641.9 418.2L646.2 425.3L645.6 428.4L639.9 426.5L635.2 425.5L630.5 424.9L625.8 424.7L619.8 425.2L614.9 426L610 427.4L605.1 429.1L598.9 432L592.6 435.6L586.3 439.9L579.9 445L573.5 450.8L567 457.3L560.6 464.5L555.4 470.8L543.7 471.1L532.1 470.9L523.5 470.2L512.3 468.9L501.4 467L492.4 464.9L486.1 456.4L483 452.6L478.8 447.9L475.7 444.7L471.7 440.8L468.6 438.2L464.6 435.1L461.6 433.2L457.6 430.9L454.7 429.6L450.8 428.1L447.9 427.4L444.1 426.7L441.2 426.6L437.5 426.7L436.8 423.1L436.7 420.5L436.9 417.9Z" fill="#dbfb09"/>
<path d="M445 408.1L446.4 404L448.5 400L450 397.8L451.8 395.7L453.3 394.1L455.5 392L462.2 386.5L471.1 380.1L479.4 374.8L487.6 370.2L494.8 366.7L501.9 363.8L509 361.4L516.2 359.4L523.3 358L530.2 357.1L537.2 356.6L544.5 356.6L551.9 357.1L559.2 358.2L566.6 359.8L574 361.9L581.4 364.6L588.9 367.8L596.3 371.6L603.1 375.5L608.5 379.2L613.8 383.5L619.1 388.6L623.4 393.1L629.9 400.9L636.3 409.7L638.4 412.9L638.5 414.9L638.2 418.4L637.6 420.8L636.7 423.2L635.6 425.5L631 424.9L627.4 424.7L622.7 424.9L619.1 425.3L614.2 426.2L610.6 427.2L605.7 428.9L602 430.5L597 433L593.3 435.2L588.2 438.5L584.4 441.3L579.4 445.4L575.5 448.8L570.4 453.8L566.6 457.8L559.4 458.5L551.5 458.9L543.5 459.1L535.5 459L527.6 458.5L519.7 457.7L512 456.7L504.5 455.3L497.3 453.7L490.3 451.8L483.8 449.7L478.7 447.7L475.6 444.5L471.6 440.7L468.6 438.2L464.6 435.1L461.6 433.2L457.7 431L453.8 429.2L450 427.9L447.8 424.6L446.6 422.3L445.7 419.9L445 417.5L444.6 415.2L444.5 412.8L444.6 410.4Z" fill="#ffc800"/>
<path d="M453.5 400.8L454.1 398.7L454.9 396.6L456.9 393L459.5 389.5L463.4 385.8L468.3 382L476.2 376.7L483.2 372.5L490.5 368.7L497.2 365.6L504 363L511.2 360.7L517.6 359.1L524.2 357.8L531 357L537.9 356.6L544.5 356.6L551.5 357.1L558.5 358.1L565.9 359.6L572.5 361.5L579.9 364L586.6 366.8L593.9 370.3L600.7 374.1L606.3 377.6L611.6 381.6L617.9 387.4L623.2 392.9L628.5 399.2L629.5 402.6L629.9 404.8L629.9 406.9L629.6 410.1L629.1 412.3L628.3 414.4L627.2 416.5L626 418.6L624.4 420.7L622.7 422.7L620.2 425.1L615.4 425.9L610.5 427.2L605.7 428.9L602 430.5L597 433L592.1 435.9L587.1 439.3L583.3 442.2L578.5 443.3L571.8 444.5L560.2 445.9L548.2 446.6L536.1 446.6L528.9 446.2L519.4 445.2L510.2 443.8L501.3 441.9L495 440.2L487.1 437.6L479.9 434.6L473.4 431.3L469.1 428.6L464.1 424.9L460 420.9L458.3 418.9L456.8 416.8L455 413.6L454.2 411.5L453.6 409.3L453.2 407.2L453 405L453.1 402.9Z" fill="#ff5f00"/>
<path d="M463 393.5L463.5 391.6L464.2 389.7L465.9 386.6L468.3 383.5L471.7 380.2L475.8 377L480.6 374L487 370.5L493.7 367.2L499.9 364.6L506.1 362.3L512.6 360.3L519 358.8L525 357.7L531.4 356.9L537.9 356.6L543.9 356.6L550.7 357L557.5 357.9L564.2 359.2L570.9 361L577.5 363.1L584.1 365.7L590.7 368.7L597.2 372.1L603.1 375.5L608.2 379L611.5 381.5L614.8 385L617.4 388.5L619.1 391.8L620 395.1L620.3 397L620.3 398.9L620.2 400.8L619.8 402.7L619.2 404.6L618.3 406.4L616 410.1L613.7 412.8L609.9 416.2L605.4 419.4L600 422.4L595.5 424.5L589 427L581.9 429.1L574.4 430.9L568.4 431.9L560.2 433L551.7 433.6L545.3 433.9L536.7 433.8L530.3 433.4L521.9 432.6L513.7 431.3L505.8 429.7L500.3 428.2L493.2 425.9L486.8 423.3L481 420.4L477.1 418L472.6 414.7L468.9 411.2L466.1 407.6L464.5 404.8L463.7 402.9L463.1 401L462.8 399.1L462.6 397.2L462.7 395.3Z" fill="#e51800"/>
<path d="M473.9 386.1L474.6 383.8L476.2 380.7L478.4 377.6L481.3 374.8L483.9 372.7L487.9 370.2L491.8 368.1L497.2 365.6L503.3 363.3L509 361.4L514.7 359.8L520.5 358.5L526.3 357.5L532.1 356.9L537.9 356.6L543.9 356.6L549.8 356.9L555.8 357.6L562.2 358.8L568.1 360.2L574 361.9L580 364L585.9 366.5L592 369.3L596.3 371.8L600.1 374.5L603.3 377.4L605.3 379.6L607.3 382.7L608.4 385.1L609.2 388.3L609.3 390.7L608.7 394L607.5 397.2L605.4 400.3L603.4 402.6L600.2 405.5L596.2 408.2L591.6 410.7L587.8 412.5L582.2 414.6L576.1 416.4L569.6 417.8L564.5 418.8L557.5 419.7L550.2 420.2L544.8 420.4L537.4 420.3L531.9 420L524.7 419.3L517.7 418.2L511 416.9L506.2 415.6L500.2 413.7L494.7 411.5L489.7 409L486.3 407L482.5 404.2L479.2 401.3L476.7 398.2L475.3 395.8L474.1 392.6L473.7 389.4Z" fill="#b70100"/>
<path d="M487.3 378.9L487.8 377L489 374.5L490.3 372.7L492.4 370.3L494.4 368.7L497.4 366.6L501 364.7L504.9 362.9L509.2 361.3L513.4 360.1L519 358.8L524.1 357.8L529.2 357.2L533.6 356.8L538.7 356.5L543.8 356.6L548.9 356.9L554.1 357.4L559.1 358.2L563.7 359.1L568.4 360.3L572.8 361.6L577.2 363.2L581.2 364.9L584.8 366.9L588 369L590.6 371.3L592.3 373L594 375.5L595 377.4L595.7 379.9L595.8 381.9L595.5 384.4L594.6 387L593.1 389.5L591.6 391.3L589.1 393.6L586 395.8L582.5 397.8L579.5 399.2L575.1 400.9L570.3 402.4L565.2 403.6L561.2 404.4L555.6 405.2L549.9 405.7L544.1 405.9L539.7 405.9L535.3 405.7L529.6 405.2L523.9 404.5L518.5 403.4L514.6 402.5L509.7 401L505.2 399.4L501.1 397.5L498.3 395.9L495 393.8L492.3 391.5L490.1 389L488.5 386.5L487.5 384L487.1 381.4Z" fill="#900000"/>
<path d="M461.3 387.2L467.6 382.5L473.8 378.2L480.1 374.4L486.7 370.6L493.4 367.3L499.7 364.6L506.1 362.3L512.6 360.3L519.1 358.8L525.6 357.6L532.1 356.9L538.7 356.5L545.3 356.6L551.5 357.1L557.8 357.9L564.2 359.2L570.3 360.8L576.7 362.8L582.9 365.2L589 367.9L596.3 371.6L602.8 375.3L607.4 378.3L611.6 381.6L616.9 386.3L621.1 390.6L626.4 396.6L630.7 401.9L636 409.2L640.2 415.6L648.7 429.7L644.1 427.8L640.7 426.7L633.6 425.2L628.9 424.8L625.3 424.7L618.1 425.4L613.2 426.5L609.5 427.5L602 430.5L594.5 434.5L586.8 439.5L577.9 446.7L570.1 454.1L562.3 462.5L554.5 471.9L546.6 482.4L538.7 494L530.8 506.5L523 520.1L516.4 506.4L509.9 493.8L503.4 482.2L497 471.7L490.6 462.4L484.2 454.1L477.9 446.9L470.7 439.9L464.6 435.1L458.5 431.4L452.6 428.7L449.6 427.8L445.7 427L440 426.6L437.2 426.8L433.4 427.4L427.9 429.2L425.2 430.5L421.6 432.5L431.5 418.6L441.3 406.4L446.3 401L451.2 396L456.2 391.5Z" fill="url(#shd)"/>
<path d="M523 520.1L517.5 508.6L510.7 495.3L504 483.1L497.2 472.2L490.6 462.4L484 453.8L477.4 446.4L474.2 443.1L470.9 440.2L468.4 438L464.6 435.1L462 433.4L458.3 431.3L455.8 430L452.1 428.6L449.6 427.8L446 427L443.6 426.7L440 426.6L437.6 426.7L434.1 427.2L431.8 427.8L428.4 429L425 430.6L421.6 432.5M523 520.1L531.2 506L539.4 493L547.6 481.1L555.8 470.3L564 460.6L572.1 452.1L576.1 448.3L580.1 444.8L584.1 441.5L588.1 438.6L591.3 436.4L596 433.5L600 431.4L603.9 429.6L607.8 428.1L611.6 426.9L615.5 425.9L619.3 425.2L623.1 424.8L626.8 424.7L630.5 424.9L634.2 425.3L637.9 426L641.5 427L645.1 428.2L648.7 429.7M529.9 508.2L524.4 496.8L517.6 483.6L510.8 471.5L504.1 460.7L497.4 451.1L490.8 442.6L484.2 435.4L481 432.2L477.7 429.3L475.2 427.2L471.3 424.5L468.8 422.8L465 420.8L462.5 419.6L458.8 418.2L456.3 417.5L452.6 416.8L450.2 416.6L446.6 416.6L444.2 416.8L440.7 417.4L438.4 418.1L434.9 419.4L431.5 421.1L428.1 423.1M517.2 508L525.4 494L533.6 481.1L541.8 469.4L550 458.7L558.2 449.2L566.3 440.9L570.3 437.1L574.4 433.7L578.4 430.5L582.4 427.6L585.5 425.5L590.3 422.7L594.2 420.7L598.1 419L602 417.6L605.9 416.4L609.7 415.5L613.5 414.9L617.3 414.6L621.1 414.6L624.8 414.8L628.5 415.3L632.2 416.1L635.8 417.2L639.4 418.5L643 420M536.8 497L531.3 485.7L524.5 472.6L517.7 460.7L511 450L504.3 440.5L497.6 432.3L491.1 425.2L487.8 422.1L484.5 419.3L482 417.3L478.1 414.6L475.5 413L471.7 411.1L469.2 410L465.5 408.7L463 408.1L459.3 407.5L456.9 407.3L453.3 407.4L450.9 407.7L447.3 408.4L445 409.1L441.5 410.5L438.1 412.3L434.7 414.5M511.5 496.8L519.7 482.9L527.9 470.1L536.1 458.5L544.3 448L552.4 438.7L560.5 430.5L564.6 426.8L568.6 423.4L572.6 420.3L576.6 417.5L579.8 415.5L584.5 412.8L588.5 410.9L592.4 409.2L596.3 407.9L600.1 406.8L604 406L607.8 405.5L611.6 405.2L615.4 405.3L619.1 405.6L622.8 406.2L626.5 407L630.1 408.2L633.8 409.6L637.3 411.2M543.7 486.6L538.3 475.4L531.4 462.4L524.6 450.7L517.9 440.2L511.2 430.8L504.5 422.7L497.9 415.8L494.6 412.8L491.3 410L488.7 408.1L484.9 405.5L482.3 404L478.5 402.1L476 401.1L472.2 399.9L469.7 399.4L466 398.9L463.6 398.8L459.9 399L457.5 399.3L453.9 400.2L451.6 401L448.1 402.4L444.6 404.3L441.2 406.6M505.8 486.3L514 472.6L522.2 460L530.4 448.5L538.5 438.1L546.7 428.9L554.8 420.9L558.8 417.3L562.8 414L566.9 411L570.9 408.3L574 406.3L578.8 403.7L582.7 401.9L586.6 400.3L590.5 399L594.4 398L598.3 397.3L602.1 396.9L605.9 396.7L609.6 396.8L613.4 397.2L617.1 397.9L620.8 398.8L624.4 400L628.1 401.5L631.7 403.2M550.6 477L545.2 465.9L538.3 453.1L531.5 441.5L524.7 431.1L518 421.9L511.3 413.9L504.7 407.2L501.4 404.2L498.1 401.6L495.5 399.7L491.7 397.2L489.1 395.8L485.3 394L482.7 393.1L478.9 392L476.4 391.5L472.7 391.1L470.3 391.1L466.6 391.4L464.2 391.8L460.6 392.7L458.2 393.6L454.7 395.1L451.2 397.1L447.7 399.5M500.1 476.8L506.7 465.8L514.8 453.1L523 441.5L531.2 431.1L539.3 421.8L547.4 413.7L551.5 410L555.5 406.7L559.5 403.7L563.5 400.9L566.7 398.9L571.5 396.3L574.6 394.7L579.3 392.8L582.5 391.7L587.1 390.4L590.2 389.8L594.8 389.2L597.9 389L602.4 389.1L605.4 389.4L609.9 390.1L612.9 390.8L617.3 392.2L621.6 393.9L626 396.1M557.5 468.2L552 457.2L545.2 444.5L538.4 433.1L531.6 422.9L524.9 413.8L518.2 406L514.8 402.6L511.5 399.4L508.2 396.5L504.9 394L502.3 392.1L498.4 389.8L495.9 388.4L492 386.7L489.5 385.8L485.7 384.8L483.2 384.4L479.4 384.1L476.9 384.1L473.3 384.5L470.8 385L467.2 386L464.8 386.9L461.3 388.6L457.8 390.7L454.3 393.1M494.5 468L501 457.2L509.2 444.6L517.3 433.2L525.5 422.9L533.6 413.8L537.7 409.6L541.7 405.8L545.8 402.2L549.8 399L553.8 396L557.8 393.3L561 391.4L565.7 388.8L568.9 387.4L573.6 385.5L576.7 384.5L581.4 383.3L584.5 382.7L589.1 382.2L592.2 382.1L596.7 382.3L599.7 382.6L604.2 383.4L607.2 384.2L611.6 385.7L616 387.5L620.3 389.7M564.4 460.2L558.9 449.3L552.1 436.8L545.2 425.5L538.5 415.4L531.7 406.6L525 398.9L521.7 395.5L518.3 392.4L515 389.7L511.7 387.2L509.1 385.4L505.2 383.1L502.6 381.8L498.8 380.2L496.2 379.4L492.4 378.5L489.9 378.1L486.1 377.9L483.6 378L479.9 378.5L477.5 379L473.8 380.1L471.4 381.1L467.9 382.9L464.3 385L460.9 387.6M488.9 460.1L495.4 449.4L503.5 437L511.7 425.7L519.8 415.6L528 406.6L532 402.5L536 398.8L540.1 395.3L544.1 392.1L548.1 389.2L552.1 386.6L555.3 384.7L560 382.3L563.2 380.9L567.9 379.1L571 378.1L575.7 377L578.8 376.5L583.4 376.1L586.4 376.1L591 376.3L594 376.7L598.5 377.6L601.5 378.4L605.9 380L610.3 381.9L614.6 384.2M571.2 453L565.7 442.2L558.9 429.9L552.1 418.8L545.3 408.8L539.2 400.9L532.5 393.3L526.4 387.5L523.1 384.6L519.8 382.1L516.5 379.9L513.3 378L510.7 376.6L507.4 375.2L504.2 374.1L501 373.3L497.8 372.8L494.7 372.6L491.5 372.6L488.4 372.9L485.3 373.5L482.3 374.4L479.3 375.5L476.2 377L473.3 378.6L470.7 380.3M483.3 453L489.8 442.4L498 430.2L506.1 419.1L514.2 409.1L522.3 400.3L526.4 396.3L530.4 392.6L534.4 389.2L538.4 386.1L542.4 383.3L546.4 380.8L549.6 378.9L554.3 376.6L557.5 375.2L562.2 373.5L565.3 372.6L570 371.6L573.1 371.2L577.7 370.8L580.8 370.8L585.3 371.2L588.3 371.6L592.8 372.6L595.8 373.5L600.2 375.1L604.6 377.1L608.9 379.5M578 446.6L572.5 436L565.7 423.8L559.5 413.9L553.4 404.9L547.3 396.9L541.2 389.9L535.2 383.9L531.9 381L528.5 378.3L522.6 374.4L520 372.9L516.7 371.3L514.1 370.3L510.9 369.3L507.7 368.5L504.5 368.1L499.4 368L496.9 368.2L493.2 368.8L490.7 369.5L487.1 370.8L484.6 371.8L481.2 373.7M477.8 446.8L484.3 436.3L492.4 424.2L500.5 413.3L508.6 403.5L516.7 394.8L520.7 390.9L524.8 387.3L528.8 384L532.8 380.9L536.8 378.2L540.8 375.8L544 374L548.7 371.7L551.9 370.4L556.6 368.8L559.7 368L564.3 367.1L567.4 366.7L572 366.4L575.1 366.5L579.6 366.9L582.7 367.4L587.2 368.4L590.1 369.4L594.5 371.1L598.9 373.2L603.3 375.6M584.8 441.1L579.3 430.6L573.8 420.8L568.4 411.9L561.5 401.8L555.4 393.7L549.3 386.6L543.3 380.5L537.3 375.4L532 371.7L529.3 370.1L526 368.3L523.4 367.2L520.2 366L517.6 365.3L514.3 364.6L511.1 364.2L508.6 364.1L503.6 364.4L501.1 364.9L498 365.7L494.9 366.7L491.9 368.1M472.4 441.4L478.8 431.1L486.9 419.2L494.2 409.4L502.3 399.6L509.5 391.8L513.6 387.9L517.6 384.2L524.8 378.4L528.8 375.5L532.8 373L539.9 369.1L543.1 367.7L547.8 365.9L550.9 364.9L555.6 363.8L558.7 363.3L563.3 362.9L569.5 362.9L572.5 363.2L577 364L580 364.7L584.5 366.1L587.4 367.2L591.7 369.2M591.5 436.3L586 426L580.5 416.4L575.1 407.5L568.9 398.5L563.5 391.3L557.4 384.2L552 378.6L546.6 373.8L541.3 369.8L536 366.6L533.3 365.2L530.1 363.8L527.5 362.9L524.2 362L519.1 361.2L513.9 361.1L511.4 361.3L508.3 361.9L505.1 362.7L502.6 363.5M467 436.9L473.4 426.7L479.9 417.2L486.3 408.4L494.4 398.4L501.6 390.5L508.9 383.4L516.1 377.3L523.3 372.1L529.6 368.3L532.8 366.6L537.5 364.5L543.8 362.4L547.7 361.4L551.6 360.6L554.7 360.3L558.5 360.1L562.3 360.1L565.4 360.4L568.4 360.8L572.9 361.7L579.2 363.7M598.1 432.4L592.6 422.2L587.2 412.7L582.4 405L576.9 397L572.2 390.6L566.1 383.3L560.7 377.6L555.3 372.6L550.6 368.9L545.3 365.4L540 362.6L537.3 361.5L534.1 360.4L529.5 359.4L526.9 359L523.7 358.8L521.2 358.8L518 359.2L513.5 360.1M461.6 433.2L468 423.1L474.5 413.7L480.9 405.1L488.1 396.2L494.6 389.1L501.8 382L508.2 376.5L514.6 371.7L520.9 367.6L527.3 364.2L530.4 362.8L534.3 361.3L537.5 360.3L541.4 359.4L547.6 358.4L553.7 358.1L559.8 358.5L562.8 359L566.6 359.8M604.7 429.3L600.6 421.6L595.1 412.1L589.7 403.3L584.2 395.3L579.5 389L574 382.4L569.3 377.3L563.9 372.2L559.2 368.3L553.8 364.7L549.2 362L543.9 359.8L538.7 358.2L534.1 357.5L529.6 357.3L524.4 357.8M456.4 430.3L461.2 422.8L467.6 413.4L474 404.7L480.4 396.7L486 390.3L492.4 383.7L498.8 377.8L505.2 372.7L510.7 368.8L517.1 365L523.4 361.9L529.6 359.6L535.9 358L542.1 357.1L548.2 356.9L553.8 357.4M611.2 427L607.1 419.4L601.7 410L596.9 402.4L592.1 395.4L588 389.9L582.6 383.2L578.5 378.6L573.1 373.2L568.4 369.1L563.7 365.6L559 362.7L554.4 360.4L549.8 358.6L545.2 357.4L540.6 356.7L535.4 356.7M451.2 428.3L455.9 420.8L462.3 411.6L467.9 404L473.5 397L478.3 391.5L484.7 384.7L489.4 380.2L495.8 374.7L501.4 370.5L506.9 366.8L512.4 363.7L517.9 361.2L523.4 359.2L528.9 357.8L535.1 356.8L540.9 356.5M617.7 425.5L613.6 418L609.5 411L605.4 404.4L600 396.3L595.9 390.7L591.8 385.5L587.1 380L582.3 375.1L578.3 371.4L573.5 367.6L569.5 364.8L564.8 362L560.9 360.1L555.6 358.2L551.6 357.3L546.5 356.7M446 427L450.8 419.7L455.5 412.8L460.3 406.3L466.7 398.2L471.4 392.6L476.2 387.4L481.8 381.9L487.3 376.9L492.1 373.1L497.6 369.2L502.4 366.2L507.9 363.3L512.6 361.3L518 359.4L523.5 358L527.9 357.3M624 424.8L620 417.4L615.9 410.5L611.8 404L607.7 397.9L603.7 392.3L599.6 387.1L595.5 382.3L591.4 377.9L587.4 374L583.3 370.5L579.3 367.4L574.6 364.3L569.9 361.8L565.9 360.1L562 358.9L557.7 357.9M441 426.6L449.7 413.6L453.6 408.2L459.2 401.1L463.1 396.3L467.9 391L472.6 386L478.2 380.8L482.1 377.3L486.9 373.6L491.6 370.3L496.3 367.4L501 364.8L505.7 362.7L510.4 361L514.8 359.8M630.3 424.9L622.9 411.9L615.4 400.3L612 395.6L607.9 390.2L604.5 386.1L599.8 380.8L596.4 377.4L592.4 373.7L588.3 370.4L584.3 367.5L580.3 365.1L576.3 363.1L572.3 361.4L568.9 360.4M436 426.9L443.9 415.3L448.6 408.8L452.5 403.8L460.4 394.5L464.4 390.2L469.1 385.5L473 381.9L477 378.5L480.9 375.5L485.6 372.2L489.6 369.7L493.5 367.5L497.4 365.6L501.6 363.9M636.5 425.7L629.8 414L623 403.5L616.2 394.2L612.2 389.1L608.8 385.3L605.4 381.7L602 378.4L598.6 375.4L594.6 372.2L591.2 369.8L587.2 367.4L583.9 365.7L580.2 364.1M431.1 428L437.4 418.8L445.2 408.2L452.3 399.6L459.3 391.9L466.4 385.2L473.5 379.3L480.5 374.3L484.4 371.9L488.3 369.8M642.7 427.3L637.3 418L630.5 407.4L623.7 398L617 389.8L610.9 383.3L607.5 380.2L604.1 377.3L598.1 372.9L594.7 370.8L591.4 369.1M426.3 429.9L432.5 420.8L438.8 412.4L444.2 405.6L450.5 398.5L456 392.9L463 386.4L469.3 381.4L475 377.4M648.7 429.7L643.3 420.5L637.9 412.1L632.5 404.4L625.8 395.8L620.3 389.8L614.3 383.9L608.2 379L602.7 375.3M421.6 432.5L426.3 425.7L430.9 419.3L435.6 413.3L441.8 405.9L446.4 400.8L451.1 396.1L456.6 391.1L461.7 386.9" fill="none" stroke="#0a0a0a" stroke-width="1.05" stroke-linejoin="round"/>
<circle cx="491.7" cy="363.6" r="2.2" fill="none" stroke="#2424c8" stroke-width="1.05" opacity="0.9"/>
<circle cx="542.6" cy="356.1" r="2.2" fill="none" stroke="#2424c8" stroke-width="1.05" opacity="0.9"/>
<circle cx="534.4" cy="366.7" r="2.2" fill="none" stroke="#2424c8" stroke-width="1.05" opacity="0.9"/>
<circle cx="586.4" cy="365.4" r="2.2" fill="none" stroke="#2424c8" stroke-width="1.05" opacity="0.9"/>
<circle cx="631.1" cy="396.8" r="2.2" fill="none" stroke="#2424c8" stroke-width="1.05" opacity="0.9"/>
<circle cx="525.1" cy="488.3" r="2.2" fill="none" stroke="#2424c8" stroke-width="1.05" opacity="0.9"/>
<g fill="#111" stroke="#111" stroke-width="0.32"><text transform="matrix(1.000 -0.340 0.000 1.000 418.7 471.8)" font-size="12.1" text-anchor="end">0.0</text><text transform="matrix(1.000 -0.340 0.000 1.000 418.1 457.3)" font-size="12.1" text-anchor="end">0.2</text><text transform="matrix(1.000 -0.340 0.000 1.000 417.5 442.6)" font-size="12.1" text-anchor="end">0.4</text><text transform="matrix(1.000 -0.340 0.000 1.000 416.9 427.7)" font-size="12.1" text-anchor="end">0.6</text><text transform="matrix(1.000 -0.340 0.000 1.000 416.2 412.7)" font-size="12.1" text-anchor="end">0.8</text><text transform="matrix(1.000 -0.340 0.000 1.000 415.6 397.4)" font-size="12.1" text-anchor="end">1.0</text><text transform="matrix(1.000 -0.340 0.000 1.000 414.9 382)" font-size="12.1" text-anchor="end">1.2</text><text transform="matrix(1.000 -0.340 0.000 1.000 414.3 366.4)" font-size="12.1" text-anchor="end">1.4</text><text transform="matrix(1.000 -0.340 0.000 1.000 413.6 350.7)" font-size="12.1" text-anchor="end">1.6</text><text transform="matrix(0.721 0.538 -0.892 0.451 527.9 558.9)" font-size="11.6" text-anchor="start" y="3.4">4</text><text transform="matrix(0.728 0.529 -0.892 0.451 549.4 548.1)" font-size="11.6" text-anchor="start" y="3.4">6</text><text transform="matrix(0.734 0.520 -0.892 0.451 570.5 537.4)" font-size="11.6" text-anchor="start" y="3.4">8</text><text transform="matrix(0.740 0.512 -0.892 0.451 591.1 527)" font-size="11.6" text-anchor="start" y="3.4">10</text><text transform="matrix(0.746 0.503 -0.892 0.451 611.4 516.7)" font-size="11.6" text-anchor="start" y="3.4">12</text><text transform="matrix(0.752 0.495 -0.892 0.451 631.2 506.7)" font-size="11.6" text-anchor="start" y="3.4">14</text><text transform="matrix(0.757 0.487 -0.892 0.451 650.7 496.8)" font-size="11.6" text-anchor="start" y="3.4">16</text><text transform="matrix(0.893 -0.449 0.719 0.541 517.2 558.3)" font-size="11.6" text-anchor="end" y="3.4">4</text><text transform="matrix(0.897 -0.442 0.719 0.541 499.6 545.1)" font-size="11.6" text-anchor="end" y="3.4">6</text><text transform="matrix(0.901 -0.435 0.719 0.541 482.4 532.2)" font-size="11.6" text-anchor="end" y="3.4">8</text><text transform="matrix(0.904 -0.428 0.719 0.541 465.7 519.6)" font-size="11.6" text-anchor="end" y="3.4">10</text><text transform="matrix(0.907 -0.421 0.719 0.541 449.4 507.3)" font-size="11.6" text-anchor="end" y="3.4">12</text><text transform="matrix(0.910 -0.415 0.719 0.541 433.5 495.4)" font-size="11.6" text-anchor="end" y="3.4">14</text><text transform="matrix(0.913 -0.408 0.719 0.541 418 483.7)" font-size="11.6" text-anchor="end" y="3.4">16</text><text transform="matrix(0.887 -0.462 0.740 0.512 615 545.4)" font-size="15" text-anchor="middle">Yeast extract (g/L)</text><text transform="matrix(0.710 0.554 -0.904 0.428 436.6 534.6)" font-size="15" text-anchor="middle">NaCl (g/L)</text><text transform="matrix(0.080 1.000 -1.000 0.000 381.2 427.9)" font-size="14.5" text-anchor="middle" font-weight="bold">Protease activity</text><text transform="matrix(0.080 1.000 -1.000 0.000 367.2 429.8)" font-size="14.5" text-anchor="middle" font-weight="bold">(U/mL)</text></g>
</g>
<g id="pe" clip-path="url(#cle)">
<path d="M86.2 766.4L205.8 712.9L206.4 582.2L80.5 630.8Z" fill="#fff"/>
<path d="M308.3 778.8L205.8 712.9L206.4 582.2L314.5 641.6Z" fill="#fff"/>
<path d="M86.2 766.4L80.5 630.8M107 757L102.5 622.3M127.5 747.9L124.1 614M147.6 738.9L145.3 605.8M167.3 730L166 597.8M186.7 721.4L186.4 589.9M205.8 712.9L206.4 582.2M308.3 778.8L314.5 641.6M292.7 768.8L298.1 632.6M277.5 759L282 623.7M262.5 749.4L266.2 615.1M247.9 740L250.8 606.6M233.6 730.8L235.7 598.3M219.5 721.7L220.9 590.2M205.8 712.9L206.4 582.2M85.6 752L205.8 699L308.9 764.3M85 737.5L205.9 684.9L309.6 749.6M84.3 722.8L206 670.7L310.3 734.7M83.7 707.9L206 656.4L311 719.7M83.1 692.8L206.1 641.9L311.7 704.4M82.4 677.6L206.2 627.2L312.4 689M81.8 662.2L206.3 612.4L313.1 673.4M81.1 646.6L206.3 597.4L313.8 657.6M80.5 630.8L206.4 582.2L314.5 641.6M86.2 766.4L205.8 712.9L308.3 778.8" fill="none" stroke="#d9d9de" stroke-width="0.8"/>
<path d="M185.6 840.5L308.3 778.8L205.8 712.9L86.2 766.4Z" fill="#00782e"/>
<path d="M92.9 771.4L94.8 766.2L96.8 761.6L205.8 712.9L308.3 778.8L185.6 840.5Z" fill="#009e08"/>
<path d="M96.4 774L99.1 766.3L102.3 759.1L205.8 712.9L308 778.7L307.9 779L185.6 840.5Z" fill="#00ca00"/>
<path d="M100.2 776.9L101.4 772.6L103.5 766.4L105.2 762.3L108.2 756.5L205.8 712.9L304.2 776.2L302.2 781.8L185.6 840.5Z" fill="#23eb00"/>
<path d="M104.4 780L106.1 772.3L108.1 766.4L110.7 760.6L114.5 753.7L205.8 712.9L300.1 773.6L298.4 779.3L296.1 785L185.6 840.5Z" fill="#6ef905"/>
<path d="M109.1 783.4L109.5 779.6L110.2 775.9L111.1 772.1L113 766.5L114.6 762.8L116.3 759.1L118.3 755.5L121.6 750.5L205.8 712.9L295.8 770.8L294.8 775L292.8 780.6L291.2 784.4L289.1 788.5L185.6 840.5Z" fill="#c9f90d"/>
<path d="M114.4 787.5L114.5 782.5L115.2 777.2L116.4 771.9L118.2 766.6L120.4 761.4L123.1 756.2L126.3 751.2L129.5 747L205.8 712.9L291.2 767.9L290.6 771L289.6 774.6L287.7 779.9L286.2 783.4L284.4 787L281 792.5L186.2 840.2L185.1 840.2Z" fill="#ffff00"/>
<path d="M120.9 792.3L120.3 786.5L120.3 783.2L120.5 779.9L121 776.6L121.6 773.3L122.5 770L123.7 766.7L125 763.4L126.5 760.2L130.2 753.8L134.6 747.7L138.9 742.8L205.8 712.9L286.1 764.6L285.4 769.1L284.6 772.5L283 777.5L281.6 780.8L279.1 785.7L277.2 789L273.9 793.9L271 797.6L197.1 834.7L191.6 835.1L187 835.3L182.5 835.2L178 834.9Z" fill="#ffac00"/>
<path d="M168.7 828L129.5 798.7L128.4 795.5L127.2 791.1L126.8 788.1L126.5 785.1L126.5 782.1L126.9 777.5L127.4 774.4L128.1 771.3L129 768.3L130.8 763.7L132.2 760.7L134.6 756.3L136.5 753.4L139.6 749.2L141.9 746.4L145.6 742.4L151.3 737.2L203 714.1L206.8 713.6L280.4 760.9L280 766L279.5 769.1L278.7 772.1L276.5 778.3L273.6 784.4L269.8 790.4L266.4 794.8L261.3 800.5L256.6 804.8L212.4 827.1L207.5 828.1L201.1 829.1L194.7 829.8L190.5 830L186.3 830L180.1 829.7L174.1 829Z" fill="#ff5f00"/>
<path d="M171.5 822.4L164.8 820.5L161.7 819.4L157.2 817.3L154.3 815.8L150.4 813.3L147.9 811.4L144.6 808.5L142.6 806.3L140 803L138.4 800.6L136.5 796.9L135.5 794.4L134.3 790.4L133.8 787.7L133.3 783.6L133.3 780.9L133.6 776.7L134 773.9L135 769.7L136 766.9L137.7 762.7L139 760L141.4 755.9L143.2 753.3L146.1 749.5L148.2 747L151.7 743.4L154.2 741.1L158.2 737.8L160.9 735.7L165.3 732.8L169.8 730L176.2 726.8L181.1 724.6L187.9 722.1L193 720.6L200 719L206.9 717.9L212.9 717.4L273.8 756.7L274 760.6L273.8 763.4L273.3 767.6L272.7 770.4L271.4 774.6L270.3 777.4L268.3 781.6L266.7 784.4L264 788.4L262 791.1L258.7 795L256.2 797.6L252.3 801.2L249.4 803.6L244.9 806.9L241.8 809L236.8 812L233.4 813.8L228 816.3L224.4 817.7L218.8 819.7L214.9 820.8L207.2 822.6L201.4 823.6L197.5 824L189.8 824.4L186 824.3L180.4 823.9L176.8 823.4Z" fill="#ee2600"/>
<path d="M175.5 815.9L169.6 814.2L166.8 813.2L162.8 811.4L157.9 808.6L155.7 807.1L152.7 804.5L149.1 800.8L147.6 798.8L145.6 795.7L144.5 793.5L143.2 790.1L142.5 787.8L141.8 784.2L141.5 779.4L141.6 776.9L142.1 773.2L142.7 770.7L143.8 767L144.7 764.5L146.5 760.9L147.8 758.5L150.1 755L151.8 752.7L154.6 749.3L159.8 744.1L165.8 739.3L170.9 735.8L177.9 732L185.2 728.8L192.7 726.2L198.9 724.7L206.7 723.4L214.4 722.9L221.5 723L264.5 750.7L265.2 753.2L265.8 756.7L266 760.3L265.9 763.9L265.4 767.6L264.4 771.3L263.1 775L262.1 777.5L260.2 781.2L257.9 784.9L255.2 788.4L253.3 790.7L250.1 794.1L247.8 796.2L244.1 799.4L241.5 801.3L237.3 804.1L232.9 806.7L228.3 809L225.2 810.5L220.3 812.4L217 813.5L212 814.9L208.6 815.7L203.5 816.6L200 817.1L194.9 817.5L191.6 817.6L188.2 817.5L183.3 817.2L180.1 816.7Z" fill="#cf0800"/>
<path d="M180 808.4L175 807L170.3 805.2L166.1 803L164.1 801.7L161.4 799.6L158.3 796.6L155.7 793.2L153.6 789.6L152.8 787.7L151.9 784.8L151.1 780.7L151 776.6L151.4 772.4L151.9 770.3L152.8 767.1L154.5 762.9L157.4 757.9L160.3 754L164.5 749.3L168.3 745.9L173.5 741.9L178.1 739.1L184.1 736L189.2 733.9L195.7 731.9L201 730.6L207.7 729.6L214.2 729.3L220.7 729.6L226.8 730.5L231.5 731.7L237 733.7L241 735.7L245.5 738.7L248.6 741.5L251.3 744.6L252.9 747.1L254.3 749.7L255.4 752.5L256.2 755.4L256.7 758.3L256.9 761.4L256.7 764.5L256 768.7L255.1 771.9L253.9 775L252.3 778.2L250.5 781.3L248.3 784.3L245.8 787.2L243.1 790.1L240.1 792.8L236.9 795.4L233.4 797.8L229.8 800L225.9 802.1L222 803.9L217.9 805.5L213.6 806.8L209.4 808L205 808.8L200.7 809.4L196.4 809.8L192.1 809.8L188 809.6L183.9 809.1Z" fill="#ac0000"/>
<path d="M184.8 800.4L180.8 799.3L177 797.8L173.6 796.1L169.9 793.4L167.3 790.9L164.7 787.6L163.2 784.6L161.9 780.7L161.3 777.4L161.3 774.1L161.8 770.7L163 766.4L164.4 763.1L166.8 759L169.2 755.8L172.7 752.1L175.9 749.3L180.2 746.2L184 743.9L188.9 741.5L193.1 739.9L198.4 738.3L202.7 737.3L208.1 736.6L213.5 736.5L217.6 736.7L222.7 737.4L226.5 738.4L230.9 740L234.2 741.7L237.8 744.2L240.3 746.5L242.4 749L243.8 751L244.9 753.2L245.8 755.4L246.4 757.8L246.7 760.2L246.9 762.6L246.7 765.1L246.1 768.5L245.3 771.1L244.3 773.7L243 776.2L241.5 778.7L239.7 781.1L237.7 783.5L235.5 785.8L233.1 787.9L230.5 790L227.7 791.9L224.8 793.7L221.7 795.3L218.5 796.8L215.2 798.1L211.8 799.1L208.4 800L204.9 800.7L201.4 801.2L198 801.5L194.6 801.5L191.2 801.3L187.9 801Z" fill="#900000"/>
<circle cx="143.7" cy="736.3" r="2.2" fill="none" stroke="#2424c8" stroke-width="1.05"/>
<circle cx="143.7" cy="740" r="2.2" fill="none" stroke="#2424c8" stroke-width="1.05"/>
<circle cx="143.7" cy="743.9" r="2.2" fill="none" stroke="#2424c8" stroke-width="1.05"/>
<path d="M86.2 766.4L185.6 840.5L308.3 778.8M86.2 766.4L80.5 630.8M185.6 840.5L187.9 842.3M207 829.7L209.4 831.5M228.1 819.1L230.5 820.8M248.7 808.8L251.1 810.4M268.9 798.6L271.4 800.2M288.8 788.6L291.2 790.2M308.3 778.8L310.7 780.4M185.6 840.5L183 841.8M170.4 829.2L167.9 830.5M155.6 818.2L153.1 819.4M141.1 807.4L138.6 808.6M126.9 796.8L124.4 798M113.1 786.4L110.5 787.6M99.5 776.3L97 777.4M86.2 766.4L83.7 767.5M85.6 752L88.1 750.9M85 737.5L87.5 736.3M84.3 722.8L86.9 721.7M83.7 707.9L86.3 706.8M83.1 692.8L85.7 691.8M82.4 677.6L85.1 676.5M81.8 662.2L84.4 661.1M81.1 646.6L83.8 645.6M80.5 630.8L83.1 629.8" fill="none" stroke="#111" stroke-width="1"/>
<path d="M111.5 717.3L118.8 706L125.7 696.3L132.7 687.2L139.7 678.7L146.8 671L153.9 664.2L161 658.1L168 652.8L174.9 648.3L182.2 644.4L189.7 641.3L196.6 639.1L203.9 637.6L207.6 637.1L211.1 636.9L218.1 637L225.2 637.9L231.6 639.4L238.1 641.6L242.5 643.5L247.6 646.6L252.8 650.6L258 655.5L263.2 661.3L268.4 668L273.6 675.7L278.8 684.2L283.9 693.6L289.1 704L294.2 715.2L299.3 727.3L304.4 740.3L309.4 754.2L305 750.3L301.6 747.6L298.2 745.2L294.8 742.9L290.2 740.3L286.8 738.6L283.2 737.2L279.7 735.9L274.9 734.7L271.3 734L267.7 733.5L264 733.3L260.3 733.4L256.6 733.7L252.9 734.2L249.1 735L244.1 736.5L240.3 737.8L236.4 739.5L232.6 741.4L228.7 743.5L224.8 745.9L221 748.6L217 751.5L209.2 758.1L201.3 765.7L193.3 774.4L185.4 784.1L178.8 772.2L175.5 766.8L171.2 760.2L167.9 755.6L163.6 750.1L160.4 746.3L156.1 741.9L152.9 738.9L148.7 735.5L145.6 733.4L141.4 731.1L138.4 729.8L134.3 728.6L131.3 728L127.3 727.8L125.3 728L122.3 728.4L119.4 729.2L116.5 730.3L111.8 732.9L109 734.8L106.2 737.1L101.7 741.5L99 744.5L96.3 747.9L91.1 755.4L86.1 764L92.9 750.2L98.7 739.3L105.6 727Z" fill="#00782e" stroke="#111" stroke-width="1" stroke-linejoin="round"/>
<path d="M93 752.5L95.1 746.8L97.5 741.6L103.3 731.1L111.5 717.3L120.4 703.7L128.4 692.7L136.3 682.7L144.1 673.9L152.4 665.6L160.2 658.7L168 652.8L172 650.1L176 647.7L183.4 643.9L187 642.3L191 640.8L194.9 639.5L198.9 638.5L203 637.7L207.1 637.2L211.1 636.9L214.6 636.9L221.7 637.4L228.7 638.7L235.7 640.7L239.4 642.1L242.5 643.5L245.6 645.3L248.7 647.3L253.8 651.5L259 656.6L264.2 662.6L270.5 671L275.7 679L281.9 689.8L287 699.7L293.2 712.9L298.3 724.8L303.4 737.7L309.4 754.2L305 750.3L301.6 747.6L298.2 745.2L294.8 742.9L290.2 740.3L286.8 738.6L283.2 737.2L279.7 735.9L274.9 734.7L271.3 734L267.7 733.5L264 733.3L260.3 733.4L256.6 733.7L252.9 734.2L249.1 735L244.1 736.5L240.3 737.8L236.4 739.5L232.6 741.4L228.7 743.5L224.8 745.9L221 748.6L217 751.5L209.2 758.1L201.3 765.7L193.3 774.4L185.4 784.1L179.9 774.1L173.4 763.5L168 755.7L164.7 751.5L161.5 747.6L156.2 741.9L153 739L149.8 736.4L146.7 734.1L143.6 732.2L140.5 730.7L137.4 729.5L135.4 728.8L132.4 728.2L129.4 727.9L126.4 727.9L123.4 728.2L120.5 728.9L117.6 729.9L114.8 731.2L110.1 734L107.3 736.2L104.5 738.6L101.8 741.3L99.1 744.3L96.5 747.7Z" fill="#009e08"/>
<path d="M96.9 745.9L99.5 738.9L102.8 731.9L111.8 716.9L121.1 702.7L128.9 692L137 681.9L145.2 672.8L153.5 664.6L161.3 657.8L169.2 652L176.5 647.4L180.5 645.2L184.3 643.4L188.3 641.8L192 640.4L196 639.2L199.5 638.4L203.6 637.6L207.1 637.2L211.1 636.9L215.1 636.9L222.2 637.5L229.3 638.8L236.3 640.9L239.4 642.1L242.5 643.5L245.6 645.3L248.7 647.3L253.8 651.5L259 656.6L264.2 662.5L270.4 670.9L275.6 678.9L281.8 689.6L287 699.6L293.1 712.7L298.2 724.6L303.3 737.4L308.3 751L307.7 752.7L303.3 748.9L300 746.4L295.5 743.3L292 741.3L287.4 738.9L283.9 737.4L280.4 736.2L276.9 735.1L273.3 734.3L269.7 733.8L266.1 733.4L262.4 733.3L258.7 733.5L255 733.9L251.3 734.5L247.5 735.4L243.8 736.6L240 738L236.2 739.6L232.4 741.5L228.5 743.6L224.6 746L216.9 751.6L209.1 758.2L201.2 765.8L193.3 774.4L185.4 784.1L179.9 774.1L174.4 765.1L169 757.1L165.8 752.8L162.5 748.8L157.2 742.9L151.9 738L146.6 734.1L143.5 732.2L140.4 730.6L138.4 729.8L135.3 728.8L132.3 728.2L129.3 727.9L127.3 727.8L124.3 728.1L121.4 728.6L118.5 729.5L115.6 730.7L112.7 732.3L109.9 734.1L107.1 736.3L104.4 738.7L101.7 741.5L99 744.5L96.3 747.8Z" fill="#00ca00"/>
<path d="M100 743.3L101.3 738.3L102.7 734.3L104.3 730.3L106.2 726.4L108.3 722.5L111.4 717.4L119.4 705.3L127.9 693.4L135.9 683.2L144.1 673.9L152.4 665.5L160.2 658.7L167.5 653.2L174.9 648.3L178.8 646.1L182.8 644.1L190.3 641L194.3 639.7L197.8 638.8L201.3 638L205.3 637.4L208.9 637L212.9 636.9L219.9 637.2L226.9 638.3L234 640.1L240.4 642.6L245.6 645.3L250.8 649L256 653.5L261.2 659L264.4 662.7L267.5 666.8L272.7 674.3L277.9 682.8L283.1 692.1L289.3 704.5L294.5 715.9L299.6 728.1L304.7 741.2L303.3 745.3L302.2 748.1L297.8 744.8L294.4 742.6L290.9 740.7L287.5 739L284 737.4L280.4 736.2L276.9 735.1L273.3 734.3L268.5 733.6L264.9 733.4L261.2 733.4L257.5 733.6L253.8 734.1L250.1 734.8L246.3 735.8L242.5 737L238.7 738.5L234.9 740.2L228.5 743.6L224.7 746L220.8 748.7L214.3 753.7L206.5 760.6L199.9 767.2L192 776L185.4 784.1L179.9 774.1L174.5 765.2L169 757.2L163.6 750.1L158.3 744.1L153 739L147.7 734.8L144.6 732.8L141.5 731.2L139.5 730.2L136.4 729.1L134.4 728.6L131.4 728L129.4 727.9L126.4 727.9L123.4 728.2L120.5 728.9L118.6 729.5L115.7 730.7L111 733.4L108.2 735.4L105.4 737.7L102.7 740.4Z" fill="#23eb00"/>
<path d="M104.1 739L104.9 734.5L105.9 730.7L107.2 726.9L108.5 723.8L111.9 717L116.5 709.6L125.2 697L130 690.6L134.3 685.2L143 675.1L147.4 670.5L151.8 666.1L159 659.7L166.6 653.8L174.3 648.7L181.7 644.7L189.1 641.5L193.1 640.1L196.6 639.1L203.9 637.6L207.6 637.1L211.1 636.9L218.1 637L225.2 637.9L232 639.5L238.9 641.9L243.5 644.1L248.7 647.4L254 651.6L258.2 655.7L261.3 659.1L264.5 662.9L269.7 669.9L274.9 677.8L280.2 686.7L285.4 696.4L290.6 707.1L295.7 718.7L300.9 731.2L298.9 737.3L296.1 743.7L291.6 741L288.1 739.3L284.6 737.7L281.2 736.4L277.6 735.3L274.1 734.5L270.5 733.9L266.9 733.5L262 733.3L258.4 733.5L254.7 733.9L251 734.6L247.2 735.5L243.5 736.7L239.7 738.1L235.9 739.7L229.6 743L223.2 747L216.7 751.7L210.2 757.1L203.7 763.2L197.2 770.1L190.6 777.6L185.4 784.1L181 776.1L175.6 767L170.2 758.8L164.9 751.6L159.5 745.4L154.3 740.1L149 735.8L143.9 732.4L138.7 729.9L136.7 729.2L133.7 728.4L131.7 728.1L128.7 727.8L126.7 727.8L123.8 728.1L121.9 728.5L119 729.3L114.2 731.4L109.6 734.4L106.8 736.5Z" fill="#6ef905"/>
<path d="M108.7 735L109.2 730.2L109.9 726.6L111.6 720.7L114.3 714.2L116.1 710.7L118.1 707.2L121.1 702.7L125.7 696.3L134.3 685.2L142.5 675.7L150.7 667.2L157.9 660.6L165.2 654.8L172.6 649.8L179.9 645.5L187 642.3L194.3 639.7L198.3 638.6L201.8 637.9L208.9 637L215.8 636.9L222.5 637.5L229.3 638.8L235.7 640.7L241.5 643L245.6 645.3L250.8 649L256.1 653.6L261.3 659.1L266.5 665.5L271.8 672.9L277 681.2L282.2 690.4L287.4 700.5L292.6 711.5L296.7 721L295.5 725.6L293.5 731L291.8 734.6L289.1 739.7L285.6 738.1L282 736.7L278.5 735.6L274.9 734.7L271.3 734L267.7 733.5L264 733.3L260.3 733.4L256.6 733.7L252.9 734.2L249.1 735L245.3 736.1L241.5 737.4L237.7 738.9L233.9 740.7L230 742.8L223.5 746.8L218.3 750.5L213.1 754.7L207.9 759.3L201.3 765.7L196 771.4L190.7 777.5L185.4 784.1L181 776.1L175.6 767L171.3 760.4L165.9 753L161.7 747.8L156.4 742.1L152.2 738.3L147 734.3L142.9 731.8L137.8 729.6L133.7 728.4L131.7 728.1L128.8 727.8L124.8 728L122.9 728.3L120 729L117.1 730L114.3 731.4L111.5 733Z" fill="#c9f90d"/>
<path d="M114.2 731.5L114.1 727.1L114.4 723.8L114.9 720.4L115.7 717L116.6 713.7L117.9 710.3L119.3 707L121.5 702.9L123.4 699.7L125.5 696.5L133.2 686.5L140.8 677.6L147.9 669.9L155.1 663.1L162.4 656.9L169.7 651.6L177.1 647.1L184.5 643.3L192 640.4L198.9 638.5L202.6 637.8L206.4 637.3L212.9 636.9L219.3 637.1L225.8 638L232 639.5L238.7 641.8L243.5 644.1L248.7 647.3L252.8 650.6L258 655.5L263.2 661.3L268.4 668L272.5 674.1L277.7 682.4L282.9 691.7L288 701.8L292.2 710.6L290.9 716L289.8 719.4L288.5 722.8L286.9 726.2L285.1 729.5L283.1 732.8L280.7 736.3L274.8 734.6L268.8 733.6L262.7 733.3L257.8 733.6L251.7 734.5L246.7 735.7L240.4 737.8L235.3 740L229 743.4L223.8 746.6L217.4 751.2L212.2 755.5L205.7 761.4L200.4 766.6L193.9 773.8L188.6 780L183.2 780L178.9 772.4L174.5 765.3L170.2 758.8L164.9 751.6L160.6 746.5L156.3 742.1L152.1 738.2L146.9 734.3L142.8 731.8L138.7 729.9L134.7 728.6L130.7 728L126.7 727.8L122.8 728.3L118.9 729.4Z" fill="#ffff00"/>
<path d="M120.9 728.7L120.2 724.6L120 721.6L120 718.5L120.2 715.4L120.7 712.2L121.3 709.1L122.3 706L123.7 702.1L125.1 699L126.7 696L130.5 690.1L135.9 683.2L142.5 675.7L150.2 667.7L157.4 661.1L165.2 654.8L172.6 649.8L179.9 645.5L187.4 642.1L191 640.8L194.9 639.5L198.8 638.5L202.6 637.8L208.8 637L214.6 636.9L221.1 637.3L226.9 638.3L233.2 639.9L239.4 642.1L244.5 644.7L248.7 647.4L253.9 651.5L259.1 656.6L264.3 662.6L268.4 668.1L273.6 675.7L277.8 682.5L283 691.8L287.1 699.9L286.6 703.5L285.5 708.2L283.8 712.9L281.7 717.6L279 722.2L277 725.3L273.5 729.8L270 733.8L265.1 733.4L261.5 733.3L256.6 733.7L252.9 734.2L247.9 735.3L244.2 736.4L239.1 738.3L235.3 740L230.2 742.6L226.4 744.9L221.3 748.3L217.4 751.2L212.2 755.4L208.3 758.9L200.5 766.6L194.1 767.1L187.2 767.4L180.4 767.2L175.5 766.8L169.1 757.2L165.8 752.9L161.6 747.7L158.4 744.2L155.3 741L152.1 738.2L148 735L144.9 733L141.8 731.3L138.7 729.9L135.7 728.9L132.7 728.2L128.7 727.8L124.8 728Z" fill="#ffac00"/>
<path d="M168.3 752.4L164.8 751.6L160.6 746.5L156.3 742.1L152.1 738.2L148 735L143.8 732.4L139.7 730.3L135.7 728.9L133.7 728.4L130.7 728L129.2 724.9L128.1 722.2L127.3 719.5L126.8 716.8L126.4 714L126.3 711.2L126.4 708.3L127 703.3L127.7 700.4L128.6 697.6L130.9 691.9L134.1 686.3L137.9 681L144.7 673.3L151.8 666.1L159 659.7L166.3 654L173.5 649.2L180.5 645.2L188 641.9L194.9 639.5L198.8 638.5L202.4 637.8L206.4 637.3L210 637L213.9 636.9L217.6 637L224.6 637.8L228.4 638.6L232 639.5L235.7 640.7L239.4 642.1L242.5 643.6L245.6 645.3L250.9 649L255.1 652.6L259.3 656.8L263.5 661.6L266.6 665.6L270.8 671.5L274 676.3L278.2 683.2L281.3 688.7L281.2 691.7L280.6 696L279.5 700.3L278 704.6L276 708.9L274.4 711.7L271.6 716L269.5 718.7L265.9 722.8L262 726.7L257.6 730.5L252.7 734.3L247.8 735.4L244.1 736.5L239.1 738.3L235.3 740L230.3 742.6L226.5 744.8L218.9 750.1L212.2 751.7L205.7 753L199.3 753.8L192.8 754.3L186.5 754.4L180.3 754.1L174.2 753.4Z" fill="#ff5f00"/>
<path d="M171.7 739.2L165 737.5L158.7 735.2L153 732.4L148 729.1L143.6 725.4L140 721.3L138.4 719.1L137.1 716.9L136 714.5L134.6 710.9L134 708.5L133.5 706L133.3 703.4L133.2 700.9L133.4 698.3L133.9 695.1L134.6 691.8L135.5 689.2L136.5 686.7L138 683.5L139.8 680.3L141.4 677.9L145.1 673L150.2 667.7L157.4 661.1L164.1 655.6L171.4 650.5L178.2 646.4L185.1 643.1L192 640.4L198.9 638.5L205.9 637.3L210 637L213.5 636.9L217.6 637L221.1 637.3L224.9 637.9L228.4 638.6L232 639.5L235.7 640.7L241.4 643L246.6 645.9L249.6 648.1L252.7 650.5L257.9 655.4L262 659.9L265.1 663.7L269.2 669.2L272.3 673.8L274.4 677L274.7 680.8L274.4 685.8L273.7 689.7L272.1 694.9L270.4 698.8L267.4 703.9L264.7 707.7L261.6 711.4L258.1 715L252.9 719.6L248.6 722.8L244 725.8L239.1 728.6L233.9 731.2L228.5 733.5L223 735.5L217.3 737.2L211.5 738.6L205.7 739.7L199.8 740.5L194 740.9L188.2 741L182.5 740.8L177 740.2Z" fill="#ee2600"/>
<path d="M175.8 724.2L169.9 722.7L167.1 721.7L163.1 720.1L160.6 718.9L157.1 716.9L155 715.4L152 713L148.6 709.6L147.2 707.7L145.3 704.8L144.3 702.8L143.1 699.7L142.5 697.5L142 694.3L141.8 692.1L141.9 688.7L142.3 685.9L143 683L143.9 680.2L145 677.4L147.8 672.4L151.2 667.6L153.4 665.1L155.9 662.6L161 658.1L168 652.8L174.8 648.4L181.1 645L188 641.9L194.3 639.7L200.7 638.1L207.1 637.2L213.5 636.9L220 637.2L226.3 638.2L232.8 639.8L239.4 642.1L244.5 644.7L249.7 648.1L254.8 652.4L260 657.6L264.1 662.5L265.1 664.9L265.9 668L266.4 671.2L266.5 674.5L266.2 677.8L265.6 681.2L264.5 684.6L263.6 686.8L262 690.2L259.9 693.6L257.5 696.9L255.7 699L252.7 702.2L249.4 705.2L243.3 709.9L239.2 712.6L234.9 715L227.2 718.5L219.1 721.5L210.7 723.6L202.2 725.1L193.6 725.7L185.3 725.5L180.5 725Z" fill="#cf0800"/>
<path d="M180.6 708.2L175.7 707L171.1 705.3L166.9 703.3L162.2 700.4L159.1 697.6L157.7 696.2L156 693.9L154.1 690.6L153.3 688.9L152.5 686.2L151.9 682.6L151.9 680.3L152 677.9L152.9 673.7L154.4 669.4L157 664.8L159.9 660.8L163.4 657L168 653L172.6 649.8L178.2 646.4L184 643.6L189.7 641.2L195.5 639.4L201.2 638L207.1 637.2L212.7 636.9L218.7 637.1L224.6 637.8L230.4 639.1L236.1 640.9L241.1 643.1L245.6 645.8L249.4 649L251.9 651.8L253.5 654L254.8 656.4L255.8 658.9L256.4 661.5L256.8 664.2L256.9 667L256.6 669.8L256 672.6L255.1 675.4L253.9 678.2L252.4 681L250.5 683.8L248.4 686.5L245.9 689.2L241.3 693.4L238.2 695.7L234.8 697.9L231.2 700L227.5 701.8L223.6 703.6L219.6 705.1L212.6 707.1L208.3 708L204.1 708.7L199.8 709.2L195.5 709.4L188.6 709.3L184.5 708.8Z" fill="#ac0000"/>
<path d="M185.9 692.3L182 691.4L177.5 689.8L174.3 688.2L170.8 685.8L168.4 683.6L166 680.7L164.6 678.1L163.5 674.6L163.1 671.8L163.3 668.1L163.9 665.2L165.3 661.5L167 658.6L169.6 655.1L172 652.5L175.6 649.3L178.8 647L183.2 644.4L187.9 642.1L192.8 640.3L196.9 639L202.2 637.9L207.4 637.2L212.6 636.9L217.7 637.1L222.6 637.8L227.2 638.8L230.6 640L234.5 641.8L237.2 643.6L240.2 646.1L242.2 648.3L243.4 650.1L244.4 652L245.2 654L245.7 656L246 658.1L246 660.3L245.8 662.5L245.3 664.7L244.5 666.9L243.6 669.1L242.3 671.3L240.8 673.5L239.1 675.6L237.2 677.6L233.5 680.9L228.4 684.4L222.6 687.4L216.4 689.9L210.9 691.5L204.2 692.8L197.6 693.3L192.1 693.2Z" fill="#900000"/>
<path d="M111.5 717.3L118.8 706L125.7 696.3L132.7 687.2L139.7 678.7L146.8 671L153.9 664.2L161 658.1L168 652.8L174.9 648.3L182.2 644.4L189.7 641.3L196.6 639.1L203.9 637.6L211.1 636.9L218.1 637L225.2 637.9L231.6 639.4L238.1 641.6L242.5 643.5L247.6 646.6L252.8 650.6L258 655.5L263.2 661.3L268.4 668L273.6 675.7L278.8 684.2L283.9 693.6L289.1 704L294.2 715.2L299.3 727.3L304.4 740.3L309.4 754.2L301.6 747.6L294.8 742.9L286.8 738.6L279.7 735.9L274.9 734.7L271.3 734L264 733.3L256.6 733.7L249.1 735L244.1 736.5L240.3 737.8L232.6 741.4L224.8 745.9L217 751.5L209.2 758.1L201.3 765.7L193.3 774.4L185.4 784.1L178.8 772.2L171.2 760.2L163.6 750.1L156.1 741.9L152.9 738.9L148.7 735.5L145.6 733.4L141.4 731.1L138.4 729.8L134.3 728.6L131.3 728L127.3 727.8L122.3 728.4L119.4 729.2L116.5 730.3L111.8 732.9L106.2 737.1L101.7 741.5L96.3 747.9L91.1 755.4L86.1 764L92.9 750.2L98.7 739.3L105.6 727Z" fill="url(#she)"/>
<path d="M185.4 784.1L179.9 774.1L173.1 763L169.7 758.1L166.3 753.5L162.9 749.3L159.6 745.4L156.2 742L152.9 738.9L149.6 736.2L146.4 733.9L143.1 732L139.9 730.4L136.7 729.2L133.5 728.4L131 728L127.3 727.8L124.8 728L121.1 728.7L118.7 729.4L115.1 731L112.7 732.3L109.2 734.6L106.9 736.5L103.5 739.6L101.2 742L97.9 745.9L95.7 748.7L92.4 753.4L89.2 758.5L86.1 764M185.4 784.1L192 775.9L200.3 766.7L208.5 758.7L212.6 755.1L216.7 751.7L220.8 748.7L224.8 745.9L228.9 743.4L232.9 741.2L236.9 739.3L240.9 737.6L244.9 736.2L248.8 735.1L251.9 734.4L256.6 733.7L259.7 733.4L264.3 733.3L267.4 733.5L271.9 734.1L274.9 734.7L279.4 735.8L282.4 736.8L286.8 738.6L289.7 740L294 742.4L296.8 744.2L301.1 747.2L305.3 750.5L309.4 754.2M192.4 775.5L186.9 765.3L180 753.9L176.6 748.8L173.2 744.1L169.9 739.7L166.5 735.7L163.2 732.1L159.8 728.9L156.5 726.1L153.2 723.6L150 721.6L146.7 719.9L143.5 718.5L140.3 717.6L137.8 717.1L134 716.8L131.5 716.8L127.8 717.4L125.3 718L121.7 719.4L119.3 720.6L115.8 722.8L113.4 724.6L110 727.6L107.7 729.9L104.3 733.7L102.1 736.4L98.8 741L95.5 746L92.3 751.4M179.6 773.6L186.2 765.2L194.5 755.8L202.7 747.4L206.8 743.6L210.9 740.1L215 736.9L219.1 734L223.1 731.4L227.2 729L231.2 726.9L235.2 725.1L239.1 723.6L243.1 722.4L246.2 721.6L250.9 720.7L254 720.3L258.7 720.1L261.7 720.1L266.3 720.5L269.3 721L273.8 722.1L276.8 723L281.2 724.6L284.2 725.9L288.5 728.2L291.4 729.9L295.7 732.7L299.9 735.9L304 739.4M199.3 767.8L193.8 757.3L187 745.6L183.6 740.4L180.2 735.5L176.8 731L173.4 726.8L170.1 723.1L166.7 719.7L163.4 716.8L160.1 714.2L156.8 711.9L153.5 710.1L150.3 708.6L147.1 707.5L144.5 706.9L140.7 706.5L138.2 706.4L134.5 706.8L132 707.4L128.4 708.6L125.9 709.7L122.3 711.8L120 713.4L116.5 716.3L114.2 718.5L110.7 722.2L108.5 724.9L105.1 729.3L101.9 734.1L98.6 739.4M173.9 764.2L180.5 755.6L188.7 745.8L197 737.2L205.2 729.6L209.3 726.3L213.3 723.2L217.4 720.4L221.4 717.9L225.4 715.7L229.4 713.7L233.4 712.1L237.4 710.7L240.5 709.8L245.3 708.7L248.4 708.2L253 707.8L256.1 707.8L260.7 708L263.7 708.4L268.3 709.3L271.2 710.1L275.7 711.6L278.6 712.8L283 714.9L285.9 716.5L290.2 719.2L294.4 722.3L298.6 725.7M206.3 760.8L200.8 750.1L193.9 738.1L190.5 732.7L187.1 727.7L183.7 723L180.3 718.7L177 714.8L173.6 711.3L170.3 708.2L167 705.5L163.7 703.1L160.4 701.1L157.1 699.5L153.9 698.3L151.3 697.5L147.5 696.9L145 696.8L141.2 697L138.7 697.4L135 698.5L132.6 699.5L128.9 701.5L126.6 703L123 705.8L120.7 707.9L117.2 711.4L114.9 714L111.5 718.3L108.2 723L104.9 728.2M168.1 755.9L174.8 747.1L183 737L191.2 728L199.4 720.2L203.5 716.7L207.6 713.5L211.6 710.5L215.7 707.9L219.7 705.5L223.7 703.4L227.7 701.6L231.7 700.1L234.8 699L239.6 697.8L242.7 697.2L247.4 696.7L250.4 696.5L255 696.6L258.1 696.9L262.6 697.6L265.6 698.3L270.1 699.6L273.1 700.7L277.5 702.7L280.4 704.2L284.7 706.8L289 709.7L293.2 713M213.2 754.6L207.7 743.7L200.8 731.4L194 720.6L190.6 715.8L187.2 711.4L183.9 707.4L180.5 703.7L177.2 700.4L173.8 697.6L170.5 695L167.2 692.9L163.9 691.2L160.7 689.8L158.1 688.9L154.2 688.1L151.7 687.9L147.9 688L145.4 688.3L141.7 689.2L139.2 690.1L135.6 691.9L133.1 693.4L129.6 695.9L127.2 697.9L123.7 701.3L121.4 703.8L118 708L114.6 712.6L111.3 717.7M162.5 748.7L169.1 739.6L177.3 729.2L185.5 720L193.7 711.8L197.8 708.2L201.8 704.8L205.9 701.7L209.9 698.9L214 696.4L218 694.2L222 692.2L226 690.5L229.1 689.4L233.9 688L237 687.3L241.7 686.5L244.8 686.3L249.4 686.2L252.5 686.4L257 686.9L260 687.5L264.5 688.7L267.5 689.7L271.9 691.5L274.8 692.9L279.2 695.3L283.5 698.1L287.7 701.2M220.1 749.2L214.6 738.1L207.7 725.5L200.9 714.4L197.5 709.5L194.1 704.9L188 697.6L184.7 694.1L181.3 691L178 688.3L174.7 685.9L171.4 684L168.1 682.4L165.5 681.3L162.3 680.4L159.1 679.9L155.9 679.7L152.7 679.8L149.6 680.4L146.5 681.3L143.4 682.5L140.4 684.1L137.3 686L134.3 688.3L131.4 690.9L128.5 693.8L125.6 697.1L122.1 701.4L118.9 705.9M156.8 742.6L163.4 733.2L171.6 722.6L179.8 713L188 704.6L192.1 700.8L196.1 697.2L200.2 694L204.2 691.1L208.3 688.4L212.3 686L216.3 683.9L220.3 682.1L223.4 680.8L228.2 679.2L231.3 678.4L236 677.5L239.1 677.1L243.7 676.9L246.8 676.9L251.4 677.3L254.4 677.8L258.9 678.8L261.9 679.7L266.3 681.3L269.3 682.6L273.6 684.9L278 687.5L282.2 690.5M226.9 744.6L221.4 733.2L214.6 720.4L207.8 709L204.4 703.9L201 699.2L194.9 691.6L191.5 688L188.2 684.7L185.5 682.4L182.2 679.8L178.9 677.6L175.6 675.8L172.3 674.3L169 673.3L166.5 672.7L163.2 672.3L160.1 672.2L156.9 672.5L153.8 673.2L150.7 674.3L147.6 675.6L144.5 677.4L141.5 679.4L138.5 681.8L135.6 684.6L132.6 687.6L129.7 691L127 694.6M151.3 737.5L157.8 727.9L166 717L174.2 707.1L182.3 698.4L190.5 690.8L194.5 687.4L198.5 684.3L202.6 681.5L206.6 678.9L210.6 676.7L214.6 674.7L217.7 673.3L222.5 671.5L225.6 670.6L230.3 669.5L233.4 669L238.1 668.6L241.2 668.5L245.7 668.7L248.8 669.1L253.3 669.9L256.3 670.7L260.8 672.2L263.7 673.4L268.1 675.5L272.4 677.9L276.7 680.7M233.7 740.8L228.2 729.2L221.4 716L215.3 705.5L211.8 700.1L208.5 695.2L202.4 687.2L196.3 680.6L192.9 677.4L190.3 675.1L187.6 673.1L183.6 670.5L181 669L178.4 667.9L175.1 666.7L171.9 665.9L169.3 665.6L165.5 665.5L162.9 665.7L159.2 666.5L156.7 667.3L153 668.9L150.5 670.3L146.9 672.7L144.4 674.6L140.9 677.8L138.5 680.3L135.1 684.2M145.7 733.5L152.3 723.7L160.4 712.5L168.6 702.3L176.7 693.3L184.8 685.4L188.9 681.8L192.9 678.6L196.9 675.6L200.9 672.9L204.9 670.5L208.9 668.4L212.1 666.9L216.8 664.9L220 663.9L224.7 662.6L227.8 662L232.4 661.4L235.5 661.2L240.1 661.2L243.2 661.5L247.7 662.2L250.7 662.8L255.2 664.1L258.1 665.2L262.5 667.1L266.9 669.4L271.2 672.1M240.4 737.8L235 725.9L228.1 712.5L222 701.7L215.9 692.1L209.8 683.7L203.7 676.6L201.1 673.9L197.7 670.8L194.4 668L191.1 665.7L188.4 664.1L185.1 662.4L182.5 661.3L179.2 660.3L176.7 659.8L173.4 659.5L170.2 659.5L167.1 659.9L163.9 660.6L160.8 661.7L157.7 663.2L154.6 665L151.6 667.1L148.6 669.6L143.4 674.7M140.3 730.6L146.8 720.6L154.9 709L163 698.6L171.1 689.3L179.2 681.1L183.3 677.4L187.3 674L191.3 670.9L195.3 668L199.3 665.4L203.3 663.2L206.4 661.5L211.2 659.4L214.3 658.2L219 656.8L222.1 656.1L226.8 655.3L229.9 655L234.5 654.8L237.5 654.9L242.1 655.4L245.1 656L249.6 657.1L252.5 658.1L257 659.8L261.3 661.9L265.7 664.4M247.1 735.6L241.6 723.5L234.9 709.7L228.7 698.7L222.6 688.8L216.5 680.2L210.5 672.8L207.8 669.9L204.4 666.7L201.8 664.3L198.4 661.8L195.8 660L192.5 658.1L189.2 656.6L186.6 655.6L184 654.9L181.4 654.4L178.8 654.2L175 654.3L172.4 654.6L169.9 655.2L166.8 656.2L163.6 657.6L160.6 659.3L157.5 661.3L154.5 663.7L151.7 666.2M134.9 728.7L141.4 718.5L149.4 706.7L157.5 695.9L165.6 686.3L173.7 677.8L177.7 674L181.7 670.4L185.7 667.2L189.7 664.2L193.7 661.5L197.7 659L200.8 657.3L205.6 655L208.7 653.7L213.4 652L216.5 651.2L221.2 650.2L224.3 649.8L228.9 649.5L231.9 649.5L236.5 649.8L239.5 650.2L244 651.1L247 652L251.4 653.6L255.8 655.5L260.1 657.8M253.7 734.1L248.3 721.8L242.9 710.5L237.4 700.1L230.7 688.5L224.6 679.3L218.5 671.4L212.5 664.7L209.8 662.1L206.4 659.2L201.1 655.4L198.5 653.9L194.5 652L191.9 651L189.3 650.3L186.1 649.8L182.8 649.6L180.3 649.7L177.1 650.1L173.9 650.9L171.4 651.8L168.9 652.9L165.2 655L160.2 658.7M129.6 727.9L136 717.4L144.1 705.3L152.1 694.4L160.1 684.5L168.2 675.7L176.2 668L180.2 664.6L184.2 661.4L188.1 658.5L192.1 655.9L195.3 654.1L200 651.6L203.1 650.2L207.8 648.4L211 647.4L215.6 646.2L218.7 645.7L223.3 645.2L226.4 645L230.9 645.2L233.9 645.5L238.4 646.2L241.4 647L245.9 648.3L250.3 650.1L254.6 652.2M260.2 733.4L254.8 720.9L249.4 709.3L244 698.7L237.3 686.8L231.9 678.4L225.8 670.1L219.8 663L214.4 657.7L211.7 655.4L208.4 652.9L205.8 651.2L202.5 649.4L199.8 648.2L196.6 647L193.3 646.2L190.7 645.8L188.1 645.7L185.6 645.8L183 646.1L179.9 646.9L177.3 647.7L174.2 649L171.7 650.4L168.7 652.3M124.4 728.1L132.4 714.9L140.3 702.7L148.3 691.7L156.4 681.7L164.3 672.9L172.3 665.1L176.3 661.6L180.3 658.5L184.2 655.5L188.2 652.9L191.3 651L196.1 648.5L200 646.7L203.9 645.2L207.7 643.9L211.6 642.9L215.5 642.2L219.3 641.8L223.1 641.6L226.9 641.7L230.6 642L234.4 642.6L238.1 643.5L241.8 644.6L245.5 646L249.1 647.7M266.7 733.5L261.3 720.7L255.9 709L250.6 698.1L244.5 687.1L239.1 678.3L233.1 669.6L227.7 662.9L225 659.9L221.7 656.4L216.3 651.8L213 649.3L210.4 647.7L207.7 646.2L205.1 645L202.5 644.1L199.2 643.2L196.6 642.8L193.4 642.6L190.8 642.6L188.3 643L185.7 643.5L183.2 644.3L180.1 645.5L177.3 646.9M119.3 729.3L127.2 715.8L135.1 703.4L143.1 692.1L151 681.9L159 672.7L166.9 664.7L170.9 661.1L174.8 657.7L178.8 654.7L182.7 651.9L185.9 649.9L190.6 647.2L194.5 645.2L198.4 643.5L202.2 642.1L206.1 641L209.9 640.1L213.8 639.5L217.6 639.2L221.4 639.1L225.1 639.3L228.9 639.7L232.6 640.5L236.3 641.4L240 642.7L243.6 644.1M273 734.3L267.7 721.4L262.4 709.4L257 698.3L251.7 688.2L246.3 679.1L240.9 670.9L235.5 663.7L229.5 656.8L224.2 651.6L218.9 647.4L215.6 645.3L212.9 643.8L210.3 642.6L207.7 641.7L205.1 640.9L202.5 640.4L199.9 640.2L196.7 640.1L193.5 640.5L190.9 641L188.4 641.8L186 642.7M114.2 731.4L122.1 717.7L128.4 707.6L136.3 695.8L144.2 685L152.1 675.4L160 666.9L167.9 659.4L171.8 656.1L175.8 653L178.9 650.8L183.6 647.8L186.7 646L191.4 643.6L194.5 642.3L199.1 640.5L202.2 639.6L206.8 638.5L209.8 638L214.4 637.6L217.4 637.5L221.9 637.7L224.9 638.1L229.3 638.9L232.3 639.6L236.1 640.9M279.3 735.8L274 722.7L268.7 710.5L264.1 700.6L258.7 690.2L254 681.8L248 672.2L242.7 664.6L237.3 658L232.7 653L227.3 648.2L222 644.4L219.4 642.8L216.1 641.2L211.5 639.5L208.9 638.9L205.7 638.4L203.1 638.3L199.9 638.5L197.4 638.9L194.7 639.6M109.3 734.6L115.5 723.4L121.7 712.8L128 702.9L135.9 691.5L142.9 682.2L150 673.7L157.1 666.1L164.2 659.4L170.4 654.1L177.4 649.1L184.4 644.9L191.4 641.6L198.3 639.2L204.4 637.8L207.4 637.3L211.2 637L214.9 636.9L218 637M285.5 738.1L280.3 724.8L275 712.4L270.4 702.3L265.1 691.7L260.4 683.1L255.1 674.3L249.7 666.4L244.4 659.4L239.1 653.4L234.4 648.9L229.8 645.2L224.5 641.8L221.9 640.5L219.3 639.4L216.7 638.5L214 637.9L211.5 637.5L208.9 637.3L206.3 637.3L203.5 637.6M104.4 738.7L110.6 727.3L116.8 716.6L122.2 707.7L127.7 699.4L133.2 691.5L139.4 683.2L145.7 675.6L151.9 668.7L157.4 663.2L163.6 657.5L169.8 652.6L175.3 648.8L180.7 645.6L186.8 642.5L192.9 640.2L199 638.5M291.6 741.1L287.7 730.9L282.5 718.1L277.2 706.2L272 695.2L267.3 686.4L262 677.2L257.4 669.9L252 662.5L247.4 656.7L242.1 651.1L237.4 646.9L232.2 643.1L229.5 641.5L226.9 640.1L222.4 638.3L217.8 637.3L215.2 637L212.4 636.9M99.7 743.7L105.8 732.1L110.4 723.9L115 716L119.7 708.5L124.3 701.4L128.9 694.6L133.6 688.2L139 681.3L143.7 675.7L149.1 669.7L153.8 665L159.2 660L164.6 655.5L169.2 652L173.9 649L179 646M297.7 744.8L292.5 731.1L288.6 721.4L284 710.8L279.4 700.9L274.2 690.4L269.5 682L264.9 674.3L259.6 666.4L255 660.3L250.3 654.9L245 649.6L240.4 645.7L235.8 642.6L233.2 641.1L230.6 639.9L228 638.9L225.4 638.1L221.2 637.3M95 749.6L103.4 733.7L111 720.2L118.7 707.8L126.4 696.4L134.1 686L141.8 676.7L149.5 668.4L153.3 664.7L157.9 660.6M303.6 749.1L298.4 735.3L294.6 725.5L290 714.7L285.5 704.6L281.5 696.5L276.3 686.5L272.4 679.6L267.1 671.3L262.5 664.8L257.8 658.9L253.2 653.8L248.6 649.5L244 645.8L239.4 642.9L234.9 640.6L230.1 639M90.5 756.4L96.5 744.5L102.5 733.3L107.8 724L113.2 715.1L118.5 706.8L124.6 697.9L129.9 690.7L135.8 683.3M309.4 754.2L304.3 740.2L300.5 730.2L296.6 720.8L292.1 710.4L288.2 702.1L283.6 693.1L279 684.7L274.5 677L270.5 671L265.9 664.7L261.3 659.1L256.7 654.2L252.8 650.6L248.2 647L243.6 644.2L239 642M86.1 764L93.5 749.1L99.5 737.9L106.2 726L112.6 715.6" fill="none" stroke="#0a0a0a" stroke-width="1.05" stroke-linejoin="round"/>
<circle cx="210.9" cy="629.8" r="2.2" fill="none" stroke="#2424c8" stroke-width="1.05" opacity="0.9"/>
<circle cx="196.4" cy="651.6" r="2.2" fill="none" stroke="#2424c8" stroke-width="1.05" opacity="0.9"/>
<circle cx="286.3" cy="712.7" r="2.2" fill="none" stroke="#2424c8" stroke-width="1.05" opacity="0.9"/>
<circle cx="106.8" cy="722.5" r="2.2" fill="none" stroke="#2424c8" stroke-width="1.05" opacity="0.9"/>
<path d="M210.9 631.8V640" stroke="#2a2ad0" stroke-width="0.8" fill="none" stroke-dasharray="1.5 1"/>
<g fill="#111" stroke="#111" stroke-width="0.32"><text transform="matrix(1.000 -0.340 0.000 1.000 81.2 757)" font-size="12.1" text-anchor="end">0.0</text><text transform="matrix(1.000 -0.340 0.000 1.000 80.6 742.5)" font-size="12.1" text-anchor="end">0.2</text><text transform="matrix(1.000 -0.340 0.000 1.000 80 727.8)" font-size="12.1" text-anchor="end">0.4</text><text transform="matrix(1.000 -0.340 0.000 1.000 79.4 712.9)" font-size="12.1" text-anchor="end">0.6</text><text transform="matrix(1.000 -0.340 0.000 1.000 78.7 697.9)" font-size="12.1" text-anchor="end">0.8</text><text transform="matrix(1.000 -0.340 0.000 1.000 78.1 682.6)" font-size="12.1" text-anchor="end">1.0</text><text transform="matrix(1.000 -0.340 0.000 1.000 77.4 667.2)" font-size="12.1" text-anchor="end">1.2</text><text transform="matrix(1.000 -0.340 0.000 1.000 76.8 651.6)" font-size="12.1" text-anchor="end">1.4</text><text transform="matrix(1.000 -0.340 0.000 1.000 76.1 635.9)" font-size="12.1" text-anchor="end">1.6</text><text transform="matrix(0.721 0.538 -0.892 0.451 190.4 844.1)" font-size="11.6" text-anchor="start" y="3.4">4</text><text transform="matrix(0.728 0.529 -0.892 0.451 211.9 833.3)" font-size="11.6" text-anchor="start" y="3.4">6</text><text transform="matrix(0.734 0.520 -0.892 0.451 233 822.6)" font-size="11.6" text-anchor="start" y="3.4">8</text><text transform="matrix(0.740 0.512 -0.892 0.451 253.6 812.2)" font-size="11.6" text-anchor="start" y="3.4">10</text><text transform="matrix(0.746 0.503 -0.892 0.451 273.9 801.9)" font-size="11.6" text-anchor="start" y="3.4">12</text><text transform="matrix(0.752 0.495 -0.892 0.451 293.7 791.9)" font-size="11.6" text-anchor="start" y="3.4">14</text><text transform="matrix(0.757 0.487 -0.892 0.451 313.2 782)" font-size="11.6" text-anchor="start" y="3.4">16</text><text transform="matrix(0.768 -0.386 0.719 0.541 179.7 843.5)" font-size="11.6" text-anchor="end" y="3.4">0.08</text><text transform="matrix(0.771 -0.381 0.719 0.541 164.6 832.1)" font-size="11.6" text-anchor="end" y="3.4">0.10</text><text transform="matrix(0.774 -0.376 0.719 0.541 149.8 821)" font-size="11.6" text-anchor="end" y="3.4">0.12</text><text transform="matrix(0.776 -0.371 0.719 0.541 135.3 810.1)" font-size="11.6" text-anchor="end" y="3.4">0.14</text><text transform="matrix(0.778 -0.366 0.719 0.541 121.2 799.5)" font-size="11.6" text-anchor="end" y="3.4">0.16</text><text transform="matrix(0.781 -0.361 0.719 0.541 107.3 789.1)" font-size="11.6" text-anchor="end" y="3.4">0.18</text><text transform="matrix(0.783 -0.356 0.719 0.541 93.8 778.9)" font-size="11.6" text-anchor="end" y="3.4">0.20</text><text transform="matrix(0.785 -0.351 0.719 0.541 80.5 768.9)" font-size="11.6" text-anchor="end" y="3.4">0.22</text><text transform="matrix(0.887 -0.462 0.740 0.512 277.5 830.6)" font-size="15" text-anchor="middle">Yeast extract (g/L)</text><text transform="matrix(0.706 0.558 -0.904 0.428 88.4 824.4)" font-size="15" text-anchor="middle">Initial OD</text><text transform="matrix(0.080 1.000 -1.000 0.000 43.7 713.1)" font-size="14.5" text-anchor="middle" font-weight="bold">Protease activity</text><text transform="matrix(0.080 1.000 -1.000 0.000 27.2 715)" font-size="14.5" text-anchor="middle" font-weight="bold">(U/mL)</text></g>
</g>
<g id="pf" clip-path="url(#clf)">
<path d="M419.9 772.7L543.7 717.3L544.4 582.1L414 632.5Z" fill="#fff"/>
<path d="M649.8 785.6L543.7 717.3L544.4 582.1L656.3 643.6Z" fill="#fff"/>
<path d="M419.9 772.7L414 632.5M441.5 763.1L436.8 623.6M462.7 753.6L459.1 615M483.5 744.3L481.1 606.6M503.9 735.1L502.6 598.3M524 726.2L523.7 590.1M543.7 717.3L544.4 582.1M649.8 785.6L656.3 643.6M633.7 775.3L639.3 634.3M617.9 765.1L622.6 625.1M602.5 755.2L606.3 616.1M587.3 745.4L590.3 607.4M572.5 735.9L574.7 598.8M558 726.5L559.4 590.4M543.7 717.3L544.4 582.1M419.3 757.9L543.8 703L650.5 770.6M418.7 742.8L543.8 688.4L651.2 755.4M418 727.6L543.9 673.7L651.9 740M417.4 712.2L544 658.9L652.6 724.4M416.7 696.6L544.1 643.9L653.3 708.6M416 680.9L544.1 628.7L654.1 692.7M415.4 664.9L544.2 613.3L654.8 676.5M414.7 648.8L544.3 597.8L655.6 660.2M414 632.5L544.4 582.1L656.3 643.6M419.9 772.7L543.7 717.3L649.8 785.6" fill="none" stroke="#d9d9de" stroke-width="0.8"/>
<path d="M522.8 849.5L649.8 785.6L543.7 717.3L419.9 772.7Z" fill="#00782e"/>
<path d="M425 776.6L427.3 771.8L429.2 768.6L536.9 720.4L548.2 720.2L648.6 784.9L648.5 786.3L522.8 849.5Z" fill="#00a500"/>
<path d="M429.2 779.7L430.8 775.5L432.4 772.3L434.2 769.2L437.1 765.1L529.7 723.6L540 723L548 723L552.7 723.1L643.5 781.6L643.1 786L642.5 789.3L522.8 849.5Z" fill="#00dc00"/>
<path d="M433.8 783.1L435.6 777.4L436.9 774.4L438.5 771.3L440.4 768.4L442.5 765.4L446.4 760.9L521 727.5L532.2 726.3L542.4 725.9L549.9 726L557.8 726.4L637.8 777.9L637.9 779.5L637.8 782.7L637.5 785.8L636.9 789L635.8 792.7L530.1 845.8L528.3 845.9L517.6 845.7Z" fill="#46fa00"/>
<path d="M439.1 787L439.6 783.6L440.9 779.2L442.6 774.8L445 770.6L447.9 766.4L451.3 762.4L455.1 758.5L458.7 755.4L509.4 732.7L515.8 731.5L522.9 730.4L530 729.6L537.2 729.2L544.4 729L551.5 729.2L558.5 729.7L563.8 730.3L631.2 773.7L631.7 776.8L631.9 779.7L631.7 784.1L630.9 788.6L629.5 793L627.9 796.6L538.7 841.5L531.4 841.9L520.8 841.9L511.7 841.3Z" fill="#bef810"/>
<path d="M445.4 791.7L445.5 786.3L446 783.5L446.7 780.7L447.6 778L448.7 775.3L450.1 772.6L451.7 770L454.6 766.2L459.1 761.2L464.3 756.6L470.3 752.2L475.2 749.2L482.3 745.5L489.9 742.2L497.9 739.3L506.2 737L514.9 735.1L523.7 733.7L532.6 732.8L543.8 732.4L552.7 732.7L561.4 733.5L571.1 735L623.2 768.5L624.7 773.1L625.3 775.8L625.5 778.5L625.6 781.2L625.4 784L624.9 786.8L624.2 789.5L623.3 792.3L622.1 795.1L620.6 797.8L618.2 801.5L549.1 836.3L544.2 836.9L536.7 837.5L529.3 837.8L519.4 837.6L512.1 837L504.8 836.1Z" fill="#ffff00"/>
<path d="M453.7 797.9L452.6 793.6L452.3 791.1L452.2 788.5L452.4 786L452.8 783.4L453.4 780.9L454.2 778.3L455.3 775.8L456.6 773.4L459.7 768.6L463.7 763.9L468.4 759.5L473.7 755.4L479.7 751.6L486.2 748.2L493.2 745.1L500.6 742.5L508.4 740.3L516.4 738.5L524.6 737.2L530.8 736.5L539.1 736.1L547.4 736.1L555.5 736.6L563.5 737.6L569.3 738.6L576.8 740.4L582.1 742.1L611.6 761.1L614.6 765.4L616.4 769L617.7 772.6L618.5 776.3L618.7 778.8L618.8 781.3L618.4 785.2L617.5 789L616 792.8L614.8 795.4L613.3 797.9L610.7 801.6L607.6 805.2L604 808.7L564.1 828.7L554.7 830.9L545.8 832.3L538.9 833L532.1 833.3L527.5 833.4L520.7 833.2L514 832.7L507.5 831.8L501.1 830.7L495.9 829.4Z" fill="#ff9c00"/>
<path d="M481 817.8L477.4 815.6L471 810.8L467.1 806.8L465.5 804.8L463.4 801.6L462.2 799.4L461.3 797.1L460.6 794.9L460 791.4L459.8 789.1L459.8 786.8L460 784.5L460.8 781L462.5 776.4L463.6 774.2L465.7 770.9L469.1 766.6L471 764.5L474.3 761.5L479.1 757.8L481.8 756L486 753.5L492.1 750.4L500.3 747.1L507.2 744.9L516.2 742.6L523.7 741.3L533.1 740.3L542.6 740L552 740.4L561.1 741.4L568.1 742.8L576.5 745L582.7 747.3L587.1 749.2L589.8 750.6L594.9 753.7L598.3 756.3L600.4 758.1L604.1 761.9L606.4 764.9L607.7 766.9L609.7 771.2L610.4 773.5L610.9 775.7L611.3 779.1L611.2 782.6L610.7 786.1L609.7 789.6L608.2 793L606.3 796.4L603.9 799.8L601 803.1L597.8 806.2L594.1 809.3L590 812.1L585.6 814.8L580.8 817.3L575.7 819.6L570.3 821.7L564.7 823.5L558.9 825L553 826.3L546.9 827.3L540.7 828.1L534.5 828.5L524.2 828.5L518.1 828.2L512.1 827.5L506.3 826.5L500.7 825.3L495.3 823.8L490.2 822L485.4 820Z" fill="#ff4000"/>
<path d="M487.1 813.8L482.4 810.8L478.2 807.6L474.8 804.1L473.3 802.3L471.4 799.4L469.6 795.5L468.9 793.5L468.3 790.4L468.1 786.3L468.3 784.2L469 781.2L470.4 777.1L471.4 775.1L473.3 772.1L476.3 768.3L478 766.4L480.9 763.8L485.2 760.4L491.3 756.6L496.7 753.8L504 750.8L510.2 748.8L518.3 746.8L524.9 745.7L533.4 744.7L541.9 744.5L550.3 744.8L558.4 745.7L564.7 746.9L572.2 749L577.7 751L584.1 754L588.6 756.8L591.6 759.1L593.5 760.7L596.7 764.1L598.7 766.8L599.9 768.6L601.7 772.4L602.7 776.4L603.1 779.5L603 782.6L602.5 785.7L601.5 788.8L600.2 791.8L598.5 794.9L596.3 797.9L593.8 800.8L590.8 803.6L587.5 806.2L583.9 808.8L580 811.2L575.7 813.4L571.2 815.4L566.4 817.2L561.5 818.8L556.3 820.2L551 821.3L545.6 822.2L540.1 822.9L534.6 823.2L525.5 823.3L520.1 822.9L514.8 822.4L509.6 821.5L504.6 820.4L499.9 819.1L495.3 817.5L491.1 815.8Z" fill="#de0c00"/>
<path d="M494.1 809.3L490 806.8L486.5 804L483.5 801L482.2 799.4L480.6 797L478.9 793.6L478.4 791.9L477.8 789.3L477.6 785.8L477.8 784L478.3 781.3L479.5 777.8L480.4 776.1L481.9 773.5L484.5 770.2L488.4 766.3L492.1 763.4L497.4 760.1L502.1 757.7L508.3 755.1L513.7 753.4L520.7 751.7L526.4 750.6L533.7 749.9L541.1 749.6L548.3 749.9L555.4 750.7L560.8 751.8L567.2 753.5L572 755.3L577.4 757.9L581.3 760.3L585.5 763.7L588.3 766.6L590 768.9L591 770.5L592.5 773.8L593.2 776.4L593.6 779L593.6 781.6L593.3 784.3L592.6 787L591.5 789.6L590.1 792.2L588.4 794.8L586.3 797.3L583.8 799.7L581.1 802.1L578.1 804.3L574.8 806.4L571.2 808.3L567.4 810.1L563.4 811.7L559.2 813.1L554.8 814.4L550.3 815.4L545.7 816.2L541.1 816.8L536.4 817.2L531.7 817.4L527 817.3L522.4 817.1L517.8 816.6L513.4 815.9L509.1 814.9L505.1 813.8L501.2 812.5L497.5 811Z" fill="#b20000"/>
<path d="M502.4 803.9L499.1 801.9L496.3 799.7L493.8 797.3L491.5 794.1L490.1 791.4L489.2 787.9L489 785.1L489.5 781.5L490.5 778.7L492.4 775.2L494.4 772.6L497.6 769.4L500.5 767.1L504.8 764.4L508.5 762.4L513.6 760.3L517.9 758.9L523.5 757.5L528.2 756.7L534.1 756L540 755.8L545.9 756.1L551.6 756.7L556 757.6L561.2 759L565.1 760.5L569.5 762.6L572.6 764.5L575.9 767.3L578.2 769.6L580.3 772.8L581.5 775.5L582 777.6L582.3 779.7L582.3 781.8L582 783.9L581.4 786.1L580.5 788.2L579.4 790.3L578 792.4L576.3 794.4L574.3 796.3L572.1 798.2L569.7 799.9L567 801.6L564.1 803.1L557.9 805.8L551 807.9L543.7 809.4L536.2 810.2L528.7 810.3L521.4 809.7L514.5 808.4L508.1 806.4L505.2 805.2Z" fill="#900000"/>
<circle cx="479.4" cy="737.6" r="2.2" fill="none" stroke="#2424c8" stroke-width="1.05"/>
<circle cx="479.4" cy="741.4" r="2.2" fill="none" stroke="#2424c8" stroke-width="1.05"/>
<circle cx="479.4" cy="748.1" r="2.2" fill="none" stroke="#2424c8" stroke-width="1.05"/>
<path d="M419.9 772.7L522.8 849.5L649.8 785.6M419.9 772.7L414 632.5M522.8 849.5L525.2 851.3M545 838.3L547.5 840.1M566.8 827.4L569.3 829.1M588.2 816.6L590.7 818.4M609.1 806.1L611.6 807.8M629.7 795.8L632.2 797.4M649.8 785.6L652.3 787.3M522.8 849.5L520.1 850.9M507.1 837.8L504.5 839.1M491.8 826.4L489.1 827.7M476.8 815.2L474.2 816.5M462.1 804.2L459.5 805.5M447.8 793.5L445.1 794.7M433.7 783L431.1 784.2M419.9 772.7L417.3 773.9M419.3 757.9L421.9 756.7M418.7 742.8L421.3 741.7M418 727.6L420.7 726.5M417.4 712.2L420 711.1M416.7 696.6L419.4 695.5M416 680.9L418.8 679.8M415.4 664.9L418.1 663.8M414.7 648.8L417.4 647.7M414 632.5L416.8 631.4" fill="none" stroke="#111" stroke-width="1"/>
<path d="M428 730.8L435 720.7L442.5 710.5L449.7 701.5L457.1 693L464.3 685.6L471.5 678.8L478.8 672.6L486.3 667L493.8 662.2L501.2 658.1L508.6 654.8L516 652.2L523.6 650.2L531.2 649L538.6 648.5L545.9 648.8L549.8 649.2L553.8 649.8L557.8 650.7L562.1 651.8L566.3 653.2L570.5 654.7L578.4 658.3L582.5 660.5L586.7 663L594.6 668.3L602.9 674.9L610.4 681.6L615.9 687.4L621.3 694.1L626.7 701.8L631.1 708.7L636.5 718.1L641.9 728.5L647.2 739.8L651.5 749.5L646.9 745.5L643.4 742.7L639.9 740.3L636.3 738.1L631.5 735.6L627.9 734L624.3 732.7L620.6 731.7L615.6 730.9L611.8 730.5L608 730.5L604.2 730.8L600.4 731.3L596.5 732.2L592.6 733.4L588.7 734.8L583.5 737.3L579.5 739.5L575.5 741.9L571.5 744.7L567.5 747.8L563.5 751.2L559.4 754.9L555.4 759L547.2 767.9L539.1 778.1L530.9 789.5L522.7 802L517 789.6L511.3 778.2L505.7 767.8L499 756.7L493.4 748.6L490.1 744.2L486.8 740.2L481.3 734.3L478.1 731.3L474.8 728.7L471.6 726.4L467.4 724L464.2 722.6L460.1 721.2L457 720.7L452.9 720.5L449.9 720.7L445.9 721.6L442.9 722.6L439.1 724.6L436.2 726.4L432.4 729.4L429.6 732L425.9 736L422.3 740.5L418.8 745.6L423.3 738.2Z" fill="#00782e" stroke="#111" stroke-width="1" stroke-linejoin="round"/>
<path d="M423.5 738.9L425.8 734.3L427.3 731.9L435.6 719.8L443.7 708.9L451.9 699L459.4 690.6L466.9 683L474.5 676.1L482.1 670.1L489.5 664.9L497.6 660L505 656.3L512.6 653.3L520.2 651L527.8 649.5L535.4 648.7L542.7 648.6L546.8 648.9L550.8 649.4L555 650.1L559.2 651L563.5 652.2L567.7 653.7L575.5 656.9L579.7 659L583.9 661.3L591.7 666.3L600.1 672.5L607.8 679.2L612.6 683.8L618 690L623.5 697.1L628.9 705.1L634.3 714.1L639.7 724.1L645 735.1L650.4 746.9L650.2 748.3L645.6 744.4L640.9 741L636.2 738L632.6 736.1L629 734.4L625.4 733.1L621.7 732L618 731.2L614.2 730.7L610.5 730.5L606.7 730.6L602.9 731L599 731.6L595.1 732.6L591.2 733.9L587.3 735.4L583.4 737.3L579.4 739.5L575.4 742L571.5 744.8L567.4 747.9L563.4 751.3L559.4 755L555.3 759L547.2 767.9L539 778.1L530.8 789.5L522.7 802L517 789.7L510.2 776.1L503.5 764.1L496.8 753.5L491.3 745.8L488 741.6L484.7 737.9L481.5 734.5L478.2 731.5L475 728.8L471.8 726.5L468.6 724.6L465.5 723.1L462.4 721.9L459.3 721L456.2 720.6L453.1 720.4L450.1 720.7L447.1 721.2L445.2 721.8L442.2 723L439.3 724.4L436.5 726.2L433.6 728.4L429.9 731.7L427.1 734.6Z" fill="#00a500"/>
<path d="M427.4 734.3L429.1 730.3L430.3 727.9L433.3 723L442.5 710.5L451.9 699L459.4 690.6L466.9 683L474.5 676.1L482.1 670.1L489.4 664.9L496.9 660.4L504.4 656.6L511.2 653.8L518.8 651.4L525.7 649.8L533.3 648.8L540.7 648.5L544.7 648.7L548.7 649.1L556.4 650.4L564.2 652.5L571.6 655.2L579.4 658.8L587 663.2L594.6 668.3L602.2 674.3L609.2 680.5L613.6 684.9L619 691.1L624.3 698.2L629.6 706.3L634.9 715.3L640.2 725.2L645.5 736L645.1 740.3L644.5 743.5L639.8 740.2L636.2 738L632.7 736.1L629 734.4L625.4 733.1L621.7 732L618 731.2L614.3 730.7L609.2 730.5L605.4 730.7L601.6 731.1L597.7 731.9L593.9 733L590 734.3L586 736L582.1 738L578.1 740.3L574.1 742.9L567.5 747.9L563.4 751.3L559.4 755L552.6 761.8L544.5 771.2L537.7 779.9L529.5 791.5L522.7 802L517 789.7L510.3 776.2L504.7 766.1L498 755.3L492.5 747.4L489.2 743.1L486 739.2L480.5 733.6L477.3 730.7L474.1 728.1L468.8 724.7L465.7 723.2L462.6 721.9L459.5 721.1L456.4 720.6L453.4 720.4L450.4 720.6L448.4 721L445.4 721.7L442.5 722.8L439.6 724.3L436.7 726.1L433.9 728.2L431.1 730.6Z" fill="#00dc00"/>
<path d="M431.8 729.9L433.1 725.9L434.3 722.9L435.8 720L437.6 717.1L443.7 708.9L450.8 700.2L458.4 691.6L466.2 683.7L474.1 676.5L482 670.1L488.8 665.3L496.2 660.8L503.3 657.1L510.5 654L517.4 651.7L524.3 650.1L531.5 649L538.6 648.5L545.9 648.8L553.6 649.8L560.8 651.4L568.4 653.9L575.5 656.9L583.2 660.9L590.2 665.3L597.4 670.4L603.9 675.7L610.4 681.6L615.9 687.5L620.3 692.8L623.6 697.3L626.9 702L632.4 710.8L636.7 718.5L640 724.7L640.1 726.3L640 729.3L639.7 732.4L639.1 735.4L637.9 739L634.4 737L630.8 735.2L627.2 733.7L623.5 732.5L619.8 731.6L616.1 730.9L609.8 730.5L606 730.6L602.2 731L598.3 731.8L594.4 732.8L590.5 734.1L586.6 735.8L580 739.1L573.4 743.4L568.1 747.4L562.7 751.9L557.3 757L550.5 764.1L543.7 772.1L536.9 780.9L530.1 790.6L528.3 790.6L517.4 790.4L511.7 778.9L506.1 768.5L500.5 759.1L493.8 749.1L488.3 742L482.8 735.8L477.4 730.7L474.2 728.2L471 726L466.7 723.6L464.6 722.7L461.5 721.6L459.4 721.1L456.4 720.6L454.3 720.5L451.3 720.5L447.3 721.2L445.3 721.8L442.4 722.9L440.4 723.8L437.5 725.5L434.7 727.6Z" fill="#46fa00"/>
<path d="M436.9 725.9L437.5 722.6L438.1 720.4L439.9 715.6L442.6 710.7L446.4 705.5L455.1 695.3L463.6 686.2L472.1 678.2L480.7 671.1L488.1 665.8L494.8 661.6L501.6 657.9L508.6 654.8L515.9 652.2L522.9 650.4L529.9 649.2L536.8 648.6L544.5 648.7L551.5 649.5L558.5 650.9L565.6 652.9L572.6 655.6L579.7 659L586.7 663L593.7 667.7L601.1 673.4L608.5 679.8L613.6 684.8L618.8 690.9L623.1 696.5L626.2 701L630.4 707.6L633.6 712.9L634.1 715.9L634.3 718.7L634.1 722.9L633.3 727.2L631.9 731.5L630.3 735L624.3 732.7L619.4 731.5L613.2 730.6L608.3 730.5L602 731.1L596.9 732.1L591.8 733.7L586.6 735.8L580.1 739.1L574.9 742.4L568.3 747.2L563 751.7L556.3 758L551 763.6L544.3 771.5L538.9 778.3L531.5 778.7L520.6 778.6L511.3 778.1L506.8 769.8L501.3 760.3L495.8 751.9L490.3 744.4L484.9 738L479.5 732.6L474.2 728.2L468.9 724.8L465.8 723.2L461.6 721.7L457.5 720.7L453.5 720.4L449.5 720.8L445.6 721.7L441.7 723.2Z" fill="#bef810"/>
<path d="M443.1 722.6L443.1 718.6L443.5 716L444.1 713.4L444.9 710.7L446 708.1L447.3 705.6L450.2 701.2L452.1 698.7L455.8 694.4L463.7 686.1L471.3 679L478.8 672.6L485.4 667.6L492.7 662.8L499.6 658.9L506.5 655.7L513.8 652.9L520.8 650.8L527.8 649.5L534.7 648.7L541.7 648.6L548.7 649.1L555.7 650.2L562.1 651.8L568.7 654L575.5 656.9L582.2 660.4L588.9 664.4L596.4 669.7L603.6 675.5L610.4 681.6L615.9 687.4L621.3 694.1L625.6 700.2L627.2 704.6L627.7 707.1L628 709.7L628.1 712.3L627.9 715L627.4 717.6L626.7 720.3L625.8 722.9L624.5 725.6L623.1 728.2L620.6 731.7L615.7 730.9L612 730.5L608.3 730.5L604.5 730.8L600.7 731.3L596.9 732.1L593.1 733.2L589.2 734.7L584 737L578.8 739.9L573.6 743.3L569.6 746.2L564.3 750.5L559 755.4L553.6 760.8L549.6 765.1L544.5 765.7L536.9 766.4L529.2 766.6L519.1 766.4L511.6 765.9L504.1 765L500.7 759.5L496.3 752.7L493 748.1L488.7 742.4L485.4 738.6L481.1 734.1L477.9 731.2L473.6 727.8L470.5 725.7L466.3 723.4L463.2 722.2L459.1 721L455 720.5L451 720.6L447 721.3Z" fill="#ffff00"/>
<path d="M451.4 720.5L450.5 717.6L450.1 715.2L449.9 712.8L450 710.4L450.3 707.9L451 704.9L452 701.9L453.1 699.5L454.4 697.2L456 694.9L459.1 690.9L465.6 684.3L472.1 678.2L479.4 672.1L486.8 666.7L494.2 662L501.6 657.9L509.1 654.6L516.7 652L524.2 650.1L531.2 649L537.6 648.6L544.5 648.7L550.8 649.4L557.1 650.5L563.7 652.3L570.5 654.7L576.8 657.6L583.2 660.9L590.9 665.8L598.7 671.4L606.6 678.1L613.1 684.3L614.8 686.2L616.4 688.4L618.6 692.2L620.2 696.2L620.8 698.6L621.2 700.9L621.4 703.3L621.3 705.8L620.7 709.4L619.6 713.1L618 716.7L615.8 720.3L613.1 723.8L609.9 727.2L606.2 730.6L601.2 731.2L596.2 732.3L591.1 733.9L586 736.1L580.8 738.7L575.6 741.9L570.4 745.6L565.2 749.8L555.5 751.8L546.2 753.2L539.2 753.8L532.1 754.2L527.4 754.3L520.4 754.1L513.5 753.6L506.8 752.8L500.2 751.7L494.8 750.5L489.3 743.2L483.8 736.9L478.4 731.7L473.1 727.4L467.8 724.2L465.7 723.2L462.6 722L460.5 721.3L457.5 720.7L454.4 720.5Z" fill="#ff9c00"/>
<path d="M479.3 731.3L475.6 729.3L472.6 727L469.5 725.1L467.9 723.8L465.9 721.9L463.3 719L461.8 717L460 713.9L459.1 711.8L458.3 709.6L457.8 707.5L457.5 704.2L457.6 701.4L458 698.7L458.7 696L459.8 693.3L461.2 690.6L462.8 688L464.8 685.4L467.1 682.9L474.8 675.9L483.1 669.3L490.8 664L499.1 659.2L507.1 655.4L511.2 653.8L515.3 652.4L522.2 650.5L528.5 649.4L535.4 648.7L541.7 648.6L548.7 649.1L555 650.1L561.8 651.7L568.4 653.9L576.1 657.2L583.9 661.3L591.6 666.3L599.2 671.9L604.6 676.4L608 680.1L609.5 682L611 684.5L612.2 687.1L613 689.2L613.7 692.4L614 695.6L613.7 698.9L613 702.2L611.8 705.5L610.1 708.8L608 712L605.4 715.2L602.3 718.2L598.8 721.2L594.9 724L590.5 726.7L585.8 729.2L580.8 731.5L575.4 733.6L569.8 735.5L563.9 737.2L557.9 738.6L551.6 739.7L545.3 740.6L538.9 741.2L532.5 741.5L521.8 741.4L511.5 740.5L505.5 739.6L499.7 738.4L494.1 737L488.8 735.3L483.9 733.4Z" fill="#ff4000"/>
<path d="M485.6 719.4L480.6 716.6L478.4 715.1L475.4 712.8L473.6 711.1L471.2 708.6L469.9 706.8L468.2 704.1L466.7 700.3L466.2 698.4L465.9 695.5L466 693.1L466.3 690.6L466.9 688.2L467.9 685.8L469.1 683.4L470.6 681.1L472.4 678.8L474.4 676.6L478.1 673.2L485.4 667.6L492.8 662.8L500.3 658.6L507.8 655.1L515.3 652.4L521.5 650.7L527.8 649.5L534 648.7L540.3 648.5L546.6 648.9L552.8 649.7L558.8 650.9L564.9 652.7L571.9 655.3L579.4 658.8L586.7 663L593.7 667.8L597.4 670.8L600.8 674.5L602.3 676.7L603.3 678.5L604.8 682.2L605.4 685L605.6 687.9L605.4 690.8L604.8 693.7L603.7 696.6L602.1 699.5L600.2 702.4L597.8 705.2L595.1 707.9L591.9 710.5L588.4 713L584.5 715.3L580.3 717.5L575.8 719.6L571.1 721.4L566.1 723.1L560.8 724.5L555.4 725.7L549.9 726.7L544.3 727.5L538.6 728L532.9 728.3L523.4 728.2L514.2 727.5L508.9 726.7L503.7 725.6L498.7 724.4L494.1 722.9L489.6 721.3Z" fill="#de0c00"/>
<path d="M492.7 707L488.4 704.6L483.9 701.4L482.3 700L480.3 697.8L479.1 696.3L477.7 693.9L476.3 690.7L475.9 689.1L475.6 686.6L475.6 685L475.9 682.5L476.3 680.8L477.2 678.4L479 675.1L482 671.2L485.1 668.2L489.7 664.7L496.2 660.8L503 657.2L509.6 654.4L515.9 652.2L521.5 650.7L527.3 649.5L533.3 648.8L538.9 648.5L544.5 648.7L550.1 649.3L555.8 650.2L561.8 651.7L567.7 653.7L574 656.3L580.9 659.7L585.1 662.2L589.1 665.5L591.7 668.3L593.3 670.6L594.2 672.1L595.4 675.2L595.9 677.7L596.1 680.1L595.9 682.6L595.3 685.1L594.3 687.6L593 690.1L591.3 692.5L589.2 694.9L586.8 697.2L584.1 699.4L581 701.5L577.7 703.5L574.1 705.4L570.2 707.1L563.3 709.6L558.8 710.9L554.2 712L549.5 712.9L544.7 713.6L539.9 714.1L535 714.5L526.8 714.5L522 714.2L517.3 713.8L512.7 713.1L508.3 712.3L504 711.2L500 710L496.2 708.6Z" fill="#b20000"/>
<path d="M501.2 693.8L497.8 691.9L494.1 689.3L491.7 687.1L489.4 684L488.2 681.5L487.8 680.2L487.4 678.3L487.3 675.6L488 672.3L489.2 669.7L491.3 666.5L493.5 664L497 661.1L500.1 659L504.7 656.5L509.6 654.4L515.3 652.4L520.8 650.8L525.7 649.8L531.2 649L536.1 648.6L541.7 648.6L546.6 648.9L551.8 649.5L557.1 650.5L562.8 652L567.4 653.6L571.9 655.7L575.1 657.5L578.4 660.1L580.6 662.3L582.7 665.3L583.8 667.8L584.3 669.8L584.5 671.7L584.4 673.7L584 675.7L583.3 677.7L582.3 679.7L581 681.6L579.4 683.5L577.6 685.4L575.4 687.1L573.1 688.9L570.4 690.5L564.5 693.4L557.9 695.8L550.6 697.7L543 699L535.2 699.7L528.7 699.7L521 699.1L513.8 697.9L507.1 696.1Z" fill="#900000"/>
<path d="M428 730.8L435 720.7L442.5 710.5L449.7 701.5L457.1 693L464.3 685.6L471.5 678.8L478.8 672.6L486.3 667L493.8 662.2L501.2 658.1L508.6 654.8L516 652.2L523.6 650.2L531.2 649L538.6 648.5L545.9 648.8L553.8 649.8L562.1 651.8L570.5 654.7L578.4 658.3L586.7 663L594.6 668.3L602.9 674.9L610.4 681.6L615.9 687.4L621.3 694.1L626.7 701.8L631.1 708.7L636.5 718.1L641.9 728.5L647.2 739.8L651.5 749.5L643.4 742.7L636.3 738.1L631.5 735.6L627.9 734L620.6 731.7L615.6 730.9L611.8 730.5L604.2 730.8L596.5 732.2L588.7 734.8L583.5 737.3L579.5 739.5L571.5 744.7L563.5 751.2L555.4 759L547.2 767.9L539.1 778.1L530.9 789.5L522.7 802L517 789.6L511.3 778.2L505.7 767.8L499 756.7L493.4 748.6L486.8 740.2L481.3 734.3L474.8 728.7L471.6 726.4L467.4 724L464.2 722.6L460.1 721.2L457 720.7L452.9 720.5L449.9 720.7L445.9 721.6L442.9 722.6L439.1 724.6L436.2 726.4L432.4 729.4L429.6 732L425.9 736L422.3 740.5L418.8 745.6Z" fill="url(#shf)"/>
<path d="M522.7 802L517 789.6L509.9 775.5L502.9 763L499.4 757.3L495.9 752.1L492.4 747.3L489 742.8L485.6 738.8L482.1 735.2L478.8 731.9L475.4 729.1L472 726.7L468.7 724.7L466.1 723.3L462.2 721.8L459.6 721.1L455.7 720.5L453.2 720.4L449.4 720.8L446.9 721.3L443.2 722.5L440.8 723.7L437.1 725.8L434.8 727.5L431.2 730.5L428.9 732.7L425.5 736.5L422.1 740.8L418.8 745.6M522.7 802L529.5 791.5L538 779.4L546.5 768.7L550.8 763.8L555 759.3L559.3 755.1L563.5 751.2L567.7 747.7L571.8 744.5L576 741.6L580.2 739.1L584.3 736.9L588.4 735L591.6 733.7L596.5 732.2L599.7 731.5L604.5 730.7L607.7 730.5L612.5 730.6L615.6 730.9L620.3 731.7L623.3 732.4L627.9 734L630.9 735.3L635.4 737.6L638.4 739.3L642.8 742.3L647.2 745.7L651.5 749.5M529.8 790.9L524.2 778.5L517.1 764.4L510.1 751.8L506.6 746.2L503.1 740.9L499.6 736.1L496.1 731.7L492.7 727.6L489.3 724L485.9 720.8L482.5 718L479.1 715.5L475.8 713.5L473.1 712.2L469.2 710.7L466.6 710L462.7 709.4L460.1 709.4L456.3 709.7L453.8 710.3L450.1 711.5L447.6 712.7L444 714.8L441.5 716.5L438 719.5L435.6 721.8L432.2 725.7L428.8 730L425.4 734.8M516.7 789L523.5 778.4L532.1 766.3L536.3 760.8L540.6 755.6L544.8 750.7L549.1 746.2L553.3 742L557.5 738.1L561.7 734.6L565.9 731.4L570.1 728.5L574.2 726L578.4 723.7L582.5 721.9L585.7 720.6L590.6 719.1L593.9 718.4L598.7 717.7L601.9 717.5L606.6 717.5L609.8 717.8L614.4 718.6L617.5 719.4L622.1 721L625.2 722.3L629.7 724.6L632.7 726.4L637.1 729.4L641.5 732.9L645.8 736.7M537 780.8L531.4 768.3L524.3 754.2L517.2 741.6L513.7 736L510.2 730.7L504 722.3L500.5 718.2L497.1 714.5L493.6 711.2L490.2 708.3L486.9 705.8L483.5 703.7L480.8 702.3L477.5 700.9L474.2 700L471 699.4L467.7 699.2L464.5 699.4L461.3 700L458.2 700.9L455.1 702.2L452 703.9L449 706L446 708.4L443 711.2L440.1 714.3L436.6 718.5L433.5 722.8M510.7 777.1L517.6 766.5L526.1 754.4L530.4 748.8L534.6 743.6L538.9 738.7L543.1 734.2L547.3 730L551.6 726.1L555.8 722.6L559.9 719.4L564.1 716.5L568.3 714L572.4 711.8L576.5 709.9L579.8 708.6L584.7 707.1L588 706.4L592.8 705.7L596 705.5L600.7 705.6L603.9 705.9L608.6 706.7L611.7 707.5L616.3 709.1L619.4 710.4L623.9 712.8L626.9 714.6L631.4 717.6L635.7 721.1L640.1 724.9M544.2 771.5L538.5 759L531.5 744.9L525.1 733.5L521.6 727.8L518.1 722.4L511.8 713.8L508.3 709.7L504.9 705.9L502.1 703.1L498.7 700.1L495.3 697.4L491.9 695.2L488.5 693.3L485.9 692.2L483.2 691.2L479.3 690.3L476.6 690L472.8 690L470.2 690.3L466.4 691.3L463.9 692.2L460.1 694L457.7 695.5L454 698.2L451.6 700.3L448 703.9L443 709.9M504.8 766.3L511.6 755.6L520.2 743.6L524.4 738L528.7 732.8L532.9 727.9L537.1 723.4L541.4 719.1L545.6 715.3L549.8 711.7L554 708.5L558.2 705.7L562.3 703.1L566.5 700.9L570.6 699.1L573.9 697.8L578.8 696.3L582 695.6L586.9 694.9L590.1 694.7L594.9 694.8L598 695.1L602.7 695.9L605.9 696.8L610.5 698.4L613.5 699.7L618.1 702L621.1 703.8L625.6 706.9L630 710.4L634.4 714.3M551.4 763.2L545.7 750.7L538.6 736.5L532.3 725.2L525.9 715.1L519.6 706.4L516.1 702.1L513.4 699L510.6 696.1L507.2 692.9L503.7 690.1L500.3 687.7L497.6 686.1L494.3 684.4L491.6 683.3L488.3 682.4L485.6 681.9L482.3 681.6L479.1 681.8L475.9 682.3L473.3 683L470.8 683.9L468.3 685.1L464.5 687.3L462.1 689L458.4 692.1L456 694.4L452.6 698.1M498.9 756.6L505.7 746L514.2 733.9L518.5 728.3L522.7 723.1L527 718.2L531.2 713.7L535.4 709.5L539.7 705.6L543.9 702L548.1 698.8L552.2 696L556.4 693.4L560.6 691.2L564.7 689.4L568 688.1L572.9 686.6L576.1 685.9L581 685.2L584.2 685L589 685.1L592.1 685.4L596.9 686.3L600 687.1L604.6 688.7L607.7 690L612.3 692.4L615.3 694.2L619.8 697.3L624.2 700.8L628.6 704.7M558.5 755.8L552.8 743.3L547.2 731.9L541.5 721.4L534.5 709.8L528.1 700.8L521.9 693.1L519.1 690.1L515.6 686.7L512.9 684.3L509.4 681.7L506.7 679.9L504 678.3L501.3 677L497.3 675.5L494.6 674.8L492 674.4L488.7 674.2L485.4 674.4L482.8 674.9L479.6 675.8L476.4 677.1L473.9 678.4L471.4 679.9L467.7 682.6L465.2 684.7L462.4 687.4M493.1 748.1L499.9 737.5L508.3 725.4L512.6 719.8L516.8 714.6L521.1 709.7L525.3 705.1L529.5 700.9L533.7 697L537.9 693.5L542.1 690.3L546.3 687.4L550.5 684.9L554.6 682.7L558.8 680.8L562.1 679.6L567 678.1L570.2 677.4L575.1 676.7L578.3 676.5L583.1 676.6L586.3 676.9L591 677.7L594.1 678.6L598.8 680.2L601.9 681.5L606.4 683.9L609.5 685.7L614 688.7L618.4 692.2L622.8 696.2M565.6 749.4L559.9 736.9L554.3 725.4L548.6 715L541.6 703.4L535.9 695.3L529.6 687.5L526.9 684.4L523.4 680.9L517.9 676.2L515.1 674.3L512.4 672.6L509.7 671.1L507 670L504.3 669L501.6 668.4L499 667.9L495 667.8L492.4 668L489.1 668.6L486.5 669.3L483.3 670.6L480.8 671.9L478.3 673.4L475.8 675.2L472.4 678M487.3 740.7L494 730.1L502.5 718L506.7 712.4L511 707.2L515.2 702.3L519.4 697.8L523.6 693.6L527.9 689.7L532.1 686.1L536.2 682.9L540.4 680L544.6 677.5L548.7 675.3L552.9 673.4L556.2 672.2L561.1 670.7L564.3 670L569.2 669.3L572.4 669.1L577.2 669.2L580.4 669.5L585.1 670.3L588.3 671.2L592.9 672.8L596 674.1L600.6 676.5L603.6 678.3L608.2 681.3L612.6 684.8L617 688.7M572.6 743.9L567 731.4L561.3 719.9L555.7 709.5L550 700.1L544.4 691.7L538.8 684.4L533.2 678.2L530.4 675.4L527 672.4L521.5 668.3L518.7 666.7L516 665.3L512.6 664L509.9 663.2L507.3 662.6L504.6 662.3L501.9 662.3L499.3 662.5L496.7 662.9L493.4 663.8L490.2 665.1L487.7 666.4L485.1 667.9L482.4 669.8M481.5 734.5L488.3 723.9L496.7 711.8L500.9 706.2L505.2 701L509.4 696.1L513.6 691.6L517.8 687.3L522 683.5L526.2 679.9L530.4 676.7L534.6 673.8L538.7 671.3L542.9 669.1L547 667.2L550.3 666L555.2 664.5L558.4 663.7L563.3 663L566.5 662.8L571.3 662.9L574.5 663.2L579.3 664.1L582.4 664.9L587.1 666.5L590.2 667.8L594.8 670.2L597.8 672L602.3 675L606.8 678.5L611.2 682.4M579.6 739.4L574 726.9L568.4 715.4L563.4 706.2L557.8 696.7L552.8 689.2L546.5 680.8L540.9 674.4L535.4 669L530.5 665.2L527.8 663.3L525.1 661.8L522.3 660.5L519.6 659.4L516.9 658.6L513.5 657.9L508.9 657.7L506.2 657.9L503 658.5L498.4 659.9L495.8 661.1L492.6 662.9M475.8 729.4L482.5 718.8L491 706.7L495.2 701.2L499.4 696L503.6 691.1L507.8 686.5L515.4 679.2L519.5 675.5L523.7 672.3L527.1 669.9L531.2 667.2L535.4 664.9L539.5 662.8L543.6 661.2L547.7 659.8L551 659L555 658.2L559.1 657.8L562.3 657.7L565.5 657.8L570.3 658.3L573.4 659L578.1 660.2L581.2 661.4L585.9 663.4L588.9 665L593.5 667.8L596.5 669.8L600.6 672.9M586.6 735.8L582.4 726.3L576.7 714.6L571.1 703.9L565.4 694.2L560.5 686.6L554.9 678.9L550 673L544.4 667.3L539.6 663.1L536.8 661.1L534.1 659.3L529.3 656.8L526.5 655.8L523.2 654.8L518.5 654.1L515.8 654L513.1 654.2L510.5 654.7L507.9 655.3L505.3 656.3L502.9 657.3M470.2 725.5L476.9 714.9L483.6 705.1L490.3 696.2L493.7 692.1L498.7 686.2L506.3 678.4L513.8 671.6L517.1 669L521.3 666L524.6 663.8L528.7 661.4L535.3 658.2L538.6 656.9L543.5 655.4L546.8 654.7L550 654.2L554.1 653.8L558.1 653.8L561.3 653.9L565.2 654.5L569.2 655.3L572.3 656.2L575.4 657.3L580.1 659.4L586.3 662.8M593.4 733.1L589.2 723.7L583.6 711.9L578.7 702.5L573.8 693.9L569.6 687.2L563.9 679.1L558.3 672L553.4 666.7L548.6 662.2L543.7 658.4L538.9 655.5L536.2 654.2L533.4 653.1L530.7 652.3L528 651.7L523.3 651.3L518.7 651.7L516 652.2L513.3 653M464.6 722.7L471.3 712.1L478 702.4L484.7 693.4L491.4 685.4L498.1 678.1L504.7 671.7L511.4 666.2L514.7 663.8L518.9 661L525.5 657.3L532 654.5L536.1 653.1L539.4 652.2L542.6 651.6L545.9 651.2L549.1 650.9L552.3 650.9L555.5 651.1L558.7 651.5L565 652.9L568.1 653.8L571.7 655.2M600.2 731.4L596.1 721.9L590.5 710.2L586.2 702.1L581.3 693.4L576.4 685.5L571.5 678.3L566.6 672L561.7 666.4L557.5 662.3L552.7 658.2L547.8 654.9L543 652.4L538.9 650.9L536.2 650.2L533.5 649.7L530.8 649.5L528.1 649.6L523.8 650.2M459.2 721L464.1 713L470.8 703.1L476.6 695L482.4 687.7L489.1 680L494.9 674L500.8 668.7L507.4 663.3L513.2 659.4L519.8 655.7L525.5 653.1L532 651L535.3 650.2L538.5 649.7L541.7 649.3L544.9 649.2L550.5 649.4L556.7 650.4M607 730.6L602.8 721.1L598.6 712.3L594.4 704L588.8 693.8L584.6 686.9L580.4 680.5L575.5 673.8L570.6 667.9L566.4 663.5L561.6 659.1L557.4 655.9L552.6 652.9L548.5 651L543.7 649.5L538.9 648.7L534.3 648.7M453.8 720.4L458.7 712.5L463.7 704.9L468.6 697.9L475.3 689.2L481.1 682.3L486.9 676L491.9 671.1L497.7 666.1L503.4 661.6L508.4 658.4L514.1 655.1L519.9 652.6L525.6 650.6L531.2 649.3L536 648.7L541.4 648.6M613.6 730.7L609.5 721.2L605.3 712.4L601.1 704.1L596.9 696.4L592.7 689.3L587.8 681.7L583.6 675.8L578.7 669.7L574.6 665.1L570.4 661L566.2 657.6L562.1 654.7L557.9 652.3L553.1 650.4L548.4 649.1L544.9 648.7M448.5 720.9L452.6 714.3L457.5 706.7L461.6 700.7L467.4 692.9L471.5 687.7L476.5 681.9L481.4 676.6L487.2 671L491.3 667.3L496.3 663.4L501.2 660L506.9 656.6L511 654.5L515.9 652.5L520.8 650.9L525.8 649.8M620.2 731.6L616.7 723.8L612.6 714.9L609.1 707.9L604.2 698.7L600.7 692.7L596.6 685.9L592.4 679.7L588.2 674.2L584 669.1L579.8 664.7L575.7 660.8L571.5 657.6L567.4 654.8L563.2 652.7L559.1 651.1L555.6 650.2M443.3 722.5L451.4 709.5L459.6 697.8L467.8 687.4L472.7 681.7L476.9 677.4L481 673.4L485.1 669.7L489.2 666.3L493.3 663.3L497.3 660.6L501.4 658.2L505.5 656.1L510 654.2M626.6 733.5L619.8 718.2L615.6 709.8L612.1 703.2L608.7 697L604.5 690.1L601 684.7L596.9 678.8L593.4 674.4L589.2 669.6L585 665.3L581.6 662.2L578.1 659.5L574 656.8L569.8 654.6L566.2 653.1M438.1 725.1L444.6 714.7L451.1 705L457.7 696.2L465.8 686.3L472.4 679.3L479.7 672.4L483 669.7L487.1 666.6L494 662.1M633 736.3L626.2 721L619.3 707.3L612.4 695.1L609.6 690.7L605.4 684.5L601.9 679.9L598.5 675.5L595 671.6L590.9 667.5L587.4 664.4L583.9 661.8L580.5 659.5L576.9 657.6M433.1 728.8L438 720.9L444.4 711.1L449.3 704.2L455 696.8L460.6 690.1L466.3 683.9L472 678.4L477.7 673.5M639.3 739.9L633.8 727.6L627 713.6L620.8 702.3L617.3 696.6L613.9 691.3L607.6 682.7L604.2 678.4L600.7 674.6L598 671.8L594.5 668.7L591.1 666L587.6 663.6M428.2 733.4L436.2 720.6L441.1 713.5L445.1 707.9L453.1 697.6L457.2 693L461.4 688.5M645.4 744.3L640 732L634.6 720.7L629.1 710.4L622.2 699L616.7 690.9L610.5 683L607.7 679.9L604.3 676.4L601.5 673.8L598.3 671.1M423.4 739L428.2 731.2L434.6 721.5L440.2 713.6L445 707.3M651.5 749.5L646.1 737.3L640.7 726.1L635.9 717L630.4 707.6L625.6 700.2L619.5 691.7L614 685.3L608.9 680.2M418.8 745.6L423.5 737.8L428.5 730" fill="none" stroke="#0a0a0a" stroke-width="1.05" stroke-linejoin="round"/>
<circle cx="496.3" cy="654.1" r="2.2" fill="none" stroke="#2424c8" stroke-width="1.05" opacity="0.9"/>
<circle cx="478.7" cy="705.2" r="2.2" fill="none" stroke="#2424c8" stroke-width="1.05" opacity="0.9"/>
<circle cx="534.4" cy="654.1" r="2.2" fill="none" stroke="#2424c8" stroke-width="1.05" opacity="0.9"/>
<circle cx="587.1" cy="655.4" r="2.2" fill="none" stroke="#2424c8" stroke-width="1.05" opacity="0.9"/>
<circle cx="627.3" cy="710.7" r="2.2" fill="none" stroke="#2424c8" stroke-width="1.05" opacity="0.9"/>
<circle cx="518" cy="751.4" r="2.2" fill="none" stroke="#2424c8" stroke-width="1.05" opacity="0.9"/>
<path d="M496.3 656.1V662" stroke="#2a2ad0" stroke-width="0.8" fill="none" stroke-dasharray="1.5 1"/>
<g fill="#111" stroke="#111" stroke-width="0.32"><text transform="matrix(1.000 -0.340 0.000 1.000 414.8 763.1)" font-size="12.5" text-anchor="end">0.0</text><text transform="matrix(1.000 -0.340 0.000 1.000 414.2 748)" font-size="12.5" text-anchor="end">0.2</text><text transform="matrix(1.000 -0.340 0.000 1.000 413.5 732.8)" font-size="12.5" text-anchor="end">0.4</text><text transform="matrix(1.000 -0.340 0.000 1.000 412.9 717.4)" font-size="12.5" text-anchor="end">0.6</text><text transform="matrix(1.000 -0.340 0.000 1.000 412.2 701.8)" font-size="12.5" text-anchor="end">0.8</text><text transform="matrix(1.000 -0.340 0.000 1.000 411.5 686.1)" font-size="12.5" text-anchor="end">1.0</text><text transform="matrix(1.000 -0.340 0.000 1.000 410.9 670.1)" font-size="12.5" text-anchor="end">1.2</text><text transform="matrix(1.000 -0.340 0.000 1.000 410.2 654)" font-size="12.5" text-anchor="end">1.4</text><text transform="matrix(1.000 -0.340 0.000 1.000 409.5 637.7)" font-size="12.5" text-anchor="end">1.6</text><text transform="matrix(0.721 0.538 -0.892 0.451 527.8 853.3)" font-size="12" text-anchor="start" y="3.5">4</text><text transform="matrix(0.728 0.529 -0.892 0.451 550.1 842)" font-size="12" text-anchor="start" y="3.5">6</text><text transform="matrix(0.734 0.520 -0.892 0.451 571.9 831)" font-size="12" text-anchor="start" y="3.5">8</text><text transform="matrix(0.740 0.512 -0.892 0.451 593.3 820.2)" font-size="12" text-anchor="start" y="3.5">10</text><text transform="matrix(0.746 0.503 -0.892 0.451 614.2 809.6)" font-size="12" text-anchor="start" y="3.5">12</text><text transform="matrix(0.752 0.495 -0.892 0.451 634.8 799.2)" font-size="12" text-anchor="start" y="3.5">14</text><text transform="matrix(0.757 0.487 -0.892 0.451 654.9 789)" font-size="12" text-anchor="start" y="3.5">16</text><text transform="matrix(0.768 -0.386 0.719 0.541 516.7 852.6)" font-size="12" text-anchor="end" y="3.5">0.08</text><text transform="matrix(0.771 -0.381 0.719 0.541 501.1 840.8)" font-size="12" text-anchor="end" y="3.5">0.10</text><text transform="matrix(0.774 -0.376 0.719 0.541 485.8 829.3)" font-size="12" text-anchor="end" y="3.5">0.12</text><text transform="matrix(0.776 -0.371 0.719 0.541 470.8 818.1)" font-size="12" text-anchor="end" y="3.5">0.14</text><text transform="matrix(0.778 -0.366 0.719 0.541 456.1 807)" font-size="12" text-anchor="end" y="3.5">0.16</text><text transform="matrix(0.781 -0.361 0.719 0.541 441.8 796.3)" font-size="12" text-anchor="end" y="3.5">0.18</text><text transform="matrix(0.783 -0.356 0.719 0.541 427.8 785.7)" font-size="12" text-anchor="end" y="3.5">0.20</text><text transform="matrix(0.785 -0.351 0.719 0.541 414 775.4)" font-size="12" text-anchor="end" y="3.5">0.22</text><text transform="matrix(0.887 -0.462 0.740 0.512 618 839.3)" font-size="15.5" text-anchor="middle">NaCl (g/L)</text><text transform="matrix(0.706 0.558 -0.904 0.428 422.2 832.8)" font-size="15.5" text-anchor="middle">Initial OD</text><text transform="matrix(0.080 1.000 -1.000 0.000 376.4 718.1)" font-size="15" text-anchor="middle" font-weight="bold">Protease activity</text><text transform="matrix(0.080 1.000 -1.000 0.000 359.9 722.6)" font-size="15" text-anchor="middle" font-weight="bold">(U/mL)</text></g>
</g>
<text x="62" y="17.5" font-size="18.5" fill="#111">(a)</text>
<text x="396.5" y="17.5" font-size="18.5" fill="#111">(b)</text>
<text x="61" y="290" font-size="18.5" fill="#111">(c)</text>
<text x="354.5" y="310" font-size="18.5" fill="#111">(d)</text>
<text x="17" y="604" font-size="18.5" fill="#111">(e)</text>
<text x="353.5" y="604" font-size="18.5" fill="#111">(f)</text>
</svg>
</body></html>
